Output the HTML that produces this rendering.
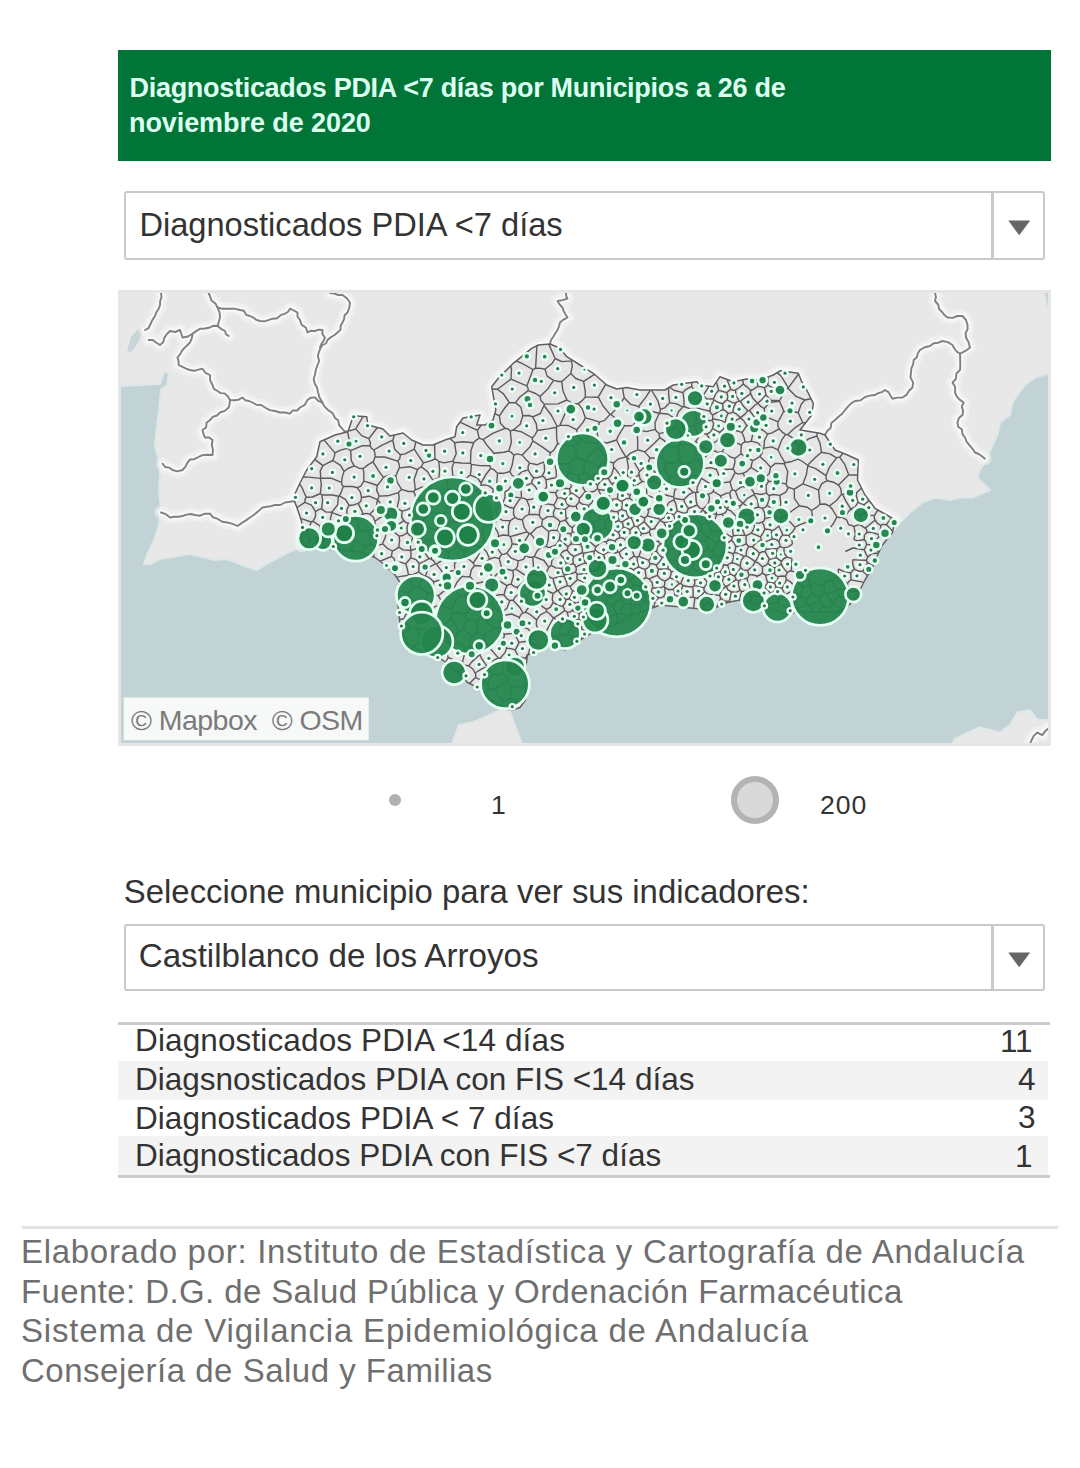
<!DOCTYPE html>
<html lang="es"><head><meta charset="utf-8"><title>Diagnosticados PDIA</title>
<style>
html,body{margin:0;padding:0;background:#fff}
body{width:1080px;height:1468px;position:relative;overflow:hidden;font-family:"Liberation Sans",sans-serif}
.t{position:absolute;white-space:pre;font-family:"Liberation Sans",sans-serif}
.dd{position:absolute;left:124.2px;width:920.4px;box-sizing:border-box;border:2.75px solid #c9c9c9;border-radius:3px;background:#fff}
</style></head><body>
<div style="position:absolute;left:118px;top:50px;width:933px;height:111px;background:#007537"></div>
<div class="t" style="left:129.5px;top:70.64px;font-size:27px;line-height:34px;color:#defff0;font-weight:bold;letter-spacing:-0.29px;">Diagnosticados PDIA &lt;7 días por Municipios a 26 de</div>
<div class="t" style="left:129px;top:106.34px;font-size:27px;line-height:34px;color:#defff0;font-weight:bold;letter-spacing:-0.08px;">noviembre de 2020</div>
<div class="dd" style="top:191px;height:68.7px"></div><div style="position:absolute;left:991px;top:193px;width:2.75px;height:64.7px;background:#c9c9c9"></div><svg style="position:absolute;left:1004px;top:216.15px" width="30" height="24" viewBox="0 0 30 24"><path d="M4.3 4.5 L26.2 4.5 L15.2 19.3 Z" fill="#666"/></svg><div class="t" style="left:139.4px;top:203.70px;font-size:32.62px;line-height:41px;color:#333;font-weight:normal;letter-spacing:0px;">Diagnosticados PDIA &lt;7 días</div>
<svg style="position:absolute;left:118px;top:290px" width="933" height="456" viewBox="118 290 933 456">
<rect x="118" y="290" width="933" height="456" fill="#c1d3d4"/>
<polygon points="118.0,290.0 1043.7,290.0 1047.5,310.0 1051.0,310.0 1051.0,373.0 1047.5,373.7 1035.0,377.5 1025.0,385.0 1017.5,395.0 1012.5,402.5 1010.0,415.0 1000.0,422.5 997.5,435.0 992.5,445.0 987.5,457.5 980.0,470.0 977.5,477.5 985.0,485.0 990.0,490.0 972.5,497.5 960.0,497.5 950.0,500.0 935.0,497.5 922.5,502.5 910.0,512.5 900.0,522.5 892.5,532.5 882.5,545.0 877.0,556.0 872.5,567.5 865.0,580.0 860.0,590.0 855.0,600.0 848.0,606.0 838.0,612.0 820.0,612.0 800.0,612.0 785.0,614.0 765.0,606.0 740.0,600.0 727.5,602.5 710.0,610.0 685.0,607.5 660.0,605.0 647.5,610.0 630.0,616.0 612.0,626.0 595.0,631.0 580.0,640.0 565.0,650.0 550.0,645.0 535.0,652.5 527.5,655.0 525.0,675.0 525.5,700.0 520.0,707.5 512.5,710.0 500.0,706.0 488.0,697.0 477.5,687.5 467.5,682.5 458.0,672.0 442.5,660.0 425.0,652.0 408.0,645.0 400.0,625.0 397.5,600.0 400.0,582.5 395.0,575.0 385.0,565.0 375.0,557.5 360.0,552.0 340.0,550.0 320.0,548.0 302.0,546.0 300.0,547.0 285.0,554.0 270.0,562.0 257.0,570.0 245.0,566.0 227.0,559.0 215.0,560.0 190.0,554.0 160.0,559.0 151.0,564.0 144.0,564.0 147.0,555.0 154.0,540.0 159.0,525.0 161.0,510.0 159.0,492.0 160.0,475.0 159.0,460.0 155.0,447.0 156.0,435.0 159.0,410.0 161.0,390.0 167.0,385.0 169.0,372.0 164.0,372.0 160.0,384.0 121.0,386.0 118.0,386.0" fill="#e8e8e8" stroke="#dfe7e7" stroke-width="2" stroke-linejoin="round"/>
<polygon points="451.0,746.0 459.0,725.0 472.5,722.5 490.0,715.0 500.0,710.0 510.0,712.0 515.0,725.0 522.5,746.0" fill="#e8e8e8" stroke="#dfe7e7" stroke-width="2" stroke-linejoin="round"/>
<polygon points="951.0,746.0 955.0,739.0 965.0,734.0 980.0,727.5 1000.0,732.5 1010.0,725.0 1017.5,712.5 1030.0,710.0 1037.5,720.0 1051.0,720.0 1051.0,746.0" fill="#e8e8e8" stroke="#dfe7e7" stroke-width="2" stroke-linejoin="round"/>
<polygon points="127.0,351.0 131.0,337.0 139.0,328.0 143.0,330.0 138.0,343.0 131.0,352.0" fill="#c7d6d7"/>
<polyline points="161.0,293.0 161.5,297.1 160.2,301.0 160.0,305.0 158.7,308.8 156.4,312.2 155.0,316.0 152.2,320.3 150.0,325.0 148.4,328.4 145.0,330.0" fill="none" stroke="#f4f4f4" stroke-opacity=".55" stroke-width="13" stroke-linejoin="round" stroke-linecap="round"/>
<polyline points="148.7,340.0 152.8,339.9 156.0,342.5 160.0,345.0 163.3,342.1 164.4,337.6 166.9,334.0 170.0,331.0 175.1,332.0 180.0,330.0 181.3,333.7 182.5,337.5 187.9,336.5 192.5,333.7 196.2,331.1 200.0,328.7 205.0,328.5 210.0,327.5 213.5,325.7 217.5,326.0 221.0,328.8 225.0,331.0 226.0,334.2 228.7,336.0" fill="none" stroke="#f4f4f4" stroke-opacity=".55" stroke-width="13" stroke-linejoin="round" stroke-linecap="round"/>
<polyline points="217.5,326.0 218.8,321.8 220.0,317.5 219.5,312.3 217.5,307.5 215.4,303.4 211.4,300.5 210.0,296.0 208.0,292.0" fill="none" stroke="#f4f4f4" stroke-opacity=".55" stroke-width="13" stroke-linejoin="round" stroke-linecap="round"/>
<polyline points="217.5,307.5 221.6,308.7 225.8,308.6 230.0,308.7 235.1,308.8 240.0,310.0 244.1,310.8 246.1,314.9 250.0,316.0 253.4,317.6 256.4,319.9 260.0,321.0 264.4,321.4 268.4,320.1 272.5,318.7 277.1,318.2 280.7,315.1 285.0,313.7 288.1,311.8 290.0,308.7 293.8,310.5 297.5,312.5 297.5,316.7 300.0,320.0 301.5,324.8 306.0,327.7 307.5,332.5 311.0,330.7 315.0,331.0 318.6,329.7 322.5,330.0 322.4,334.2 325.0,337.5 323.5,340.9 321.3,344.0 320.0,347.5" fill="none" stroke="#f4f4f4" stroke-opacity=".55" stroke-width="13" stroke-linejoin="round" stroke-linecap="round"/>
<polyline points="192.5,333.7 191.8,338.3 190.0,342.5 186.2,346.2 182.5,350.0 180.3,353.9 177.5,357.5 178.5,361.2 178.7,365.0 182.4,366.9 186.1,368.6 190.0,370.0 194.3,370.8 198.4,369.7 202.5,368.7 205.4,372.8 210.0,375.0 210.2,380.3 212.5,385.0 213.9,388.9 217.5,391.0 220.6,393.1 224.6,393.4 227.5,396.0 230.0,400.0 234.4,400.2 238.6,399.7 242.5,397.5 245.3,400.3 249.1,401.0 252.5,402.5 256.4,404.8 261.2,405.0 265.0,407.5 269.7,410.1 274.9,411.0 280.0,412.5 285.1,412.5 290.0,413.7 292.6,410.5 297.2,410.5 300.0,407.5 304.8,404.8 307.5,400.0 310.9,397.6 315.0,397.5 318.2,400.8 322.5,402.5" fill="none" stroke="#f4f4f4" stroke-opacity=".55" stroke-width="13" stroke-linejoin="round" stroke-linecap="round"/>
<polyline points="230.0,400.0 229.6,403.8 228.7,407.5 224.9,410.9 220.0,412.5 217.0,415.5 212.8,416.9 210.0,420.0 206.6,422.7 206.1,427.5 202.5,430.0 203.4,433.9 205.0,437.5 209.2,437.5 212.5,440.0 211.8,445.0 213.0,450.0 212.5,455.0 207.3,454.7 202.3,455.2 197.5,457.5 194.2,459.2 190.2,459.5 187.5,462.5 185.5,466.6 182.5,470.0 177.5,471.3 172.5,470.0 169.3,467.6 165.1,467.0 162.5,463.7" fill="none" stroke="#f4f4f4" stroke-opacity=".55" stroke-width="13" stroke-linejoin="round" stroke-linecap="round"/>
<polyline points="161.0,512.5 165.9,514.2 170.0,517.5 174.1,516.7 178.4,516.8 182.5,516.0 186.6,514.6 190.7,514.0 195.0,515.0 200.1,515.7 205.0,513.6 210.0,513.7 213.0,517.3 217.5,518.7 222.1,521.7 227.5,522.5 232.6,523.9 237.5,526.0 241.6,523.1 245.9,520.4 250.0,517.5 254.4,514.5 258.5,511.1 262.5,507.5 266.7,506.8 270.9,506.2 275.0,505.0 280.3,505.0 285.0,502.5 290.0,501.8 295.0,501.0" fill="none" stroke="#f4f4f4" stroke-opacity=".55" stroke-width="13" stroke-linejoin="round" stroke-linecap="round"/>
<polyline points="330.0,293.0 334.2,293.5 338.2,295.0 342.5,295.0 346.8,298.2 350.0,302.5 349.3,307.6 347.5,312.5 344.6,315.2 344.1,319.1 342.5,322.5 340.7,325.8 340.5,329.8 337.5,332.5 334.3,335.2 330.7,337.3 327.5,340.0 326.0,343.5 322.5,345.0 320.3,348.6 318.7,352.5 317.9,356.6 319.2,361.0 317.5,365.0 315.9,369.5 315.1,374.2 313.7,378.7 314.6,383.3 317.0,387.4 318.0,392.0 319.4,397.2 322.0,402.0 324.4,406.4 328.0,410.0 332.6,413.1 335.0,418.0 338.3,420.6 339.0,425.0 341.7,428.0 344.1,431.0 348.0,431.7" fill="none" stroke="#f4f4f4" stroke-opacity=".55" stroke-width="13" stroke-linejoin="round" stroke-linecap="round"/>
<polyline points="550.0,344.0 551.0,340.0 553.3,336.7 555.3,333.3 557.5,330.0 559.0,326.3 560.0,322.5 563.5,319.6 567.5,317.5 565.5,314.3 563.7,311.1 562.5,307.5 559.7,304.5 557.5,301.0 562.6,300.1 567.5,298.7 566.2,296.0 566.0,293.0" fill="none" stroke="#f4f4f4" stroke-opacity=".55" stroke-width="13" stroke-linejoin="round" stroke-linecap="round"/>
<polyline points="825.0,435.0 827.2,431.0 830.7,428.0 831.3,423.0 835.0,420.0 838.5,416.8 842.2,413.8 845.0,410.0 848.0,406.6 851.1,403.4 855.0,401.0 860.3,400.4 864.8,397.2 869.7,395.6 875.0,395.0 878.2,393.2 881.9,392.2 885.0,390.0 888.4,392.1 890.4,395.5 892.5,398.7 897.4,397.6 902.5,397.5 906.5,394.9 909.0,390.7 912.5,387.5 913.1,382.4 910.5,377.6 911.0,372.5 911.4,368.2 913.2,364.3 913.7,360.0 916.8,357.3 917.8,353.3 920.0,350.0 924.7,347.2 930.0,346.0 933.7,343.3 938.4,342.7 942.5,341.0 947.8,342.1 952.5,345.0 954.3,348.5 956.7,351.5 960.0,353.7" fill="none" stroke="#f4f4f4" stroke-opacity=".55" stroke-width="13" stroke-linejoin="round" stroke-linecap="round"/>
<polyline points="935.0,293.0 935.9,297.0 935.0,301.0 938.1,304.5 939.2,309.2 942.5,312.5 944.7,315.3 947.5,317.5 952.6,317.9 957.5,316.0 962.5,316.0 966.0,320.0 967.5,325.0 967.6,329.2 965.6,333.2 966.0,337.5 968.6,342.2 970.0,347.5 966.9,350.0 963.5,351.8 960.0,353.7 960.2,359.1 960.3,364.6 960.0,370.0 956.4,373.5 955.9,378.9 952.5,382.5 955.2,387.1 955.0,392.5 956.9,396.7 959.9,399.9 963.7,402.5 961.8,406.5 963.1,410.9 962.5,415.0 958.9,418.0 957.5,422.5 958.2,426.8 962.0,429.6 962.5,434.1 965.0,437.5 966.7,441.8 969.6,445.3 972.5,448.8 975.0,452.5 978.7,454.0 981.9,456.2 985.0,458.7" fill="none" stroke="#f4f4f4" stroke-opacity=".55" stroke-width="13" stroke-linejoin="round" stroke-linecap="round"/>
<polyline points="1030.0,744.0 1031.8,739.7 1033.9,735.6 1037.5,732.5 1039.9,734.0 1042.5,735.0 1045.3,731.1 1049.0,728.0" fill="none" stroke="#f4f4f4" stroke-opacity=".55" stroke-width="13" stroke-linejoin="round" stroke-linecap="round"/>
<polyline points="302.0,546.0 301.7,530.0 301.7,521.7 296.7,506.7 293.0,498.0 300.0,483.0 306.7,470.0 316.7,456.7 320.0,441.7 335.0,435.0 348.0,431.7" fill="none" stroke="#f4f4f4" stroke-opacity=".55" stroke-width="13" stroke-linejoin="round" stroke-linecap="round"/>
<polyline points="348.0,431.7 353.3,415.8 366.7,416.7 368.0,425.0 383.0,429.0 390.0,436.0 403.0,433.0 411.7,440.0 423.0,445.0 433.0,445.0 445.0,440.0 455.0,436.7 456.7,426.7 463.0,418.0 470.0,416.7 480.0,415.0 476.7,425.0 485.0,425.0 493.0,420.0 495.8,410.0 491.7,386.7 498.3,378.3 513.3,363.3 531.7,348.3 538.3,345.0 550.0,344.0 560.0,348.3 566.7,356.7 580.0,365.0 593.3,373.3 606.7,385.0 616.7,389.0 626.7,387.5 640.0,390.0 665.0,390.0 673.3,385.0 696.7,381.7 700.0,385.0 713.3,386.7 720.0,376.7 733.3,381.7 746.7,379.0 760.0,380.0 773.3,375.0 780.0,370.8 798.3,373.3 801.7,381.7 806.7,390.0 813.3,403.3 811.7,415.0 800.0,430.0 820.0,433.3 825.0,435.0" fill="none" stroke="#f4f4f4" stroke-opacity=".55" stroke-width="13" stroke-linejoin="round" stroke-linecap="round"/>
<polyline points="825.0,435.0 835.0,450.0 847.5,455.0 858.3,460.0 857.5,480.0 865.0,495.0 875.0,508.3 886.7,515.0 895.0,520.0" fill="none" stroke="#f4f4f4" stroke-opacity=".55" stroke-width="13" stroke-linejoin="round" stroke-linecap="round"/>
<polyline points="161.0,293.0 161.5,297.1 160.2,301.0 160.0,305.0 158.7,308.8 156.4,312.2 155.0,316.0 152.2,320.3 150.0,325.0 148.4,328.4 145.0,330.0" fill="none" stroke="#f8f8f8" stroke-opacity=".9" stroke-width="6.5" stroke-linejoin="round" stroke-linecap="round"/>
<polyline points="148.7,340.0 152.8,339.9 156.0,342.5 160.0,345.0 163.3,342.1 164.4,337.6 166.9,334.0 170.0,331.0 175.1,332.0 180.0,330.0 181.3,333.7 182.5,337.5 187.9,336.5 192.5,333.7 196.2,331.1 200.0,328.7 205.0,328.5 210.0,327.5 213.5,325.7 217.5,326.0 221.0,328.8 225.0,331.0 226.0,334.2 228.7,336.0" fill="none" stroke="#f8f8f8" stroke-opacity=".9" stroke-width="6.5" stroke-linejoin="round" stroke-linecap="round"/>
<polyline points="217.5,326.0 218.8,321.8 220.0,317.5 219.5,312.3 217.5,307.5 215.4,303.4 211.4,300.5 210.0,296.0 208.0,292.0" fill="none" stroke="#f8f8f8" stroke-opacity=".9" stroke-width="6.5" stroke-linejoin="round" stroke-linecap="round"/>
<polyline points="217.5,307.5 221.6,308.7 225.8,308.6 230.0,308.7 235.1,308.8 240.0,310.0 244.1,310.8 246.1,314.9 250.0,316.0 253.4,317.6 256.4,319.9 260.0,321.0 264.4,321.4 268.4,320.1 272.5,318.7 277.1,318.2 280.7,315.1 285.0,313.7 288.1,311.8 290.0,308.7 293.8,310.5 297.5,312.5 297.5,316.7 300.0,320.0 301.5,324.8 306.0,327.7 307.5,332.5 311.0,330.7 315.0,331.0 318.6,329.7 322.5,330.0 322.4,334.2 325.0,337.5 323.5,340.9 321.3,344.0 320.0,347.5" fill="none" stroke="#f8f8f8" stroke-opacity=".9" stroke-width="6.5" stroke-linejoin="round" stroke-linecap="round"/>
<polyline points="192.5,333.7 191.8,338.3 190.0,342.5 186.2,346.2 182.5,350.0 180.3,353.9 177.5,357.5 178.5,361.2 178.7,365.0 182.4,366.9 186.1,368.6 190.0,370.0 194.3,370.8 198.4,369.7 202.5,368.7 205.4,372.8 210.0,375.0 210.2,380.3 212.5,385.0 213.9,388.9 217.5,391.0 220.6,393.1 224.6,393.4 227.5,396.0 230.0,400.0 234.4,400.2 238.6,399.7 242.5,397.5 245.3,400.3 249.1,401.0 252.5,402.5 256.4,404.8 261.2,405.0 265.0,407.5 269.7,410.1 274.9,411.0 280.0,412.5 285.1,412.5 290.0,413.7 292.6,410.5 297.2,410.5 300.0,407.5 304.8,404.8 307.5,400.0 310.9,397.6 315.0,397.5 318.2,400.8 322.5,402.5" fill="none" stroke="#f8f8f8" stroke-opacity=".9" stroke-width="6.5" stroke-linejoin="round" stroke-linecap="round"/>
<polyline points="230.0,400.0 229.6,403.8 228.7,407.5 224.9,410.9 220.0,412.5 217.0,415.5 212.8,416.9 210.0,420.0 206.6,422.7 206.1,427.5 202.5,430.0 203.4,433.9 205.0,437.5 209.2,437.5 212.5,440.0 211.8,445.0 213.0,450.0 212.5,455.0 207.3,454.7 202.3,455.2 197.5,457.5 194.2,459.2 190.2,459.5 187.5,462.5 185.5,466.6 182.5,470.0 177.5,471.3 172.5,470.0 169.3,467.6 165.1,467.0 162.5,463.7" fill="none" stroke="#f8f8f8" stroke-opacity=".9" stroke-width="6.5" stroke-linejoin="round" stroke-linecap="round"/>
<polyline points="161.0,512.5 165.9,514.2 170.0,517.5 174.1,516.7 178.4,516.8 182.5,516.0 186.6,514.6 190.7,514.0 195.0,515.0 200.1,515.7 205.0,513.6 210.0,513.7 213.0,517.3 217.5,518.7 222.1,521.7 227.5,522.5 232.6,523.9 237.5,526.0 241.6,523.1 245.9,520.4 250.0,517.5 254.4,514.5 258.5,511.1 262.5,507.5 266.7,506.8 270.9,506.2 275.0,505.0 280.3,505.0 285.0,502.5 290.0,501.8 295.0,501.0" fill="none" stroke="#f8f8f8" stroke-opacity=".9" stroke-width="6.5" stroke-linejoin="round" stroke-linecap="round"/>
<polyline points="330.0,293.0 334.2,293.5 338.2,295.0 342.5,295.0 346.8,298.2 350.0,302.5 349.3,307.6 347.5,312.5 344.6,315.2 344.1,319.1 342.5,322.5 340.7,325.8 340.5,329.8 337.5,332.5 334.3,335.2 330.7,337.3 327.5,340.0 326.0,343.5 322.5,345.0 320.3,348.6 318.7,352.5 317.9,356.6 319.2,361.0 317.5,365.0 315.9,369.5 315.1,374.2 313.7,378.7 314.6,383.3 317.0,387.4 318.0,392.0 319.4,397.2 322.0,402.0 324.4,406.4 328.0,410.0 332.6,413.1 335.0,418.0 338.3,420.6 339.0,425.0 341.7,428.0 344.1,431.0 348.0,431.7" fill="none" stroke="#f8f8f8" stroke-opacity=".9" stroke-width="6.5" stroke-linejoin="round" stroke-linecap="round"/>
<polyline points="550.0,344.0 551.0,340.0 553.3,336.7 555.3,333.3 557.5,330.0 559.0,326.3 560.0,322.5 563.5,319.6 567.5,317.5 565.5,314.3 563.7,311.1 562.5,307.5 559.7,304.5 557.5,301.0 562.6,300.1 567.5,298.7 566.2,296.0 566.0,293.0" fill="none" stroke="#f8f8f8" stroke-opacity=".9" stroke-width="6.5" stroke-linejoin="round" stroke-linecap="round"/>
<polyline points="825.0,435.0 827.2,431.0 830.7,428.0 831.3,423.0 835.0,420.0 838.5,416.8 842.2,413.8 845.0,410.0 848.0,406.6 851.1,403.4 855.0,401.0 860.3,400.4 864.8,397.2 869.7,395.6 875.0,395.0 878.2,393.2 881.9,392.2 885.0,390.0 888.4,392.1 890.4,395.5 892.5,398.7 897.4,397.6 902.5,397.5 906.5,394.9 909.0,390.7 912.5,387.5 913.1,382.4 910.5,377.6 911.0,372.5 911.4,368.2 913.2,364.3 913.7,360.0 916.8,357.3 917.8,353.3 920.0,350.0 924.7,347.2 930.0,346.0 933.7,343.3 938.4,342.7 942.5,341.0 947.8,342.1 952.5,345.0 954.3,348.5 956.7,351.5 960.0,353.7" fill="none" stroke="#f8f8f8" stroke-opacity=".9" stroke-width="6.5" stroke-linejoin="round" stroke-linecap="round"/>
<polyline points="935.0,293.0 935.9,297.0 935.0,301.0 938.1,304.5 939.2,309.2 942.5,312.5 944.7,315.3 947.5,317.5 952.6,317.9 957.5,316.0 962.5,316.0 966.0,320.0 967.5,325.0 967.6,329.2 965.6,333.2 966.0,337.5 968.6,342.2 970.0,347.5 966.9,350.0 963.5,351.8 960.0,353.7 960.2,359.1 960.3,364.6 960.0,370.0 956.4,373.5 955.9,378.9 952.5,382.5 955.2,387.1 955.0,392.5 956.9,396.7 959.9,399.9 963.7,402.5 961.8,406.5 963.1,410.9 962.5,415.0 958.9,418.0 957.5,422.5 958.2,426.8 962.0,429.6 962.5,434.1 965.0,437.5 966.7,441.8 969.6,445.3 972.5,448.8 975.0,452.5 978.7,454.0 981.9,456.2 985.0,458.7" fill="none" stroke="#f8f8f8" stroke-opacity=".9" stroke-width="6.5" stroke-linejoin="round" stroke-linecap="round"/>
<polyline points="1030.0,744.0 1031.8,739.7 1033.9,735.6 1037.5,732.5 1039.9,734.0 1042.5,735.0 1045.3,731.1 1049.0,728.0" fill="none" stroke="#f8f8f8" stroke-opacity=".9" stroke-width="6.5" stroke-linejoin="round" stroke-linecap="round"/>
<polyline points="302.0,546.0 301.7,530.0 301.7,521.7 296.7,506.7 293.0,498.0 300.0,483.0 306.7,470.0 316.7,456.7 320.0,441.7 335.0,435.0 348.0,431.7" fill="none" stroke="#f8f8f8" stroke-opacity=".9" stroke-width="6.5" stroke-linejoin="round" stroke-linecap="round"/>
<polyline points="348.0,431.7 353.3,415.8 366.7,416.7 368.0,425.0 383.0,429.0 390.0,436.0 403.0,433.0 411.7,440.0 423.0,445.0 433.0,445.0 445.0,440.0 455.0,436.7 456.7,426.7 463.0,418.0 470.0,416.7 480.0,415.0 476.7,425.0 485.0,425.0 493.0,420.0 495.8,410.0 491.7,386.7 498.3,378.3 513.3,363.3 531.7,348.3 538.3,345.0 550.0,344.0 560.0,348.3 566.7,356.7 580.0,365.0 593.3,373.3 606.7,385.0 616.7,389.0 626.7,387.5 640.0,390.0 665.0,390.0 673.3,385.0 696.7,381.7 700.0,385.0 713.3,386.7 720.0,376.7 733.3,381.7 746.7,379.0 760.0,380.0 773.3,375.0 780.0,370.8 798.3,373.3 801.7,381.7 806.7,390.0 813.3,403.3 811.7,415.0 800.0,430.0 820.0,433.3 825.0,435.0" fill="none" stroke="#f8f8f8" stroke-opacity=".9" stroke-width="6.5" stroke-linejoin="round" stroke-linecap="round"/>
<polyline points="825.0,435.0 835.0,450.0 847.5,455.0 858.3,460.0 857.5,480.0 865.0,495.0 875.0,508.3 886.7,515.0 895.0,520.0" fill="none" stroke="#f8f8f8" stroke-opacity=".9" stroke-width="6.5" stroke-linejoin="round" stroke-linecap="round"/>
<polygon points="348.0,431.7 353.3,415.8 366.7,416.7 368.0,425.0 383.0,429.0 390.0,436.0 403.0,433.0 411.7,440.0 423.0,445.0 433.0,445.0 445.0,440.0 455.0,436.7 456.7,426.7 463.0,418.0 470.0,416.7 480.0,415.0 476.7,425.0 485.0,425.0 493.0,420.0 495.8,410.0 491.7,386.7 498.3,378.3 513.3,363.3 531.7,348.3 538.3,345.0 550.0,344.0 560.0,348.3 566.7,356.7 580.0,365.0 593.3,373.3 606.7,385.0 616.7,389.0 626.7,387.5 640.0,390.0 665.0,390.0 673.3,385.0 696.7,381.7 700.0,385.0 713.3,386.7 720.0,376.7 733.3,381.7 746.7,379.0 760.0,380.0 773.3,375.0 780.0,370.8 798.3,373.3 801.7,381.7 806.7,390.0 813.3,403.3 811.7,415.0 800.0,430.0 820.0,433.3 825.0,435.0 835.0,450.0 847.5,455.0 858.3,460.0 857.5,480.0 865.0,495.0 875.0,508.3 886.7,515.0 895.0,520.0 892.5,532.5 882.5,545.0 877.0,556.0 872.5,567.5 865.0,580.0 860.0,590.0 855.0,600.0 848.0,606.0 838.0,612.0 820.0,612.0 800.0,612.0 785.0,614.0 765.0,606.0 740.0,600.0 727.5,602.5 710.0,610.0 685.0,607.5 660.0,605.0 647.5,610.0 630.0,616.0 612.0,626.0 595.0,631.0 580.0,640.0 565.0,650.0 550.0,645.0 535.0,652.5 527.5,655.0 525.0,675.0 525.5,700.0 520.0,707.5 512.5,710.0 500.0,706.0 488.0,697.0 477.5,687.5 467.5,682.5 458.0,672.0 442.5,660.0 425.0,652.0 408.0,645.0 400.0,625.0 397.5,600.0 400.0,582.5 395.0,575.0 385.0,565.0 375.0,557.5 360.0,552.0 340.0,550.0 320.0,548.0 302.0,546.0 301.7,530.0 301.7,521.7 296.7,506.7 293.0,498.0 300.0,483.0 306.7,470.0 316.7,456.7 320.0,441.7 335.0,435.0" fill="#e6e5e6"/>
<path d="M548.8 344.1 L555.1 358.5M555.1 358.5 L561.8 361.6 L571.4 360.9M572.1 360.1 L571.4 360.9M891.5 517.9 L886.3 524.6M886.3 524.6 L892.7 531.5M536.9 345.7 L535.6 368.0M555.1 358.5 L552.2 363.3 L545.0 369.3M535.6 368.0 L540.9 368.4 L545.0 369.3M594.5 374.3 L583.6 381.3M571.4 360.9 L572.3 365.6 L570.8 373.6M570.8 373.6 L575.8 378.5 L583.6 381.3M535.6 368.0 L534.1 369.1 L533.0 369.5M516.1 361.0 L520.9 362.8 L533.0 369.5M324.0 439.9 L334.9 452.9M347.4 431.8 L349.5 440.5 L346.9 448.4M346.9 448.4 L340.0 450.4 L334.9 452.9M314.7 459.4 L323.0 465.6M323.0 465.6 L326.6 463.6 L332.9 460.5M334.9 452.9 L334.5 455.6 L332.9 460.5M545.0 369.3 L547.2 376.1 L553.6 380.4M570.8 373.6 L564.5 379.3 L561.8 381.4M553.6 380.4 L558.6 381.5 L561.8 381.4M510.7 365.9 L511.5 369.0 L511.0 379.1M533.0 369.5 L530.6 375.9 L526.9 385.8M526.9 385.8 L520.3 383.2 L511.0 379.1M500.9 706.3 L502.8 701.6M484.2 693.6 L488.7 687.8M488.7 687.8 L490.8 689.3 L494.8 689.5M502.8 701.6 L498.4 695.4 L494.8 689.5M323.0 465.6 L320.3 470.6 L320.7 478.1M302.9 477.3 L305.7 476.9 L320.4 478.4M320.7 478.1 L320.6 478.3 L320.4 478.4M350.7 450.7 L348.4 449.1 L346.9 448.4M350.7 450.7 L351.3 460.7 L354.2 465.9M332.9 460.5 L340.5 465.4 L344.0 471.4M344.0 471.4 L348.0 468.5 L354.2 465.9M320.7 478.1 L331.6 478.3 L341.6 482.4M344.0 471.4 L342.1 477.6 L341.6 482.4M350.7 450.7 L361.9 445.8 L370.0 445.7M375.1 456.8 L374.0 460.1 L373.0 461.9M373.0 461.9 L368.3 464.6 L363.2 468.5M373.9 450.0 L371.4 448.2 L370.0 445.7M373.9 450.0 L374.9 453.3 L375.1 456.8M354.2 465.9 L359.1 468.2 L363.2 468.5M375.1 456.8 L384.5 457.0 L397.7 461.1M373.9 450.0 L381.7 445.4 L392.8 440.2M392.8 440.2 L394.7 449.3 L400.4 454.8M400.4 454.8 L399.7 458.8 L397.7 461.1M373.0 461.9 L379.5 472.2 L383.4 477.4M383.4 477.4 L388.6 475.2 L395.8 476.4M395.8 476.4 L397.5 471.6 L399.5 467.9M397.7 461.1 L399.1 464.0 L399.5 467.9M668.5 387.9 L668.7 394.9 L669.6 402.6M682.8 407.0 L676.8 403.9 L669.6 402.6M669.7 387.2 L673.9 390.2 L682.9 392.6M682.8 407.0 L683.5 406.5 L683.9 406.5M683.9 406.5 L683.9 399.1 L682.9 392.6M683.9 406.5 L689.6 408.7 L693.7 408.8M693.7 408.8 L694.5 408.1 L695.4 407.6M695.4 407.6 L697.7 403.0 L700.7 396.0M682.9 392.6 L685.7 389.6 L691.6 386.3M700.7 396.0 L696.4 393.1 L691.6 386.3M691.6 386.3 L692.0 382.4M583.6 381.3 L585.3 391.7 L585.3 397.0M605.7 384.2 L598.3 397.2M598.3 397.2 L590.6 397.1 L585.3 397.0M821.5 452.3 L814.9 457.9 L807.6 465.2M821.5 452.3 L820.0 443.0 L816.9 436.0M816.9 436.0 L808.5 438.9 L799.1 446.0M799.1 446.0 L797.8 451.4 L798.0 459.2M798.0 459.2 L802.5 461.5 L807.6 465.2M807.8 465.8 L807.6 465.4 L807.6 465.2M826.0 475.7 L815.2 468.4 L807.8 465.8M836.6 457.9 L830.0 453.9 L821.5 452.3M836.6 457.9 L829.3 467.4 L826.0 475.7M843.2 453.3 L839.6 457.2M839.6 457.2 L837.7 457.4 L836.6 457.9M817.2 432.8 L817.1 432.9 L816.9 436.0M805.7 422.7 L802.7 422.5M799.1 446.0 L793.9 438.8 L787.7 434.6M802.7 422.5 L795.6 427.3 L787.7 434.6M850.1 604.2 L846.3 598.6M846.3 598.6 L846.7 595.7 L849.7 590.9M859.1 591.8 L849.7 590.9M798.0 459.2 L790.5 461.8 L785.0 462.8M787.7 434.6 L786.6 434.7 L785.6 434.4M785.6 434.4 L782.0 439.6 L777.9 449.8M785.0 462.8 L781.2 456.3 L777.9 449.8M785.6 434.4 L782.8 432.7 L779.1 428.8M767.6 434.0 L772.0 432.9 L779.1 428.8M767.6 434.0 L764.5 440.2 L763.9 448.1M777.9 449.8 L771.9 446.9 L763.9 448.1M767.6 434.0 L762.8 430.0 L757.0 428.0M751.3 441.2 L752.9 433.4 L757.0 428.0M751.3 441.2 L758.3 443.2 L762.3 449.0M762.3 449.0 L763.4 448.8 L763.9 448.1M802.8 483.9 L813.0 487.6 L818.6 490.1M807.8 465.8 L806.3 475.1 L802.8 483.9M826.0 475.7 L826.1 478.9 L827.3 480.7M818.6 490.1 L821.8 483.6 L827.3 480.7M479.3 438.2 L475.9 440.3 L473.6 442.7M473.6 442.7 L463.0 441.7 L454.6 442.8M477.4 430.4 L478.5 435.4 L479.3 438.2M477.4 430.4 L460.0 422.1M450.0 438.4 L454.6 442.8M452.9 461.1 L456.2 453.7 L454.6 442.8M452.9 461.1 L453.3 461.8 L454.0 462.2M473.6 442.7 L470.9 450.8 L470.5 463.4M454.0 462.2 L461.3 463.0 L470.5 463.4M483.1 439.5 L481.7 439.2 L479.3 438.2M483.1 439.5 L486.9 445.2 L494.1 453.3M489.6 465.8 L490.3 458.0 L494.1 453.3M489.6 465.8 L479.9 465.6 L471.4 464.4M471.4 464.4 L471.0 463.9 L470.5 463.4M502.8 701.6 L507.0 700.0 L509.8 698.1M509.8 698.1 L522.7 703.8M355.7 428.9 L361.7 435.6 L368.8 438.7M355.7 428.9 L363.1 416.5M368.8 438.7 L377.4 427.5M348.5 430.2 L350.7 430.7 L355.7 428.9M370.0 445.7 L370.5 442.8 L368.8 438.7M392.8 440.2 L394.4 435.0M492.1 389.0 L497.4 389.3M511.0 379.1 L504.5 384.0 L497.4 389.3M477.4 430.4 L481.3 425.0M415.8 441.8 L414.2 449.2M400.4 454.8 L405.1 453.9 L414.2 449.2M361.7 552.6 L365.0 546.4M350.5 551.1 L354.0 540.9M365.0 546.4 L357.8 541.8 L354.0 540.9M415.3 489.8 L414.2 479.3 L417.5 469.7M399.5 467.9 L409.9 466.7 L417.5 469.7M415.3 489.8 L414.8 490.2 L413.6 491.4M395.8 476.4 L397.4 482.5 L401.6 489.4M401.6 489.4 L408.3 491.5 L413.6 491.4M730.9 389.4 L728.3 391.2 L726.7 392.7M730.9 389.4 L733.6 390.4 L735.6 389.8M726.7 392.7 L727.9 396.2 L727.1 400.0M735.6 389.8 L735.7 395.0 L739.2 401.1M739.2 401.1 L737.0 401.8 L735.7 402.9M727.1 400.0 L732.4 402.7 L735.7 402.9M714.0 400.0 L710.2 407.3 L710.0 411.3M714.0 400.0 L719.1 402.8 L722.8 403.7M712.6 415.1 L711.1 413.6 L710.0 411.3M712.6 415.1 L719.5 410.8 L723.3 409.5M722.8 403.7 L722.8 407.3 L723.3 409.5M713.5 399.0 L706.8 398.9 L703.1 395.3M713.5 399.0 L715.6 393.9 L718.7 390.3M703.1 395.3 L708.9 386.7 L709.1 386.2M718.7 390.3 L716.8 383.2 L716.3 382.2M710.0 411.3 L704.6 409.9 L695.4 407.6M714.0 400.0 L713.9 399.4 L713.5 399.0M700.7 396.0 L701.7 395.7 L703.1 395.3M727.1 400.0 L725.1 401.2 L722.8 403.7M726.7 392.7 L724.1 391.9 L718.7 390.3M730.9 389.4 L726.9 379.3M651.4 390.0 L658.1 401.2 L660.3 409.4M650.4 390.0 L646.0 396.9 L638.6 406.5M638.6 406.5 L639.4 407.9 L639.5 409.6M639.5 409.6 L648.2 410.5 L659.1 413.3M660.3 409.4 L660.3 410.9 L659.2 413.2M659.2 413.2 L659.1 413.2 L659.1 413.3M669.6 402.6 L664.9 407.8 L660.3 409.4M622.5 388.1 L624.2 397.7M624.2 397.7 L630.8 404.4 L638.6 406.5M675.7 419.2 L678.4 411.8 L682.8 407.0M675.7 419.2 L667.8 414.0 L659.2 413.2M655.3 429.4 L655.0 422.7 L659.1 413.3M655.3 429.4 L646.4 431.6 L637.1 429.5M639.5 409.6 L638.3 416.6 L633.0 425.7M633.0 425.7 L634.6 427.0 L637.1 429.5M610.9 414.5 L610.4 414.4 L610.0 414.4M610.9 414.5 L617.9 420.2 L624.5 425.7M610.0 414.4 L604.6 420.4 L599.4 422.2M599.4 422.2 L596.9 431.0 L598.4 441.4M624.5 425.7 L618.6 435.3 L616.5 440.0M616.5 440.0 L607.2 443.0 L598.4 441.4M624.2 397.7 L619.1 405.6 L610.9 414.5M598.3 397.2 L603.1 406.0 L610.0 414.4M633.0 425.7 L628.3 425.7 L624.5 425.7M585.3 397.0 L582.5 400.4 L578.2 403.6M578.2 403.6 L582.3 408.9 L585.4 417.9M585.4 417.9 L593.0 419.9 L599.4 422.2M585.4 417.9 L583.0 422.4 L576.8 429.8M579.8 438.5 L576.9 433.4 L576.8 429.8M579.8 438.5 L587.1 442.6 L597.5 442.5M597.5 442.5 L598.1 442.0 L598.4 441.4M497.4 389.3 L503.5 393.9 L509.3 402.5M494.8 413.6 L499.4 415.9M509.3 402.5 L505.1 407.5 L499.4 415.9M483.1 439.5 L492.7 433.3 L505.1 428.3M499.4 415.9 L500.4 423.2 L505.1 428.3M494.1 453.3 L503.7 452.3 L508.8 451.0M508.8 451.0 L511.4 442.2 L510.3 430.9M505.1 428.3 L508.1 429.0 L510.3 430.9M561.8 381.4 L562.9 390.8 L567.0 400.0M578.2 403.6 L576.1 403.7 L572.2 403.5M572.2 403.5 L570.4 402.0 L567.0 400.0M576.8 429.8 L568.3 425.5 L560.0 425.1M572.2 403.5 L565.9 411.8 L560.0 425.1M804.8 400.0 L801.3 404.1 L798.2 412.8M804.8 400.0 L796.1 396.4 L788.2 388.4M798.2 412.8 L791.4 411.0 L783.6 411.5M783.6 411.5 L782.6 408.1 L779.5 401.3M788.2 388.4 L786.1 389.2 L785.0 391.1M785.0 391.1 L782.9 394.5 L779.6 400.8M779.5 401.3 L779.6 401.0 L779.6 400.8M811.0 398.7 L804.8 400.0M802.7 422.5 L800.1 417.0 L798.2 412.8M798.6 374.0 L788.3 387.8M788.3 387.8 L788.3 388.0 L788.2 388.4M778.0 421.8 L777.9 425.7 L779.1 428.8M778.0 421.8 L781.1 416.3 L783.6 411.5M768.1 377.0 L767.8 385.1M777.1 372.6 L781.1 376.0 L788.3 387.8M767.8 385.1 L775.0 389.4 L785.0 391.1M730.1 481.8 L731.2 486.4 L732.5 490.1M730.1 481.8 L731.8 478.8 L735.1 472.6M749.5 486.7 L745.9 479.7 L743.1 473.3M749.5 486.7 L741.8 486.6 L735.4 491.0M735.4 491.0 L733.9 490.1 L732.5 490.1M735.1 472.6 L738.4 474.1 L743.1 473.3M779.5 401.3 L769.6 402.3 L764.3 408.5M778.0 421.8 L770.6 418.6 L765.3 416.7M764.3 408.5 L764.6 412.9 L765.3 416.7M779.6 400.8 L771.0 400.2 L765.9 394.9M767.8 385.1 L765.6 387.0 L764.3 387.8M764.3 387.8 L765.2 390.5 L765.9 394.9M764.3 408.5 L761.0 406.7 L757.8 403.3M765.9 394.9 L761.3 400.1 L757.8 403.3M566.2 518.8 L565.8 519.2 L565.4 520.0M565.4 520.0 L562.0 521.1 L559.9 521.6M553.7 516.6 L557.7 519.3 L559.9 521.6M553.7 516.6 L553.4 512.3 L555.3 508.1M566.2 518.8 L565.6 513.8 L565.5 509.1M565.5 509.1 L561.5 509.5 L555.3 508.1M539.3 515.1 L539.6 511.0 L542.1 503.7M542.1 503.7 L548.5 504.1 L553.9 505.0M553.7 516.6 L547.6 516.6 L542.8 519.6M539.3 515.1 L540.4 517.8 L542.8 519.6M555.3 508.1 L554.5 506.2 L553.9 505.0M733.2 469.0 L734.4 471.0 L735.1 472.6M733.2 469.0 L726.4 469.5 L718.7 466.4M718.7 466.4 L717.8 467.4 L716.2 469.4M730.1 481.8 L722.4 482.9 L717.7 480.1M717.7 480.1 L718.5 474.2 L716.2 469.4M565.5 509.1 L567.6 507.5 L568.9 505.5M557.5 497.6 L556.4 500.5 L553.9 505.0M557.5 497.6 L561.1 497.9 L565.1 499.4M568.9 505.5 L566.2 503.5 L565.1 499.4M576.1 505.8 L572.9 506.7 L568.9 505.5M566.2 518.8 L573.6 515.3 L577.9 514.6M576.1 505.8 L577.3 510.4 L578.1 513.8M578.1 513.8 L578.0 514.1 L577.9 514.6M837.3 589.4 L834.0 585.1 L832.6 580.6M832.6 580.6 L834.3 579.1 L837.1 576.1M847.0 586.0 L842.1 589.3 L837.3 589.4M847.0 586.0 L847.6 584.5 L847.5 583.4M847.5 583.4 L841.8 579.6 L837.1 576.1M873.2 565.8 L867.3 562.4M878.5 553.0 L871.6 553.8 L867.8 557.1M867.8 557.1 L867.0 558.5 L866.7 560.2M867.3 562.4 L866.7 561.6 L866.7 560.2M802.8 483.9 L799.9 485.7 L794.3 489.2M794.3 489.2 L794.4 498.3 L799.3 505.7M818.6 490.1 L819.1 495.8 L820.0 504.3M820.0 504.3 L817.3 506.8 L811.5 510.5M811.5 510.5 L807.4 507.3 L799.3 505.7M837.1 576.1 L838.4 573.2 L838.3 568.9M832.6 580.6 L829.4 580.3 L827.3 581.0M741.4 591.5 L741.0 590.7 L740.1 590.4M741.4 591.5 L745.5 591.1 L748.1 591.7M740.1 590.4 L738.3 585.0 L738.8 581.2M750.7 587.3 L747.8 582.8 L747.1 578.3M748.1 591.7 L749.6 589.4 L750.7 587.3M747.1 578.3 L741.6 578.7 L738.8 581.2M750.7 587.3 L753.5 586.8 L757.6 585.4M757.6 585.4 L756.6 580.4 L757.3 576.0M747.1 578.3 L748.2 577.1 L749.0 574.9M757.3 576.0 L752.0 574.8 L749.0 574.9M738.8 581.2 L736.9 580.0 L736.0 579.4M734.7 576.0 L735.5 577.9 L736.0 579.4M740.6 567.2 L738.9 570.8 L734.7 576.0M740.6 567.2 L743.2 569.9 L747.4 570.5M747.4 570.5 L748.3 572.8 L749.0 574.9M839.6 457.2 L844.9 464.7 L848.7 474.7M857.7 475.0 L848.7 474.7M827.3 480.7 L833.5 482.2 L838.5 485.1M848.7 474.7 L841.8 481.7 L838.5 485.1M820.0 504.3 L825.0 504.0 L829.5 506.0M838.5 485.1 L840.7 488.4 L841.6 494.1M829.5 506.0 L836.7 500.2 L841.6 494.1M861.5 488.1 L856.8 492.4M856.8 492.4 L849.0 493.3 L842.6 494.5M842.6 494.5 L842.0 494.4 L841.6 494.1M379.3 496.1 L378.5 497.8 L377.6 499.5M379.3 496.1 L376.7 490.4 L377.2 485.5M377.2 485.5 L371.9 483.5 L363.9 481.1M377.6 499.5 L377.5 499.6 L377.4 499.6M377.4 499.6 L369.1 496.2 L361.5 497.5M361.5 497.5 L360.4 492.1 L357.4 487.8M357.4 487.8 L361.0 485.9 L363.9 481.1M401.6 489.4 L399.3 491.6 L398.5 492.7M398.5 492.7 L387.6 495.8 L379.3 496.1M383.4 477.4 L380.6 481.4 L377.2 485.5M363.2 468.5 L363.8 473.0 L363.9 481.1M341.6 482.4 L341.9 484.6 L343.3 486.3M343.3 486.3 L352.5 486.5 L357.4 487.8M471.4 464.4 L471.0 470.7 L470.2 475.2M489.6 465.8 L490.5 467.1 L490.7 468.3M490.7 468.3 L485.7 474.8 L481.0 483.2M470.2 475.2 L477.6 478.0 L481.0 483.2M502.0 568.9 L500.9 565.0 L499.3 558.6M502.0 568.9 L497.5 573.5 L493.8 577.5M484.6 566.3 L489.2 571.7 L492.3 577.0M489.6 559.0 L486.4 561.6 L484.6 566.3M499.3 558.6 L494.8 557.4 L489.6 559.0M493.8 577.5 L493.1 577.5 L492.3 577.0M494.8 689.5 L501.1 683.9 L507.4 681.4M509.8 698.1 L510.0 694.5 L512.2 687.4M507.4 681.4 L510.0 685.2 L512.2 687.4M512.2 687.4 L525.2 685.8M472.3 635.9 L474.4 633.7 L478.1 633.0M472.3 635.9 L468.1 632.9 L463.3 630.1M478.1 633.0 L476.2 628.5 L477.6 621.2M463.3 630.1 L464.3 623.4 L467.3 620.1M467.3 620.1 L472.8 620.9 L477.6 621.2M454.2 643.4 L451.0 649.3 L447.3 653.0M454.2 643.4 L460.3 643.7 L465.3 647.6M465.3 647.6 L464.6 653.6 L462.6 661.7M462.6 661.7 L453.3 659.7 L448.2 657.5M448.2 657.5 L447.7 655.7 L447.3 653.0M433.8 641.8 L432.8 643.0 L432.8 645.2M433.6 647.3 L432.9 646.2 L432.8 645.2M444.9 635.2 L449.8 636.2 L453.0 638.4M453.0 638.4 L453.9 641.7 L454.2 643.4M433.8 641.8 L440.0 639.3 L444.9 635.2M433.6 647.3 L442.0 651.1 L447.3 653.0M472.3 635.9 L469.9 641.3 L469.6 645.9M453.0 638.4 L456.2 635.1 L458.1 631.2M463.3 630.1 L461.5 630.6 L458.1 631.2M469.6 645.9 L467.6 647.3 L465.3 647.6M448.2 657.5 L445.5 662.3M462.6 661.7 L463.3 663.9 L464.8 665.0M464.8 665.0 L458.9 673.0M430.2 654.4 L433.6 647.3M484.1 635.2 L481.1 634.7 L478.1 633.0M469.6 645.9 L476.6 650.2 L480.2 652.9M484.1 635.2 L484.4 641.3 L488.7 646.9M480.2 652.9 L485.1 648.9 L488.5 647.5M488.7 646.9 L488.6 647.3 L488.5 647.5M484.1 635.2 L490.9 630.0 L493.9 627.7M499.8 628.3 L497.1 628.3 L493.9 627.7M504.4 634.2 L501.2 631.6 L499.8 628.3M504.4 634.2 L504.0 637.5 L502.7 639.4M488.7 646.9 L497.0 641.6 L502.7 639.4M504.4 634.2 L508.8 633.7 L511.8 633.4M511.8 633.4 L516.5 637.3 L518.9 642.4M515.1 650.1 L517.9 645.2 L518.9 642.4M515.1 650.1 L512.2 648.9 L506.5 648.1M502.7 639.4 L505.2 643.2 L506.5 648.1M488.5 647.5 L492.5 651.1 L498.3 657.9M506.5 648.1 L505.1 652.6 L500.1 658.2M500.1 658.2 L499.4 658.2 L498.3 657.9M299.5 484.0 L301.6 486.8 L306.2 497.3M320.4 478.4 L321.3 484.2 L320.4 493.5M320.4 493.5 L312.4 497.0 L306.2 497.3M323.3 548.3 L323.4 540.4M339.5 549.9 L339.5 549.9 L337.7 535.9M337.7 535.9 L332.5 536.1 L323.4 540.4M393.0 525.3 L398.7 524.1 L403.9 520.6M393.0 525.3 L391.7 518.4 L387.8 514.1M403.9 520.6 L401.6 517.0 L402.2 511.1M387.8 514.1 L387.8 512.8 L388.5 511.7M388.5 511.7 L393.9 510.5 L397.0 508.1M397.0 508.1 L398.8 509.5 L402.2 511.1M377.6 499.5 L382.6 506.9 L388.5 511.7M398.5 492.7 L399.2 498.1 L397.0 508.1M402.2 511.1 L407.4 509.6 L412.8 507.0M413.6 491.4 L415.1 494.9 L415.8 498.9M415.8 498.9 L414.7 501.7 L412.8 507.0M429.5 487.1 L431.4 489.6 L436.8 495.7M436.8 495.7 L434.1 501.9 L429.0 505.3M415.3 489.8 L421.9 487.1 L429.5 487.1M415.8 498.9 L424.0 502.1 L429.0 505.3M447.7 507.3 L444.2 502.4 L439.9 495.9M447.7 507.3 L446.1 511.0 L443.1 515.2M436.8 495.7 L438.4 495.9 L439.9 495.9M443.1 515.2 L438.7 512.6 L430.8 511.9M429.0 505.3 L429.7 508.8 L430.8 511.9M403.9 520.6 L405.5 522.3 L408.0 523.1M412.8 507.0 L413.7 512.8 L418.8 519.5M408.0 523.1 L413.4 522.5 L418.8 519.5M430.8 511.9 L427.3 515.5 L422.1 520.8M418.8 519.5 L419.9 520.0 L422.1 520.8M392.4 551.0 L391.7 554.1 L391.5 556.5M392.4 551.0 L387.3 548.3 L382.6 543.8M374.8 545.9 L379.9 544.8 L382.6 543.8M374.8 545.9 L373.8 556.0 L374.1 557.2M391.5 556.5 L380.9 560.8 L380.0 561.2M365.0 546.4 L367.5 545.8 L370.8 544.1M370.8 544.1 L372.6 545.6 L374.8 545.9M637.1 429.5 L637.7 442.1 L637.7 449.9M626.0 456.8 L621.5 450.0 L616.5 440.0M626.0 456.8 L626.2 456.8 L626.5 456.9M637.7 449.9 L630.0 453.4 L626.5 456.9M515.5 402.6 L520.9 407.2 L522.8 415.7M515.5 402.6 L520.1 396.7 L528.2 390.6M528.2 390.6 L535.6 393.5 L540.0 396.4M532.7 416.9 L540.4 413.5 L544.0 405.5M532.7 416.9 L529.0 415.5 L522.8 415.7M540.0 396.4 L540.8 400.2 L544.2 404.1M544.2 404.1 L544.3 404.7 L544.0 405.5M510.3 430.9 L511.3 430.7 L513.3 430.0M513.3 430.0 L520.2 424.3 L522.8 415.7M509.3 402.5 L513.3 402.7 L515.5 402.6M526.9 385.8 L528.1 388.5 L528.2 390.6M553.6 380.4 L547.3 389.6 L540.0 396.4M557.1 426.3 L551.2 415.0 L544.0 405.5M556.5 427.3 L556.9 426.6 L557.1 426.3M537.2 430.5 L548.0 428.9 L556.5 427.3M537.2 430.5 L536.2 423.6 L532.7 416.9M532.4 438.0 L521.6 431.9 L513.3 430.0M537.2 430.5 L535.2 434.6 L532.4 438.0M567.0 400.0 L558.0 403.9 L544.2 404.1M560.0 425.1 L558.9 425.9 L557.1 426.3M644.8 451.9 L646.6 454.1 L650.0 457.8M662.0 456.2 L654.7 458.2 L650.0 457.8M644.8 451.9 L654.1 443.5 L659.8 437.7M662.0 456.2 L662.7 450.7 L667.0 445.5M667.0 445.5 L664.6 440.9 L659.8 437.7M637.7 449.9 L641.3 450.8 L644.8 451.9M655.3 429.4 L656.7 431.5 L659.0 433.6M659.0 433.6 L659.2 435.7 L659.8 437.7M675.7 419.2 L677.5 423.4 L677.5 426.1M659.0 433.6 L668.2 431.6 L677.5 426.1M693.7 408.8 L696.7 417.6 L695.3 423.8M695.3 423.8 L694.6 425.1 L694.5 425.8M694.5 425.8 L687.8 425.6 L680.0 428.0M677.5 426.1 L679.1 427.1 L680.0 428.0M757.0 428.0 L756.3 426.8 L756.1 426.0M765.3 416.7 L761.6 420.4 L757.6 421.8M756.1 426.0 L757.0 424.2 L757.6 421.8M757.6 403.3 L757.7 403.3 L757.8 403.3M757.6 403.3 L754.9 405.3 L749.5 410.5M757.6 421.8 L755.3 418.1 L749.5 410.5M740.3 401.2 L743.6 398.8 L750.7 393.6M740.3 401.2 L743.5 406.3 L747.6 410.6M750.7 393.6 L752.8 398.3 L757.6 403.3M747.6 410.6 L748.4 410.8 L749.5 410.5M757.9 386.4 L753.2 389.4 L750.8 390.5M757.9 386.4 L757.2 379.8M750.8 390.5 L746.6 386.6 L743.2 384.1M743.2 384.1 L742.9 379.8M750.7 393.6 L750.3 392.3 L750.8 390.5M764.3 387.8 L761.6 386.9 L757.9 386.4M735.6 389.8 L739.4 387.5 L743.2 384.1M739.2 401.1 L739.6 401.2 L740.3 401.2M735.7 402.9 L733.3 408.4 L732.9 412.2M723.3 409.5 L726.5 411.7 L728.0 413.2M728.0 413.2 L729.8 413.3 L732.9 412.2M747.6 410.6 L745.3 413.9 L740.5 417.6M732.9 412.2 L736.1 413.8 L740.5 417.6M756.1 426.0 L750.4 425.5 L746.7 425.7M746.7 425.7 L743.7 420.7 L740.5 417.9M740.5 417.6 L740.5 417.8 L740.5 417.9M746.7 425.7 L744.6 428.8 L742.0 432.6M751.3 441.2 L747.4 442.1 L744.9 441.7M744.9 441.7 L744.3 438.2 L742.0 432.6M572.1 527.6 L577.3 523.5 L580.1 521.5M572.1 527.6 L572.3 530.2 L572.1 532.1M572.1 532.1 L575.2 532.0 L579.3 533.9M579.3 533.9 L581.7 531.8 L584.1 529.1M584.1 529.1 L583.5 526.3 L583.1 523.4M583.1 523.4 L581.1 522.4 L580.1 521.5M565.4 520.0 L568.9 525.2 L572.1 527.6M577.9 514.6 L578.8 517.4 L580.1 521.5M508.8 451.0 L511.3 452.4 L513.9 455.1M497.5 473.3 L504.3 473.2 L509.9 471.5M490.7 468.3 L493.8 469.6 L497.5 473.3M513.9 455.1 L512.1 465.3 L509.9 471.5M513.9 455.1 L517.2 453.9 L522.2 455.1M532.4 438.0 L532.2 439.4 L532.9 440.8M532.9 440.8 L529.8 447.1 L522.2 455.1M597.5 446.2 L602.2 452.8 L609.7 461.5M597.5 446.2 L589.3 455.1 L585.9 461.0M585.9 461.0 L594.1 464.0 L598.3 468.0M598.3 468.0 L602.0 462.7 L609.7 461.5M622.2 479.2 L619.8 474.6 L613.8 467.1M622.2 479.2 L617.9 480.6 L612.0 484.1M612.0 484.1 L609.6 481.0 L608.4 478.2M608.4 478.2 L611.7 474.6 L613.8 467.1M597.5 446.2 L597.6 444.0 L597.5 442.5M626.0 456.8 L617.9 459.2 L613.9 462.8M613.9 462.8 L611.2 462.5 L609.7 461.5M717.7 480.1 L715.1 481.7 L714.0 483.5M716.2 469.4 L711.0 467.7 L702.8 468.6M702.8 468.6 L702.4 472.3 L700.2 475.7M700.2 475.7 L700.4 476.7 L701.3 478.2M701.3 478.2 L707.7 482.4 L714.0 483.5M631.8 549.5 L629.6 548.4 L626.8 547.2M631.8 549.5 L636.2 546.5 L639.1 541.6M626.8 547.2 L626.4 544.5 L625.1 539.5M639.1 541.6 L638.8 540.6 L638.4 539.6M638.4 539.6 L635.3 538.9 L630.0 535.9M630.0 535.9 L627.8 536.8 L625.1 539.5M619.6 537.8 L616.6 539.2 L614.9 541.2M617.9 551.9 L615.9 548.0 L614.9 541.2M617.9 551.9 L618.7 552.2 L619.2 552.2M619.2 552.2 L624.2 548.4 L626.8 547.2M619.6 537.8 L622.5 537.9 L625.1 539.5M622.9 489.7 L625.9 492.3 L629.9 495.7M622.9 489.7 L623.3 484.5 L625.9 480.4M634.3 491.2 L631.5 493.3 L629.9 495.7M625.9 480.4 L626.0 480.4 L626.0 480.4M634.3 491.2 L634.8 489.6 L634.6 486.8M634.6 486.8 L631.5 481.9 L626.0 480.4M636.9 504.9 L638.9 504.2 L640.9 503.6M645.4 495.7 L642.4 499.3 L640.9 503.6M629.9 495.7 L629.7 497.1 L629.7 498.2M645.4 495.7 L638.2 491.6 L634.3 491.2M636.9 504.9 L635.2 504.2 L634.1 503.9M634.1 503.9 L632.9 500.7 L629.7 498.2M649.8 466.4 L648.7 461.1 L650.0 457.8M662.0 456.2 L664.5 460.8 L666.4 462.8M654.8 471.7 L659.5 472.3 L664.0 470.0M654.8 471.7 L651.2 467.9 L649.8 466.4M666.4 462.8 L665.3 466.4 L664.0 470.0M669.7 476.8 L677.2 475.1 L682.4 470.7M686.1 475.8 L683.3 472.3 L682.4 470.7M669.7 476.8 L669.2 478.7 L669.1 480.7M684.9 484.2 L685.2 478.9 L686.1 475.8M684.9 484.2 L680.8 487.3 L675.3 489.0M669.1 480.7 L671.1 484.5 L675.3 489.0M646.8 483.6 L649.5 481.9 L653.2 480.9M646.8 483.6 L646.8 489.9 L646.6 495.0M653.2 480.9 L657.5 483.1 L659.5 485.1M659.5 485.1 L659.3 490.1 L659.9 494.6M646.6 495.0 L652.0 497.1 L655.8 498.1M655.8 498.1 L657.9 496.3 L659.9 494.6M642.2 481.4 L639.2 483.5 L634.6 486.8M645.4 495.7 L646.0 495.4 L646.6 495.0M642.2 481.4 L644.5 481.7 L646.8 483.6M654.8 471.7 L653.0 477.4 L653.2 480.9M669.7 476.8 L667.3 473.3 L664.0 470.0M669.1 480.7 L665.9 483.9 L659.5 485.1M673.7 497.1 L674.3 492.3 L675.3 489.0M673.7 497.1 L665.8 495.0 L659.9 494.6M647.1 515.9 L648.6 511.8 L648.1 509.5M647.1 515.9 L653.5 517.6 L658.8 518.8M648.1 509.5 L653.2 507.7 L656.3 505.2M658.8 518.8 L658.5 513.6 L656.9 505.8M656.3 505.2 L656.7 505.6 L656.9 505.8M640.9 503.6 L644.3 505.3 L648.1 509.5M655.8 498.1 L656.9 501.6 L656.3 505.2M634.1 503.9 L631.0 507.9 L626.2 511.1M629.7 498.2 L626.0 498.6 L621.7 501.5M621.7 501.5 L622.5 504.4 L621.5 509.4M626.2 511.1 L624.1 510.3 L621.5 509.4M622.9 489.7 L621.4 490.1 L619.0 491.0M621.7 501.5 L619.1 500.1 L617.3 498.8M617.3 498.8 L618.0 493.8 L619.0 491.0M622.2 479.2 L624.4 479.3 L625.9 480.4M612.0 484.1 L612.1 485.3 L611.9 486.5M619.0 491.0 L615.2 489.7 L611.9 486.5M592.8 501.3 L595.2 501.3 L599.5 503.2M592.8 501.3 L590.4 497.8 L589.8 492.3M589.8 492.3 L594.5 491.3 L597.4 488.8M598.4 489.4 L598.0 489.1 L597.4 488.8M598.4 489.4 L601.0 495.5 L601.9 498.8M599.5 503.2 L600.2 501.2 L601.9 498.8M598.4 489.4 L603.6 490.2 L609.4 489.0M609.4 489.0 L609.1 494.2 L609.7 497.9M601.9 498.8 L605.8 497.7 L609.7 497.9M617.3 498.8 L614.1 498.9 L612.3 500.1M611.9 486.5 L610.3 487.7 L609.4 489.0M609.7 497.9 L611.3 499.0 L612.3 500.1M740.1 590.4 L736.1 592.4 L731.2 591.7M736.0 579.4 L730.6 583.9 L726.3 586.6M726.3 586.6 L728.1 590.1 L731.2 591.7M846.3 598.6 L843.5 597.1 L839.3 597.1M849.7 590.9 L849.0 587.7 L847.0 586.0M837.3 589.4 L837.2 589.9 L836.8 590.6M839.3 597.1 L838.4 593.3 L836.8 590.6M850.8 572.9 L850.9 576.3 L851.0 579.9M850.8 572.9 L851.9 571.3 L854.4 569.1M854.4 569.1 L858.6 571.2 L862.6 571.3M851.0 579.9 L860.5 581.6 L863.8 582.4M867.5 575.9 L867.4 575.5 L862.6 571.3M847.5 583.4 L849.4 581.0 L851.0 579.9M838.3 568.9 L845.4 572.3 L850.8 572.9M852.8 559.6 L859.0 560.1 L866.7 560.2M852.8 559.6 L852.8 564.4 L854.4 569.1M867.3 562.4 L866.4 566.7 L862.6 571.3M867.8 557.1 L866.0 554.0 L864.2 549.7M864.2 549.7 L853.0 548.0 L845.3 551.5M811.5 510.5 L812.2 514.4 L812.1 520.3M829.5 506.0 L832.5 509.5 L836.9 516.9M826.1 533.5 L833.6 523.2 L836.9 516.9M791.3 591.3 L794.3 592.5 L799.7 595.2M792.8 584.3 L792.6 587.5 L791.3 591.3M797.5 583.0 L795.2 583.4 L792.8 584.3M797.5 583.0 L800.8 584.4 L802.9 587.4M802.9 587.4 L802.1 591.1 L799.7 595.2M785.0 462.8 L784.7 463.2 L784.3 463.7M759.8 456.5 L766.0 462.1 L770.6 467.2M759.8 456.5 L762.2 452.8 L762.3 449.0M784.3 463.7 L775.3 463.4 L770.6 467.2M794.3 489.2 L792.3 488.7 L788.6 487.4M788.6 487.4 L786.9 486.3 L786.3 484.1M784.3 463.7 L787.7 471.5 L786.3 484.1M766.5 492.9 L766.0 485.5 L768.8 481.2M766.5 492.9 L761.6 494.5 L754.3 493.4M754.3 493.4 L752.1 490.0 L751.2 487.4M751.2 487.4 L758.4 483.4 L761.2 477.1M768.8 481.2 L767.1 479.2 L765.7 476.9M761.2 477.1 L763.3 476.9 L765.7 476.9M788.6 487.4 L785.8 492.2 L779.9 495.4M779.9 495.4 L773.2 494.5 L769.0 495.5M786.3 484.1 L778.3 482.2 L768.8 481.2M769.0 495.5 L767.2 494.0 L766.5 492.9M751.0 467.5 L757.8 471.6 L761.2 477.1M751.0 467.5 L746.4 471.7 L743.1 473.3M749.5 486.7 L750.6 487.0 L751.2 487.4M770.6 467.2 L769.3 473.5 L765.7 476.9M752.6 460.7 L756.2 458.8 L759.8 456.5M752.6 460.7 L751.7 463.9 L751.0 467.5M842.6 494.5 L845.8 500.9 L850.6 508.8M856.8 492.4 L856.3 495.7 L858.0 502.2M850.6 508.8 L855.3 506.8 L858.0 502.2M869.1 500.4 L864.0 504.7M858.0 502.2 L861.9 504.1 L864.0 504.7M539.3 515.1 L535.7 514.4 L528.9 514.5M538.2 496.9 L531.8 499.2 L526.6 499.8M542.1 503.7 L539.8 500.6 L538.2 496.9M528.9 514.5 L529.8 507.6 L526.6 499.8M498.1 518.0 L502.7 520.4 L510.3 520.7M508.5 535.5 L508.5 525.9 L510.3 520.7M498.1 518.0 L496.0 521.7 L492.9 524.4M508.5 535.5 L502.6 535.0 L498.9 536.3M492.9 524.4 L497.7 532.2 L498.9 536.3M539.5 493.7 L535.1 486.4 L531.7 483.2M531.7 483.2 L527.1 485.1 L523.8 485.1M538.2 496.9 L538.5 495.4 L539.5 493.7M526.6 499.8 L524.5 498.4 L521.5 497.9M523.8 485.1 L521.1 490.9 L521.5 497.9M531.7 483.2 L532.0 480.9 L533.7 477.8M528.2 469.9 L530.8 474.5 L533.7 477.8M528.2 469.9 L521.5 471.9 L516.1 477.5M523.8 485.1 L521.5 480.7 L516.1 477.5M528.2 469.9 L528.1 466.2 L529.6 463.1M509.9 471.5 L511.7 475.0 L515.3 477.4M522.2 455.1 L527.0 460.6 L529.6 463.1M516.1 477.5 L515.7 477.4 L515.3 477.4M512.8 570.7 L513.8 569.9 L515.8 569.1M515.8 569.1 L517.6 566.0 L518.2 560.8M501.8 554.4 L500.1 556.7 L499.3 558.6M501.8 554.4 L504.3 554.2 L506.7 553.1M502.0 568.9 L508.1 569.5 L512.8 570.7M506.7 553.1 L511.3 558.2 L518.2 560.8M385.9 532.4 L385.5 536.5 L382.6 543.8M385.9 532.4 L381.1 527.7 L374.9 525.9M370.8 544.1 L369.7 535.7 L368.6 531.3M374.9 525.9 L372.0 528.2 L368.6 531.3M387.8 514.1 L380.0 517.6 L375.0 521.3M391.6 530.0 L392.5 527.8 L393.0 525.3M385.9 532.4 L388.3 531.4 L391.6 530.0M374.9 525.9 L375.1 524.1 L375.0 521.3M377.4 499.6 L376.1 508.1 L369.6 514.3M375.0 521.3 L373.1 516.8 L369.6 514.3M352.4 536.4 L353.4 538.3 L354.0 540.9M352.4 536.4 L355.0 534.5 L359.7 529.5M368.6 531.3 L363.7 531.0 L359.7 529.5M438.9 477.8 L435.4 478.9 L432.9 480.3M438.9 477.8 L439.6 469.8 L438.8 461.3M432.9 480.3 L427.7 471.8 L421.4 466.9M435.0 459.0 L436.7 459.7 L438.8 461.3M435.0 459.0 L428.9 461.4 L423.4 462.9M423.4 462.9 L421.8 465.6 L421.4 466.9M429.5 487.1 L432.2 484.0 L432.9 480.3M417.5 469.7 L418.9 468.1 L421.4 466.9M452.9 461.1 L444.0 462.9 L438.8 461.3M434.6 444.3 L435.0 459.0M414.2 449.2 L419.3 456.9 L423.4 462.9M448.2 488.3 L447.4 485.3 L446.9 480.7M448.2 488.3 L451.9 490.1 L454.2 491.4M454.2 491.4 L459.6 488.6 L464.1 487.8M452.8 475.4 L458.5 477.9 L464.3 480.8M452.8 475.4 L450.1 477.5 L446.9 480.7M464.3 480.8 L464.1 483.4 L464.1 487.8M439.9 495.9 L445.6 492.5 L448.2 488.3M438.9 477.8 L443.3 479.4 L446.9 480.7M455.8 504.8 L456.9 498.1 L454.2 491.4M447.7 507.3 L453.0 505.3 L455.8 504.8M454.0 462.2 L452.1 467.2 L452.8 475.4M470.2 475.2 L467.8 476.9 L464.3 480.8M410.0 628.1 L405.8 622.5 L404.1 618.7M410.0 628.1 L403.6 633.9M404.1 618.7 L399.5 619.5M309.9 539.1 L317.6 539.0 L321.8 539.0M309.9 539.1 L305.9 546.4M321.8 539.0 L322.9 539.6 L323.4 540.4M301.8 533.5 L306.2 533.8M306.2 533.8 L308.1 535.6 L309.9 539.1M417.8 643.4 L423.6 645.8 L432.8 645.2M417.8 643.4 L413.2 647.1M443.1 515.2 L443.9 517.4 L445.0 521.0M460.8 506.4 L458.9 505.3 L455.8 504.8M463.0 519.2 L457.4 522.3 L448.1 522.8M463.0 519.2 L463.1 512.5 L460.8 506.4M445.0 521.0 L446.9 522.0 L448.1 522.8M395.0 562.7 L393.7 570.2 L392.7 572.7M395.0 562.7 L394.3 558.8 L391.5 556.5M474.9 583.7 L482.8 582.0 L492.3 577.0M474.9 583.7 L472.5 579.4 L470.0 576.5M484.6 566.3 L478.0 565.8 L474.5 565.8M474.5 565.8 L471.2 570.0 L470.0 576.5M493.8 577.5 L493.9 578.0 L494.4 578.8M512.8 570.7 L513.5 575.9 L511.1 584.1M511.1 584.1 L509.3 584.4 L507.0 585.7M507.0 585.7 L499.7 581.2 L494.4 578.8M493.9 627.7 L487.6 623.1 L484.6 615.1M477.6 621.2 L479.5 618.2 L483.3 615.0M484.6 615.1 L483.9 615.0 L483.3 615.0M504.0 594.8 L505.2 590.0 L507.0 585.7M504.0 594.8 L498.3 594.8 L493.0 596.6M494.4 578.8 L492.5 586.3 L491.7 595.4M493.0 596.6 L492.1 596.1 L491.7 595.4M480.2 652.9 L480.2 653.6 L479.9 654.7M464.8 665.0 L467.4 665.7 L468.8 665.8M479.9 654.7 L472.4 661.1 L468.8 665.8M571.5 626.0 L569.5 631.3 L568.0 634.2M571.5 626.0 L575.3 628.4 L579.9 629.8M578.8 635.7 L580.2 632.6 L579.9 629.8M578.8 635.7 L575.9 635.9 L572.1 637.9M572.1 637.9 L570.6 635.3 L568.0 634.2M571.4 645.7 L572.1 637.9M582.1 638.7 L578.8 635.7M300.6 518.3 L311.1 522.0M297.0 507.5 L304.9 502.4M304.9 502.4 L311.5 505.1 L315.5 511.7M315.5 511.7 L315.5 516.7 L312.9 521.4M311.1 522.0 L312.1 521.5 L312.9 521.4M306.2 533.8 L309.5 527.2 L311.1 522.0M306.2 497.3 L305.1 499.1 L304.9 502.4M319.9 525.8 L319.2 531.4 L321.8 539.0M319.9 525.8 L315.5 522.9 L312.9 521.4M321.7 494.7 L322.6 499.8 L321.6 508.8M321.7 494.7 L332.4 495.0 L338.4 496.3M338.4 496.3 L337.7 504.8 L331.8 512.3M321.6 508.8 L325.4 511.9 L331.8 512.3M320.4 493.5 L321.0 494.1 L321.7 494.7M315.5 511.7 L318.5 509.6 L321.6 508.8M343.3 486.3 L341.4 491.8 L339.3 495.8M339.3 495.8 L339.0 496.0 L338.4 496.3M352.4 536.4 L346.7 534.5 L340.6 532.9M337.7 535.9 L338.4 534.6 L339.8 533.1M340.6 532.9 L340.1 533.1 L339.8 533.1M319.9 525.8 L323.4 523.7 L330.0 521.5M339.8 533.1 L335.6 528.4 L330.0 521.5M331.8 512.3 L331.9 512.5 L332.0 512.6M330.0 521.5 L331.1 515.7 L332.0 512.6M466.7 503.1 L468.3 496.4 L468.6 492.2M466.7 503.1 L474.8 507.0 L479.9 508.3M484.7 504.5 L481.8 495.2 L477.3 490.6M484.7 504.5 L482.7 507.3 L479.9 508.3M477.3 490.6 L474.3 490.2 L468.6 492.2M460.8 506.4 L462.9 505.1 L466.7 503.1M464.1 487.8 L467.1 490.2 L468.6 492.2M481.0 483.2 L481.0 483.8 L481.3 484.7M481.3 484.7 L478.8 488.0 L477.3 490.6M391.6 530.0 L394.3 532.2 L399.2 536.1M408.0 523.1 L407.0 527.7 L407.4 532.8M399.2 536.1 L402.8 535.5 L407.4 532.8M392.4 551.0 L395.2 549.6 L398.8 547.2M399.2 536.1 L399.6 540.9 L398.8 547.2M667.0 445.5 L672.1 447.2 L678.2 446.3M680.0 428.0 L680.6 438.8 L680.0 444.8M680.0 444.8 L679.1 445.4 L678.2 446.3M666.4 462.8 L673.2 463.0 L679.9 461.3M678.2 446.3 L679.8 455.9 L679.9 461.3M682.4 470.7 L683.2 466.4 L682.5 464.2M679.9 461.3 L680.9 462.3 L682.5 464.2M752.6 460.7 L745.4 456.6 L741.0 453.8M744.9 441.7 L742.6 443.3 L741.4 445.2M741.0 453.8 L741.0 450.2 L741.4 445.2M733.2 469.0 L735.0 462.0 L734.6 458.3M741.0 453.8 L736.6 457.2 L734.6 458.3M740.5 417.9 L734.2 421.3 L731.7 427.1M742.0 432.6 L738.3 431.2 L732.9 429.8M731.7 427.1 L732.5 428.6 L732.9 429.8M591.9 532.5 L588.2 530.6 L584.1 529.1M591.9 532.5 L589.4 537.2 L588.5 540.2M579.3 533.9 L580.7 538.3 L582.9 541.2M588.5 540.2 L585.0 540.6 L582.9 541.2M570.5 533.7 L572.0 538.4 L570.8 544.0M572.1 532.1 L571.3 533.1 L570.5 533.7M570.8 544.0 L574.5 544.1 L580.6 544.6M582.9 541.2 L581.3 543.1 L580.6 544.6M576.1 505.8 L577.9 503.5 L579.1 501.9M565.1 499.4 L568.9 496.2 L570.6 492.7M579.1 501.9 L579.2 500.3 L579.4 498.3M579.4 498.3 L573.9 494.0 L570.6 492.7M588.5 505.5 L582.7 504.3 L579.1 501.9M589.8 492.3 L587.5 492.5 L585.3 491.5M588.5 505.5 L591.1 503.4 L592.8 501.3M579.4 498.3 L582.3 495.2 L585.3 491.5M556.5 427.3 L556.6 437.5 L557.6 443.7M579.8 438.5 L577.8 443.8 L573.2 446.1M557.6 443.7 L564.2 444.6 L573.2 446.1M532.9 440.8 L542.9 447.4 L550.4 452.9M557.6 443.7 L554.2 449.7 L550.4 452.9M557.5 497.6 L555.9 494.4 L555.9 492.6M539.5 493.7 L541.9 491.5 L544.0 490.6M555.9 492.6 L548.5 492.2 L544.0 490.6M597.5 485.6 L594.5 481.6 L591.6 477.7M597.5 485.6 L599.8 481.9 L604.2 478.4M604.2 478.4 L600.1 476.3 L598.0 472.0M591.6 477.7 L595.9 474.1 L598.0 472.0M597.4 488.8 L597.5 487.5 L597.5 485.6M589.4 477.4 L586.7 482.6 L582.9 486.2M589.4 477.4 L590.8 477.7 L591.6 477.7M582.9 486.2 L583.3 488.3 L585.3 491.5M608.4 478.2 L606.1 478.7 L604.2 478.4M598.3 468.0 L598.7 470.3 L598.0 472.0M613.8 467.1 L613.3 465.4 L613.9 462.8M696.9 492.0 L703.1 493.5 L708.4 494.4M696.9 492.0 L697.2 487.3 L701.3 478.2M714.0 483.5 L713.8 488.4 L713.3 491.3M713.3 491.3 L711.7 492.9 L708.4 494.4M729.7 492.9 L731.2 499.5 L730.9 504.5M729.7 492.9 L726.5 493.1 L720.8 495.9M720.8 495.9 L720.6 499.2 L720.2 501.6M720.2 501.6 L722.4 505.5 L727.1 508.4M730.9 504.5 L729.0 506.8 L727.1 508.4M732.5 490.1 L731.0 490.9 L729.7 492.9M713.3 491.3 L716.8 493.5 L720.8 495.9M656.9 505.8 L661.4 505.7 L666.0 507.4M673.7 497.1 L673.9 497.8 L674.2 498.2M666.0 507.4 L668.9 502.5 L673.8 499.9M674.2 498.2 L674.0 498.7 L673.8 499.9M618.4 532.3 L616.2 531.4 L613.4 529.4M618.4 532.3 L621.9 529.2 L623.4 526.9M613.4 529.4 L614.6 525.1 L614.0 522.7M614.0 522.7 L616.4 521.5 L618.8 520.5M623.4 526.9 L622.8 524.0 L622.2 522.0M618.8 520.5 L620.5 521.7 L622.2 522.0M619.6 537.8 L619.7 535.4 L618.4 532.3M630.1 529.9 L630.0 533.1 L630.0 535.9M630.1 529.9 L626.7 527.6 L623.4 526.9M629.1 517.3 L624.6 520.3 L622.2 522.0M629.1 517.3 L627.1 514.6 L626.2 511.1M617.3 511.6 L619.2 510.6 L621.5 509.4M617.3 511.6 L619.3 515.2 L618.8 520.5M613.4 529.4 L611.1 529.9 L609.3 531.1M614.9 541.2 L611.0 539.8 L607.7 540.6M609.3 531.1 L608.5 536.0 L607.7 540.6M638.7 566.8 L637.2 560.8 L637.2 556.9M638.7 566.8 L641.3 568.1 L645.0 569.3M645.0 569.3 L648.7 567.4 L650.2 563.5M638.8 556.4 L645.6 559.2 L649.0 560.3M637.2 556.9 L637.9 556.6 L638.8 556.4M649.0 560.3 L649.2 562.4 L650.2 563.5M638.8 556.4 L641.0 550.5 L646.2 546.5M649.0 560.3 L651.9 556.5 L652.1 551.9M646.2 546.5 L648.2 549.1 L652.1 551.9M634.3 555.9 L635.3 556.8 L637.2 556.9M634.3 555.9 L633.2 553.0 L631.8 549.5M639.1 541.6 L642.7 542.9 L646.0 545.6M646.2 546.5 L646.0 546.0 L646.0 545.6M639.6 471.5 L634.2 462.2 L626.7 457.3M639.6 471.5 L638.9 472.7 L639.1 474.3M639.1 474.3 L635.1 478.1 L627.6 478.1M626.7 457.3 L628.3 466.6 L627.6 478.1M626.5 456.9 L626.6 457.2 L626.7 457.3M649.8 466.4 L643.3 467.9 L639.6 471.5M642.2 481.4 L640.0 478.7 L639.1 474.3M626.0 480.4 L627.1 479.4 L627.6 478.1M666.0 507.4 L666.7 510.8 L667.2 512.9M677.2 510.8 L675.8 503.6 L673.8 499.9M677.2 510.8 L675.4 512.9 L673.6 514.9M673.6 514.9 L670.9 513.2 L667.2 512.9M658.8 518.8 L659.3 519.4 L660.0 520.1M667.2 512.9 L664.5 517.5 L660.0 520.1M700.4 530.0 L705.2 535.7 L707.8 538.1M700.4 530.0 L697.0 531.2 L693.7 532.5M692.9 535.4 L693.4 534.4 L693.7 532.5M692.9 535.4 L694.8 538.3 L699.0 541.9M699.0 541.9 L703.1 540.7 L705.8 540.6M705.8 540.6 L706.9 539.1 L707.8 538.1M695.1 519.2 L691.8 524.4 L689.7 526.8M689.7 526.8 L691.8 530.2 L693.7 532.5M703.0 524.7 L699.1 521.4 L695.1 519.2M703.0 524.7 L700.7 527.6 L700.4 530.0M707.5 549.1 L707.4 546.1 L705.8 540.6M707.5 549.1 L709.8 550.6 L713.4 551.9M713.4 551.9 L714.3 547.5 L717.5 542.7M717.5 542.7 L712.1 540.1 L708.3 537.9M708.3 537.9 L708.0 537.9 L707.8 538.1M637.2 514.4 L639.9 515.7 L644.6 518.1M637.2 514.4 L633.8 515.5 L631.2 518.0M631.2 518.0 L633.2 522.0 L634.3 526.2M644.6 518.1 L644.6 519.4 L644.3 521.6M644.3 521.6 L641.4 523.8 L637.4 526.6M634.3 526.2 L635.6 526.4 L637.4 526.6M647.1 515.9 L646.2 516.8 L644.6 518.1M636.9 504.9 L637.4 510.8 L637.2 514.4M629.1 517.3 L629.9 517.7 L631.2 518.0M630.1 529.9 L632.5 527.5 L634.3 526.2M638.4 539.6 L640.0 537.3 L641.4 533.8M641.4 533.8 L640.4 531.3 L637.4 526.6M599.5 503.2 L600.3 505.1 L600.9 507.6M612.3 500.1 L610.6 503.5 L610.3 509.4M600.9 507.6 L604.8 507.3 L610.3 509.4M604.6 528.0 L607.0 529.8 L609.3 531.1M614.0 522.7 L611.9 520.7 L607.5 519.5M604.6 528.0 L604.9 523.4 L605.5 520.5M607.5 519.5 L606.2 520.3 L605.5 520.5M617.3 511.6 L613.7 511.5 L610.7 510.0M607.5 519.5 L610.0 516.0 L610.7 510.0M610.7 510.0 L610.4 509.7 L610.3 509.4M812.1 520.3 L801.2 524.2 L794.8 527.1M794.8 528.5 L794.9 528.0 L794.8 527.1M799.3 505.7 L792.1 510.8 L785.3 516.2M794.8 527.1 L789.0 520.7 L785.3 516.2M794.8 528.5 L792.5 531.9 L788.6 535.4M792.4 544.1 L791.8 539.2 L788.6 535.4M722.5 583.0 L718.6 583.8 L715.2 583.1M715.2 583.1 L715.2 586.7 L713.7 593.3M725.8 586.5 L723.7 584.4 L722.5 583.0M725.8 586.5 L721.5 589.9 L719.5 595.6M719.5 595.6 L715.9 594.7 L713.7 593.3M707.5 549.1 L702.8 551.3 L700.7 552.8M699.0 541.9 L698.6 546.4 L696.0 548.9M700.7 552.8 L697.7 550.8 L696.0 548.9M688.2 546.6 L686.7 543.5 L686.9 539.6M692.9 535.4 L689.7 538.2 L686.9 539.6M688.2 546.6 L690.6 548.5 L691.8 549.5M696.0 548.9 L693.5 548.9 L691.8 549.5M708.6 602.9 L710.2 600.1 L710.0 594.7M710.0 594.7 L707.6 593.9 L704.9 591.5M704.5 604.2 L705.9 604.2 L708.6 602.9M704.5 604.2 L701.0 600.7 L696.8 598.1M704.9 591.5 L700.5 596.3 L696.8 598.1M704.5 604.2 L701.7 609.2M693.6 608.4 L694.9 598.0M696.8 598.1 L695.7 597.9 L694.9 598.0M691.8 549.5 L689.0 552.9 L688.7 559.1M679.0 551.0 L682.5 548.7 L688.2 546.6M679.0 551.0 L679.5 553.9 L679.9 558.7M679.9 558.7 L683.0 559.3 L688.7 559.1M720.1 571.9 L722.2 575.4 L723.9 577.2M720.1 571.9 L722.9 567.9 L723.4 564.4M727.5 565.0 L728.8 568.6 L730.3 574.0M727.5 565.0 L725.0 565.2 L723.4 564.4M730.3 574.0 L728.1 575.4 L723.9 577.2M734.7 576.0 L732.8 575.4 L730.3 574.0M731.8 562.8 L735.6 563.6 L740.1 566.1M740.6 567.2 L740.5 566.5 L740.1 566.1M731.8 562.8 L729.9 563.5 L727.5 565.0M726.3 586.6 L726.0 586.5 L725.8 586.5M722.5 583.0 L722.9 579.3 L723.9 577.2M810.4 584.9 L812.5 584.2 L814.6 582.8M810.4 584.9 L809.0 579.2 L805.2 575.9M802.9 587.4 L806.9 586.3 L810.0 585.6M810.0 585.6 L810.2 585.4 L810.4 584.9M800.0 574.8 L799.8 578.5 L797.5 583.0M800.0 574.8 L802.3 574.8 L805.2 575.9M823.7 585.2 L820.0 585.0 L814.6 582.8M827.3 581.0 L825.1 582.3 L823.7 585.2M800.0 574.8 L799.5 573.5 L797.9 571.8M829.6 612.0 L829.5 607.4M843.0 609.0 L833.6 604.4M829.5 607.4 L831.9 605.3 L833.6 604.4M810.0 585.6 L811.0 589.2 L812.2 592.8M812.2 592.8 L816.1 596.1 L820.4 596.7M823.7 585.2 L824.4 590.3 L824.6 593.3M820.4 596.7 L821.9 594.6 L824.6 593.3M839.3 597.1 L835.6 599.6 L833.7 603.3M833.6 604.4 L833.8 603.9 L833.7 603.3M836.8 590.6 L831.5 592.8 L826.6 593.9M833.7 603.3 L829.1 598.7 L826.6 593.9M824.6 593.3 L825.7 593.7 L826.6 593.9M878.8 552.5 L874.6 547.5 L872.6 544.4M864.2 549.7 L865.9 546.3 L866.6 544.1M872.6 544.4 L869.5 544.9 L866.6 544.1M886.8 539.6 L879.1 536.3M872.6 544.4 L876.5 539.7 L879.1 536.3M799.7 595.2 L802.2 597.7 L806.4 599.0M799.7 595.2 L796.6 601.4 L793.9 604.3M797.3 608.6 L801.8 606.8 L807.9 604.2M797.3 608.6 L794.8 607.2 L793.9 604.3M807.9 604.2 L806.3 601.2 L806.4 599.0M812.2 592.8 L810.4 595.6 L806.4 599.0M799.7 595.2 L799.7 595.2 L799.7 595.2M793.4 604.2 L787.6 598.5 L785.5 594.5M793.4 604.2 L793.7 604.3 L793.9 604.3M785.5 594.5 L787.5 593.3 L791.3 591.3M785.8 613.9 L785.8 607.6M797.3 612.4 L797.3 608.6M785.8 607.6 L789.8 606.9 L793.4 604.2M484.7 504.5 L486.1 504.3 L486.9 504.2M481.3 484.7 L488.1 485.4 L493.5 489.4M486.9 504.2 L491.5 496.8 L493.5 489.4M497.5 473.3 L496.8 482.2 L497.6 487.7M493.5 489.4 L495.3 489.2 L497.6 487.7M513.7 508.3 L517.8 501.8 L520.8 498.1M513.7 508.3 L509.2 507.2 L502.4 504.0M520.8 498.1 L513.4 496.6 L507.5 491.0M502.4 504.0 L505.1 496.9 L504.9 491.6M507.5 491.0 L506.3 491.0 L504.9 491.6M522.3 519.7 L518.7 519.3 L515.3 517.6M522.3 519.7 L525.2 516.4 L528.9 514.5M515.3 517.6 L513.5 514.3 L513.7 508.3M521.5 497.9 L521.2 498.1 L520.8 498.1M496.0 508.4 L498.9 506.2 L502.4 504.0M498.1 518.0 L496.6 513.8 L496.0 508.4M510.3 520.7 L512.7 518.9 L515.3 517.6M515.3 477.4 L513.3 483.2 L507.5 491.0M497.6 487.7 L500.5 488.4 L504.9 491.6M486.9 504.2 L490.9 507.4 L496.0 508.4M508.5 535.5 L509.6 536.1 L510.1 536.7M522.3 519.7 L524.0 526.9 L527.0 531.9M510.1 536.7 L516.2 535.0 L527.0 531.9M501.8 554.4 L498.3 549.6 L494.3 542.3M494.3 542.3 L495.8 538.7 L498.9 536.3M506.7 553.1 L511.0 547.4 L512.1 543.7M510.1 536.7 L511.4 539.3 L512.1 543.7M525.9 555.5 L523.3 551.7 L523.0 548.0M525.9 555.5 L529.0 557.3 L532.7 557.1M532.7 557.1 L533.3 556.8 L534.2 556.6M534.2 556.6 L537.6 550.2 L541.9 546.9M523.0 548.0 L524.8 541.1 L529.3 533.6M541.9 546.9 L534.3 538.7 L530.8 533.8M530.8 533.8 L530.2 533.5 L529.3 533.6M518.2 560.8 L523.4 559.3 L525.9 555.5M512.1 543.7 L519.1 544.8 L523.0 548.0M515.8 569.1 L522.6 573.6 L527.5 576.7M531.8 573.5 L529.4 575.7 L527.5 576.7M531.8 573.5 L533.5 566.9 L532.7 557.1M527.0 531.9 L527.7 532.4 L529.3 533.6M542.8 519.6 L541.9 522.3 L542.0 525.9M542.0 525.9 L536.0 528.2 L530.8 533.8M357.0 519.9 L359.1 515.9 L363.2 514.0M357.0 519.9 L353.0 518.6 L347.5 517.5M363.2 514.0 L361.7 510.6 L358.1 503.4M347.5 517.5 L347.3 517.0 L346.8 516.2M346.8 516.2 L347.0 509.2 L349.2 505.3M358.1 503.4 L352.2 505.3 L349.2 505.3M359.7 529.5 L358.4 524.6 L357.0 519.9M369.6 514.3 L366.6 513.4 L363.2 514.0M340.6 532.9 L345.9 526.9 L347.5 517.5M361.5 497.5 L360.9 501.3 L358.1 503.4M332.0 512.6 L341.6 516.2 L346.8 516.2M339.3 495.8 L345.4 499.4 L349.2 505.3M448.3 552.4 L454.2 549.3 L457.7 546.0M448.3 552.4 L441.6 547.6 L438.6 542.6M453.4 535.3 L443.7 539.9 L438.6 542.6M453.4 535.3 L454.9 535.7 L456.7 536.7M456.7 536.7 L456.2 542.6 L457.7 546.0M438.6 542.6 L438.6 542.6 L438.6 542.6M408.4 574.4 L412.4 574.8 L418.9 571.9M408.4 574.4 L407.2 568.4 L405.7 563.8M418.9 571.9 L418.7 568.8 L419.3 563.6M419.3 563.6 L416.2 559.7 L410.8 557.8M410.8 557.8 L409.0 560.0 L405.7 563.8M407.7 575.5 L408.0 574.7 L408.4 574.4M407.7 575.5 L400.8 576.4 L396.6 577.4M395.0 562.7 L400.1 562.2 L405.7 563.8M398.8 547.2 L403.1 549.9 L410.8 550.5M410.8 550.5 L411.0 553.4 L410.8 557.8M443.7 576.5 L448.0 572.0 L455.3 570.1M454.9 563.2 L454.4 566.2 L455.3 570.1M443.7 576.5 L443.5 576.4 L443.2 576.4M448.5 558.3 L452.1 560.3 L454.9 563.2M448.5 558.3 L443.0 559.6 L436.4 564.1M443.2 576.4 L441.9 571.3 L436.4 564.1M438.6 542.6 L433.8 551.6 L431.1 559.1M431.1 559.1 L434.0 561.1 L435.3 563.8M448.3 552.4 L448.5 555.9 L448.5 558.3M436.4 564.1 L435.8 564.1 L435.3 563.8M462.2 576.3 L458.5 573.6 L455.3 570.1M443.7 576.5 L445.9 582.6 L449.3 587.9M462.2 576.3 L456.9 582.3 L454.0 588.8M454.0 588.8 L452.3 588.9 L449.3 587.9M443.2 576.4 L439.8 580.3 L433.5 581.8M435.3 563.8 L428.7 567.5 L425.4 576.0M433.5 581.8 L429.6 577.8 L425.4 576.0M429.0 558.6 L430.0 558.8 L431.1 559.1M429.0 558.6 L423.1 562.0 L419.3 563.6M418.9 571.9 L421.4 574.2 L424.6 576.1M424.6 576.1 L425.0 576.0 L425.4 576.0M479.9 508.3 L479.6 511.6 L478.6 515.4M463.0 519.2 L464.1 520.4 L466.8 522.2M466.8 522.2 L470.9 519.6 L478.6 515.4M492.9 524.4 L490.1 524.7 L486.2 524.8M478.6 515.4 L483.5 518.3 L486.2 524.8M474.5 565.8 L473.7 564.0 L473.2 563.0M470.0 576.5 L466.2 576.9 L462.2 576.3M454.9 563.2 L459.0 558.9 L464.5 557.9M473.2 563.0 L469.7 559.9 L464.5 557.9M457.7 546.0 L460.5 549.0 L464.2 550.4M464.5 557.9 L464.0 553.6 L464.2 550.4M474.9 583.7 L474.7 585.0 L474.9 586.4M491.7 595.4 L488.8 596.2 L483.9 595.4M474.9 586.4 L480.0 592.0 L483.9 595.4M484.6 615.1 L488.8 611.9 L494.9 608.7M483.3 615.0 L479.1 611.4 L477.3 606.7M494.9 608.7 L492.8 603.7 L493.0 596.6M483.9 595.4 L482.2 601.8 L477.3 606.7M548.8 567.4 L544.0 560.5 L534.2 556.6M531.8 573.5 L537.0 574.6 L545.6 575.2M548.8 567.4 L546.9 570.9 L547.1 574.3M545.6 575.2 L546.3 574.9 L547.1 574.3M475.4 677.6 L475.9 675.5 L475.1 673.0M475.4 677.6 L483.1 680.8 L487.7 684.8M475.1 673.0 L482.1 668.7 L487.2 666.6M487.7 684.8 L489.3 679.7 L492.5 673.9M492.5 673.9 L489.4 670.2 L488.4 666.9M488.4 666.9 L488.0 666.7 L487.2 666.6M469.5 683.5 L475.4 677.6M468.8 665.8 L473.0 669.2 L475.1 673.0M488.7 687.8 L488.1 685.9 L487.7 684.8M479.9 654.7 L481.7 658.7 L487.2 666.6M507.4 681.4 L507.7 680.0 L507.4 677.8M507.4 677.8 L505.2 675.3 L502.8 673.5M502.8 673.5 L497.5 675.0 L492.5 673.9M503.2 661.2 L504.3 667.2 L502.8 673.5M500.1 658.2 L501.9 660.1 L503.2 661.2M498.3 657.9 L493.3 660.6 L488.4 666.9M518.7 657.8 L517.7 660.3 L515.1 661.3M518.7 657.8 L521.1 657.3 L525.3 658.3M515.1 661.3 L514.0 666.6 L515.2 672.8M525.3 658.3 L526.9 659.5M515.2 672.8 L525.0 675.9M515.1 650.1 L517.7 655.2 L518.7 657.8M503.2 661.2 L510.2 659.9 L515.1 661.3M507.4 677.8 L511.9 674.6 L515.2 672.8M564.1 649.7 L557.7 636.4M568.0 634.2 L564.5 635.0 L559.2 635.3M557.7 636.4 L558.3 636.1 L559.2 635.3M541.5 649.2 L537.2 646.4 L530.7 643.1M547.2 646.4 L548.6 643.0 L549.9 636.1M549.9 636.1 L548.3 633.5 L546.1 631.9M546.1 631.9 L542.4 631.3 L538.1 630.1M538.1 630.1 L535.3 632.0 L532.1 633.8M532.1 633.8 L531.6 637.1 L530.0 641.4M530.0 641.4 L530.4 642.1 L530.7 643.1M525.3 658.3 L528.9 652.7 L530.7 643.1M557.7 636.4 L553.8 635.7 L549.9 636.1M553.4 618.0 L548.4 627.4 L546.1 631.9M561.1 624.6 L557.8 620.4 L553.4 618.0M559.2 635.3 L560.0 628.4 L561.1 624.6M519.7 625.8 L527.8 628.8 L532.1 633.8M519.7 625.8 L516.0 629.4 L511.8 633.4M518.9 642.4 L525.4 641.5 L530.0 641.4M546.4 609.4 L546.5 610.3 L546.7 611.5M546.4 609.4 L550.3 607.3 L553.2 602.3M546.7 611.5 L549.8 614.0 L553.4 618.0M553.4 618.0 L559.2 614.6 L564.4 610.7M553.2 602.3 L558.6 605.8 L562.8 606.1M564.4 610.7 L564.3 609.1 L562.8 606.1M536.7 619.9 L536.2 624.1 L538.1 630.1M553.4 618.0 L553.4 618.0 L553.4 618.0M536.7 619.9 L540.2 614.9 L546.7 611.5M557.8 590.6 L561.0 594.3 L566.1 599.8M566.1 599.8 L565.0 603.3 L562.8 606.1M553.1 593.5 L554.5 592.7 L556.9 590.6M556.9 590.6 L557.5 590.5 L557.8 590.6M553.1 593.5 L552.2 599.1 L553.2 602.3M549.7 547.4 L547.5 547.3 L546.4 546.1M549.7 547.4 L555.9 545.0 L559.3 539.5M546.4 546.1 L548.2 540.0 L548.7 531.7M548.7 531.7 L551.8 530.2 L557.6 530.5M559.3 539.5 L559.8 537.5 L560.1 533.6M557.6 530.5 L559.2 531.9 L560.1 533.6M548.8 567.4 L549.8 566.4 L551.3 565.4M555.5 554.5 L551.8 560.8 L551.3 565.4M541.9 546.9 L543.7 547.1 L546.4 546.1M555.5 554.5 L553.4 549.5 L549.7 547.4M542.0 525.9 L546.4 529.8 L548.7 531.7M559.9 521.6 L558.9 525.7 L557.6 530.5M568.0 546.8 L569.8 545.0 L570.8 544.0M570.5 533.7 L564.3 532.6 L560.1 533.6M568.0 546.8 L564.6 543.9 L559.3 539.5M634.3 555.9 L632.4 557.2 L629.5 559.4M619.2 552.2 L620.6 556.4 L623.1 558.8M629.5 559.4 L625.3 560.1 L623.1 558.8M614.2 553.5 L613.8 558.1 L612.4 560.7M614.2 553.5 L616.6 552.5 L617.9 551.9M623.1 558.8 L622.2 563.5 L618.5 566.5M612.4 560.7 L614.4 564.4 L618.5 566.5M695.6 441.6 L693.0 443.4 L691.5 444.8M695.6 441.6 L703.8 447.6 L711.1 451.3M691.5 444.8 L695.9 450.9 L696.1 459.6M711.1 451.3 L706.0 456.3 L700.3 461.2M700.3 461.2 L698.0 459.9 L696.1 459.6M698.3 433.8 L696.1 429.9 L694.5 425.8M698.3 433.8 L698.1 438.1 L695.6 441.6M680.0 444.8 L685.6 444.2 L691.5 444.8M682.5 464.2 L690.7 462.4 L696.1 459.6M686.1 475.8 L694.6 475.7 L700.2 475.7M702.8 468.6 L700.5 465.4 L700.3 461.2M725.3 422.5 L726.1 423.6 L726.5 424.7M725.3 422.5 L720.6 420.1 L712.7 419.0M726.5 424.7 L722.7 429.8 L719.7 432.3M719.7 432.3 L717.3 431.1 L712.5 428.5M712.5 428.5 L713.6 423.8 L712.0 420.2M712.7 419.0 L712.4 419.6 L712.0 420.2M728.0 413.2 L725.8 418.4 L725.3 422.5M731.7 427.1 L728.2 425.4 L726.5 424.7M712.6 415.1 L712.7 417.2 L712.7 419.0M698.3 433.8 L701.9 433.0 L706.6 434.2M706.6 434.2 L710.6 432.1 L712.5 428.5M695.3 423.8 L704.7 420.8 L712.0 420.2M729.8 441.3 L724.5 448.1 L722.0 451.8M729.8 441.3 L729.6 440.5 L729.4 440.0M729.4 440.0 L724.6 438.5 L720.3 435.2M720.3 435.2 L717.3 440.5 L713.4 443.1M713.4 443.1 L714.4 446.4 L713.5 450.7M722.0 451.8 L720.0 452.0 L717.6 452.7M713.5 450.7 L716.0 451.2 L717.6 452.7M741.4 445.2 L737.1 443.1 L729.8 441.3M734.6 458.3 L730.4 456.8 L722.0 451.8M732.9 429.8 L731.8 434.0 L729.4 440.0M719.7 432.3 L720.4 433.8 L720.3 435.2M706.6 434.2 L710.2 439.9 L713.4 443.1M711.1 451.3 L712.2 451.3 L713.5 450.7M718.7 466.4 L718.8 458.0 L717.6 452.7M568.0 546.8 L567.8 548.0 L567.1 550.0M555.5 554.5 L557.9 554.7 L560.0 554.3M560.0 554.3 L563.6 551.0 L567.1 550.0M582.5 552.5 L582.2 547.8 L580.6 544.6M582.5 552.5 L577.9 554.7 L574.1 556.3M567.1 550.0 L570.1 554.1 L574.1 556.3M553.2 578.6 L553.8 582.6 L556.9 590.6M553.2 578.6 L559.0 576.4 L563.8 576.1M557.8 590.6 L561.2 588.2 L567.0 585.9M563.8 576.1 L566.8 582.4 L567.0 585.9M585.9 461.0 L585.6 461.2 L585.4 461.2M573.2 446.1 L576.3 454.3 L576.2 458.4M576.2 458.4 L580.4 458.5 L585.4 461.2M589.4 477.4 L587.0 473.9 L584.4 471.3M585.4 461.2 L584.0 467.1 L584.4 471.3M582.9 486.2 L580.4 484.0 L578.0 483.6M578.0 483.6 L579.4 480.2 L578.6 475.1M584.4 471.3 L582.1 474.1 L578.6 475.1M533.7 477.8 L538.3 477.5 L542.2 476.1M544.0 490.6 L546.7 486.5 L545.9 479.9M542.2 476.1 L544.8 477.7 L545.9 479.9M529.6 463.1 L537.3 464.7 L544.1 461.8M542.2 476.1 L544.6 471.2 L544.1 461.8M550.4 452.9 L549.8 455.1 L550.5 457.2M544.1 461.8 L546.4 460.2 L550.5 457.2M697.1 505.0 L693.3 506.6 L688.3 508.5M697.1 505.0 L696.1 500.1 L695.6 492.7M688.3 508.5 L684.7 502.8 L683.9 499.6M683.9 499.6 L689.7 494.1 L693.5 492.4M693.5 492.4 L694.9 492.3 L695.6 492.7M677.2 510.8 L681.7 512.7 L686.0 512.9M674.2 498.2 L679.5 499.2 L683.9 499.6M686.0 512.9 L686.3 512.8 L686.7 512.5M686.7 512.5 L687.6 510.4 L688.3 508.5M684.9 484.2 L688.3 487.7 L693.5 492.4M696.9 492.0 L696.5 492.3 L695.6 492.7M676.0 548.0 L675.6 542.3 L677.9 538.3M669.3 548.7 L673.2 549.0 L676.0 548.0M665.2 544.0 L667.1 540.1 L670.9 535.2M669.3 548.7 L668.0 545.4 L665.2 544.0M670.9 535.2 L674.5 537.2 L677.9 538.3M686.9 539.6 L684.3 538.8 L680.4 537.5M676.0 548.0 L678.1 549.3 L679.0 551.0M677.9 538.3 L679.2 538.2 L680.4 537.5M689.7 526.8 L686.2 525.2 L682.7 525.2M680.4 537.5 L681.1 531.6 L682.7 525.2M695.1 519.2 L695.1 518.4 L694.9 518.0M694.9 518.0 L691.3 516.0 L686.7 512.5M686.0 512.9 L683.7 518.7 L681.9 524.2M681.9 524.2 L682.2 524.5 L682.7 525.2M714.8 520.2 L711.2 522.2 L707.7 523.4M714.8 520.2 L719.3 525.3 L721.4 528.2M707.7 523.4 L709.0 527.8 L712.2 531.9M712.2 531.9 L716.9 530.9 L720.8 530.5M720.8 530.5 L721.4 529.6 L721.4 528.2M727.8 523.1 L724.0 526.9 L721.4 528.2M721.9 514.1 L725.5 518.9 L727.8 523.1M716.9 514.4 L715.6 517.2 L714.8 520.2M721.9 514.1 L719.0 514.6 L716.9 514.4M703.0 524.7 L704.4 524.4 L706.5 523.2M706.5 523.2 L707.2 523.2 L707.7 523.4M708.3 537.9 L710.3 534.5 L712.2 531.9M719.3 542.1 L718.4 542.6 L717.5 542.7M719.3 542.1 L719.7 537.3 L720.9 530.8M720.9 530.8 L720.8 530.6 L720.8 530.5M715.6 505.4 L712.9 504.8 L708.5 502.8M715.6 505.4 L716.0 510.8 L716.4 513.8M716.4 513.8 L709.5 514.4 L704.3 511.2M708.5 502.8 L706.7 505.6 L702.8 509.1M704.3 511.2 L703.4 510.5 L702.9 509.7M702.9 509.7 L702.8 509.5 L702.8 509.1M720.2 501.6 L717.8 503.2 L715.6 505.4M708.4 494.4 L709.5 497.9 L708.5 502.8M727.0 509.2 L727.0 508.9 L727.1 508.4M727.0 509.2 L725.6 512.6 L721.9 514.1M716.9 514.4 L716.6 514.1 L716.4 513.8M706.5 523.2 L707.0 516.3 L704.3 511.2M697.1 505.0 L699.7 507.8 L702.8 509.1M694.9 518.0 L698.1 515.3 L702.9 509.7M597.6 511.9 L598.1 514.2 L599.9 518.6M597.6 511.9 L594.7 512.5 L590.1 512.0M590.1 512.0 L589.9 512.2 L589.6 512.5M589.6 512.5 L589.9 516.4 L589.5 520.8M599.9 518.6 L596.1 520.9 L594.3 523.6M589.5 520.8 L592.0 521.5 L594.3 523.6M600.9 507.6 L598.9 509.1 L597.6 511.9M605.5 520.5 L602.6 519.6 L599.9 518.6M588.5 505.5 L589.5 509.0 L590.1 512.0M578.1 513.8 L585.1 513.7 L589.6 512.5M583.1 523.4 L587.1 523.2 L589.5 520.8M595.3 530.8 L596.0 531.1 L597.2 531.5M595.3 530.8 L593.9 527.1 L594.3 523.6M604.6 528.0 L600.2 530.0 L597.2 531.5M595.3 530.8 L593.1 532.1 L591.9 532.5M731.8 562.8 L733.7 557.6 L732.9 553.7M719.7 560.5 L720.9 562.6 L723.4 564.4M718.9 557.1 L718.9 559.3 L719.7 560.5M718.9 557.1 L723.3 554.0 L725.2 552.0M732.9 553.7 L728.0 552.0 L725.2 552.0M714.4 554.2 L716.1 555.3 L718.9 557.1M719.3 542.1 L721.4 543.0 L724.3 544.1M713.4 551.9 L714.1 553.3 L714.4 554.2M725.2 552.0 L725.8 547.1 L724.3 544.1M720.9 530.8 L726.5 534.0 L731.9 537.2M731.9 537.2 L732.0 538.7 L731.3 540.4M724.3 544.1 L728.5 542.3 L731.3 540.4M744.8 535.1 L737.5 535.4 L733.4 535.7M744.8 535.1 L742.0 528.0 L741.1 524.4M733.4 535.7 L732.6 530.2 L733.4 523.0M741.1 524.4 L738.0 522.4 L735.7 521.4M733.4 523.0 L734.4 522.4 L735.7 521.4M727.8 523.1 L731.2 522.5 L733.4 523.0M731.9 537.2 L732.6 536.4 L733.4 535.7M727.0 509.2 L731.2 511.2 L736.6 516.8M736.6 516.8 L735.8 519.4 L735.7 521.4M736.6 516.8 L738.6 514.9 L739.4 513.8M730.9 504.5 L734.2 505.4 L740.6 505.6M739.4 513.8 L739.2 509.4 L740.6 505.6M735.4 491.0 L738.4 499.0 L742.8 503.2M740.6 505.6 L741.4 504.7 L742.8 503.2M769.0 495.5 L769.4 499.0 L767.1 505.3M779.9 495.4 L780.7 503.0 L779.9 510.6M767.1 505.3 L771.6 509.1 L779.9 510.6M785.3 516.2 L784.1 516.5 L783.3 516.3M779.9 510.6 L781.3 513.9 L783.3 516.3M788.6 535.4 L786.3 535.3 L782.8 534.9M782.8 534.9 L781.6 531.7 L778.8 526.3M778.8 526.3 L780.1 523.2 L781.4 518.1M783.3 516.3 L782.7 517.1 L781.4 518.1M739.4 513.8 L744.0 513.1 L750.7 515.9M741.1 524.4 L746.5 523.0 L752.4 521.2M752.4 521.2 L750.9 518.8 L750.7 515.9M767.1 505.3 L765.2 507.4 L762.4 508.2M781.4 518.1 L772.4 516.4 L764.7 518.8M764.7 518.8 L764.7 513.1 L762.4 508.2M729.3 601.5 L724.1 601.0 L720.5 597.9M729.3 601.5 L730.0 602.0M720.5 597.9 L719.2 603.5 L714.9 607.0M714.9 607.0 L715.2 607.8M731.2 591.7 L730.8 595.4 L729.3 601.5M719.5 595.6 L720.3 596.9 L720.5 597.9M741.4 591.5 L739.4 600.1M708.6 602.9 L712.4 606.0 L714.9 607.0M713.7 593.3 L711.7 594.5 L710.0 594.7M748.1 591.7 L748.8 593.7 L751.3 596.7M751.3 596.7 L750.5 602.5M719.7 560.5 L714.9 564.9 L709.3 568.6M720.1 571.9 L717.8 571.8 L714.5 573.1M709.3 568.6 L712.4 571.1 L714.5 573.1M693.7 585.6 L697.8 586.0 L704.0 587.9M704.0 587.9 L706.6 584.1 L707.2 582.1M694.6 580.5 L694.9 583.7 L693.7 585.6M694.6 580.5 L697.3 578.9 L702.9 576.1M702.9 576.1 L704.4 578.5 L707.2 582.1M715.2 583.1 L714.7 582.8 L713.7 582.0M714.5 573.1 L714.1 577.3 L713.7 582.0M704.0 587.9 L703.9 590.1 L704.9 591.5M707.2 582.1 L710.4 582.7 L713.7 582.0M703.2 573.5 L704.9 570.5 L707.9 568.5M703.2 573.5 L697.6 571.6 L692.5 567.4M707.9 568.5 L706.4 566.1 L704.5 561.4M692.5 567.4 L692.8 565.8 L692.9 563.4M692.9 563.4 L695.8 561.3 L701.1 559.6M704.5 561.4 L703.1 560.3 L701.1 559.6M709.3 568.6 L708.7 568.3 L707.9 568.5M702.9 576.1 L702.6 575.2 L703.2 573.5M694.6 580.5 L692.8 575.8 L688.3 572.6M688.3 572.6 L689.5 570.9 L692.5 567.4M714.4 554.2 L707.6 559.2 L704.5 561.4M688.3 572.6 L685.5 573.3 L684.0 573.6M684.0 573.6 L680.2 572.1 L678.4 569.4M678.4 569.4 L677.4 564.8 L678.9 559.7M678.9 559.7 L679.5 559.2 L679.9 558.7M688.7 559.1 L691.7 560.7 L692.9 563.4M700.7 552.8 L700.2 557.1 L701.1 559.6M671.3 571.9 L670.6 575.8 L669.6 577.9M678.4 569.4 L674.1 570.8 L671.3 571.9M680.8 583.5 L680.0 583.6 L679.3 583.7M680.8 583.5 L683.4 577.1 L684.0 573.6M679.3 583.7 L676.2 580.0 L669.6 577.9M652.7 587.8 L652.3 582.7 L649.2 579.1M652.7 587.8 L659.6 588.1 L664.1 586.4M649.2 579.1 L651.9 577.5 L657.4 575.3M657.4 575.3 L660.1 578.8 L664.9 581.2M664.9 581.2 L664.7 583.8 L664.1 586.4M682.9 585.5 L681.0 590.7 L682.2 596.5M682.9 585.5 L688.3 586.7 L692.7 586.6M692.7 586.6 L693.1 590.7 L693.1 596.7M693.1 596.7 L687.4 598.1 L683.8 598.6M683.8 598.6 L683.2 597.4 L682.2 596.5M680.8 583.5 L682.2 584.6 L682.9 585.5M693.7 585.6 L693.2 586.2 L692.7 586.6M694.9 598.0 L693.8 597.5 L693.1 596.7M682.7 607.3 L683.8 598.6M822.6 605.9 L821.8 603.8 L819.8 600.1M822.6 605.9 L818.3 612.0M819.8 600.1 L814.1 603.9 L809.3 605.2M813.1 612.0 L813.0 610.9 L809.3 605.2M829.5 607.4 L825.2 607.3 L822.6 605.9M820.4 596.7 L820.2 598.1 L819.8 600.1M807.9 604.2 L808.4 605.0 L809.3 605.2M886.3 524.6 L882.7 524.4 L880.8 525.5M879.1 536.3 L878.7 535.5 L878.3 534.5M880.8 525.5 L880.2 531.5 L878.3 534.5M866.6 544.1 L865.7 541.4 L864.2 539.5M853.8 539.6 L858.0 540.9 L864.2 539.5M878.3 534.5 L871.4 532.2 L866.8 532.5M864.2 539.5 L864.4 535.1 L866.8 532.5M778.9 603.5 L778.8 603.0 L778.6 602.7M778.9 603.5 L776.8 610.7M778.6 602.7 L774.5 602.7 L769.2 604.4M769.2 604.4 L768.4 607.4M785.8 607.6 L783.4 606.5 L778.9 603.5M784.9 594.5 L782.5 597.5 L779.1 599.4M784.9 594.5 L785.2 594.4 L785.5 594.5M779.1 599.4 L778.6 600.8 L778.6 602.7M751.3 596.7 L755.5 595.5 L759.1 596.2M757.6 585.4 L759.2 587.0 L761.0 587.4M761.0 587.4 L760.7 592.1 L759.1 596.2M759.7 604.7 L762.8 599.5M759.1 596.2 L760.9 598.1 L762.8 599.5M769.2 604.4 L766.3 600.9 L764.8 599.4M762.8 599.5 L763.7 599.7 L764.8 599.4M784.9 594.5 L783.4 591.2 L781.9 588.2M792.8 584.3 L790.3 581.7 L786.3 579.4M781.9 588.2 L785.5 582.3 L786.3 579.4M797.9 571.8 L794.0 571.8 L791.5 570.8M791.5 570.8 L791.3 565.0 L792.0 558.4M453.4 535.3 L449.3 530.7 L448.1 522.8M445.0 521.0 L440.7 523.8 L436.8 529.2M438.6 542.6 L438.3 542.0 L437.6 541.6M436.8 529.2 L439.1 536.1 L437.6 541.6M422.1 520.8 L423.0 522.2 L423.6 524.9M436.8 529.2 L432.4 528.9 L423.6 524.9M458.1 631.2 L455.3 623.5 L451.0 619.1M444.9 635.2 L444.9 628.9 L441.6 624.6M451.0 619.1 L446.3 623.1 L441.6 624.6M482.0 530.8 L475.3 531.2 L467.7 530.6M482.0 530.8 L484.0 538.0 L484.9 543.9M473.0 544.4 L477.3 546.0 L481.5 546.9M473.0 544.4 L470.8 538.7 L467.0 532.0M467.0 532.0 L467.4 531.5 L467.7 530.6M484.9 543.9 L482.9 545.7 L482.0 546.7M482.0 546.7 L481.7 546.9 L481.5 546.9M486.2 524.8 L483.0 528.3 L482.0 530.8M466.8 522.2 L466.7 525.4 L467.7 530.6M494.3 542.3 L488.1 543.1 L484.9 543.9M473.2 563.0 L478.3 555.6 L481.5 546.9M464.2 550.4 L469.8 546.7 L473.0 544.4M456.7 536.7 L460.6 535.6 L467.0 532.0M489.6 559.0 L486.7 552.1 L482.0 546.7M471.8 605.8 L468.0 601.2 L465.1 596.1M471.8 605.8 L467.3 612.0 L463.7 614.5M463.7 614.5 L457.3 612.5 L453.4 612.7M459.5 596.0 L455.6 601.0 L451.7 609.0M459.5 596.0 L463.1 595.5 L465.1 596.1M453.4 612.7 L451.9 610.4 L451.7 609.0M474.9 586.4 L468.4 592.9 L465.1 596.1M477.3 606.7 L475.0 606.0 L471.8 605.8M467.3 620.1 L465.1 617.4 L463.7 614.5M451.0 619.1 L451.2 615.2 L453.4 612.7M454.0 588.8 L456.3 591.8 L459.5 596.0M519.3 617.3 L521.2 614.3 L523.0 613.0M519.3 617.3 L511.7 614.0 L504.6 615.3M523.0 613.0 L519.6 607.2 L513.2 600.4M502.5 611.8 L503.3 613.1 L504.6 615.3M502.5 611.8 L507.0 608.3 L509.8 600.6M509.8 600.6 L511.7 600.2 L513.2 600.4M536.7 619.9 L529.7 614.2 L525.2 612.2M525.2 612.2 L523.7 612.8 L523.0 613.0M519.7 625.8 L520.2 622.5 L519.3 617.3M499.8 628.3 L501.4 620.5 L504.6 615.3M494.9 608.7 L498.4 610.5 L502.5 611.8M504.0 594.8 L506.7 598.6 L509.8 600.6M511.1 584.1 L514.7 586.8 L517.3 587.3M527.5 576.7 L527.3 577.8 L527.3 579.6M527.3 579.6 L523.8 581.7 L517.3 587.3M513.2 600.4 L515.1 597.0 L519.0 593.6M517.3 587.3 L519.0 590.3 L519.0 593.6M538.5 603.4 L533.8 603.3 L530.3 604.8M538.5 603.4 L540.7 597.6 L542.2 591.2M530.3 604.8 L527.1 600.9 L526.8 596.0M526.8 596.0 L529.8 591.6 L533.2 588.0M533.2 588.0 L537.4 587.9 L540.8 589.2M540.8 589.2 L541.7 590.3 L542.2 591.2M525.2 612.2 L528.3 608.0 L530.3 604.8M546.4 609.4 L543.5 607.4 L538.5 603.4M553.1 593.5 L547.4 590.8 L542.2 591.2M519.0 593.6 L524.0 596.1 L526.8 596.0M527.3 579.6 L530.0 583.3 L533.2 588.0M545.6 575.2 L545.4 581.9 L540.8 589.2M553.2 578.6 L549.3 577.0 L547.1 574.3M561.1 624.6 L564.3 623.7 L569.5 622.2M564.4 610.7 L566.1 611.3 L567.2 612.2M567.2 612.2 L568.7 618.7 L569.5 622.2M571.5 626.0 L570.5 624.3 L570.2 622.8M569.5 622.2 L569.7 622.3 L570.2 622.8M590.7 621.1 L589.3 627.3 L590.6 630.5M590.7 621.1 L593.6 620.1 L596.6 619.4M596.6 619.4 L597.7 621.1 L599.4 621.7M599.4 621.7 L598.9 629.9M592.2 632.7 L590.6 630.5M608.8 626.9 L606.9 620.4M606.9 620.4 L602.8 621.2 L599.4 621.7M579.9 629.8 L580.5 629.6 L581.2 629.0M581.2 629.0 L585.7 630.8 L590.6 630.5M618.5 566.5 L618.4 567.6 L618.8 568.8M618.8 568.8 L620.4 569.8 L623.4 570.5M629.5 559.4 L629.0 564.2 L629.6 568.0M623.4 570.5 L626.9 569.0 L629.6 568.0M646.0 577.8 L645.6 572.9 L645.0 569.3M646.0 577.8 L644.7 578.1 L643.9 578.9M638.7 566.8 L635.2 568.7 L633.5 569.8M643.9 578.9 L638.2 578.6 L634.4 576.5M634.4 576.5 L633.1 574.2 L633.5 569.8M633.5 569.8 L631.3 568.6 L629.6 568.0M566.3 563.6 L570.0 564.6 L573.3 563.7M566.3 563.6 L564.4 566.5 L562.0 568.5M562.0 568.5 L562.5 572.5 L564.4 574.8M564.4 574.8 L570.4 574.1 L575.7 572.0M573.3 563.7 L574.9 564.9 L575.9 567.1M575.9 567.1 L576.3 569.5 L575.7 572.0M560.0 554.3 L564.0 558.6 L566.3 563.6M574.1 556.3 L572.8 559.0 L573.3 563.7M551.3 565.4 L555.5 567.9 L562.0 568.5M563.8 576.1 L563.9 575.7 L564.4 574.8M570.2 586.6 L568.1 585.7 L567.0 585.9M577.3 574.4 L576.8 577.3 L577.4 579.7M577.3 574.4 L576.6 573.3 L575.7 572.0M577.4 579.7 L572.8 584.1 L570.2 586.6M582.5 552.5 L583.0 553.0 L583.6 553.2M575.9 567.1 L581.9 563.9 L585.8 563.1M585.8 563.1 L583.1 559.0 L583.6 553.2M595.8 546.9 L595.1 548.6 L595.2 550.0M595.8 546.9 L598.8 543.9 L602.8 541.5M595.2 550.0 L599.3 553.2 L603.8 555.2M605.7 541.7 L604.6 541.6 L602.8 541.5M605.7 541.7 L608.8 546.3 L608.8 551.8M608.8 551.8 L605.7 553.3 L603.8 555.2M588.5 540.2 L591.0 542.8 L595.8 546.9M583.6 553.2 L590.3 551.9 L594.3 551.0M594.3 551.0 L594.8 550.4 L595.2 550.0M597.2 531.5 L598.4 536.2 L602.8 541.5M607.7 540.6 L606.7 541.4 L605.7 541.7M614.2 553.5 L610.9 552.5 L608.8 551.8M555.9 492.6 L557.0 490.9 L557.6 489.9M570.6 492.7 L569.8 490.2 L569.6 488.9M557.6 489.9 L564.8 488.2 L569.6 488.9M578.0 483.6 L574.7 484.0 L571.3 484.9M569.6 488.9 L571.0 487.3 L571.3 484.9M569.1 463.5 L569.9 466.2 L569.7 471.3M569.1 463.5 L559.7 464.0 L553.8 460.1M553.8 460.1 L556.2 470.5 L556.3 477.7M569.7 471.3 L568.2 474.0 L566.0 477.7M566.0 477.7 L562.3 478.2 L557.6 478.7M556.3 477.7 L556.8 478.3 L557.6 478.7M576.2 458.4 L572.4 459.7 L569.1 463.5M578.6 475.1 L572.7 474.4 L569.7 471.3M550.5 457.2 L551.9 458.0 L553.8 460.1M545.9 479.9 L552.5 478.2 L556.3 477.7M571.3 484.9 L569.9 482.2 L566.0 477.7M557.6 489.9 L558.3 482.6 L557.6 478.7M656.4 565.1 L659.2 562.3 L662.4 557.3M656.4 565.1 L657.3 567.6 L658.7 569.3M658.7 569.3 L662.5 569.0 L667.8 568.6M667.8 568.6 L668.5 562.6 L668.2 559.2M662.4 557.3 L664.6 557.0 L665.9 557.2M668.2 559.2 L667.4 558.0 L665.9 557.2M652.1 551.9 L654.2 551.4 L656.6 551.4M656.6 551.4 L659.4 555.3 L662.4 557.3M650.2 563.5 L654.2 564.1 L656.4 565.1M646.0 577.8 L647.3 578.2 L649.2 579.1M657.4 575.3 L657.7 572.0 L658.7 569.3M671.3 571.9 L670.0 569.9 L667.8 568.6M669.6 577.9 L668.0 579.2 L664.9 581.2M678.9 559.7 L675.2 560.7 L668.2 559.2M665.2 544.0 L663.0 543.8 L660.6 543.8M656.6 551.4 L657.4 546.9 L660.6 543.8M669.3 548.7 L668.5 552.7 L665.9 557.2M650.9 540.2 L654.8 541.7 L658.4 541.1M650.9 540.2 L651.1 537.0 L649.3 531.9M658.4 541.1 L659.5 537.1 L659.9 534.0M659.9 534.0 L657.6 530.2 L654.3 528.5M649.3 531.9 L649.7 530.6 L651.0 529.3M654.3 528.5 L652.6 529.3 L651.0 529.3M646.0 545.6 L647.4 542.2 L650.9 540.2M660.6 543.8 L659.4 542.8 L658.4 541.1M641.4 533.8 L646.6 533.2 L649.3 531.9M644.3 521.6 L646.6 524.3 L651.0 529.3M660.0 520.1 L660.0 520.2 L660.0 520.3M660.0 520.3 L657.3 524.1 L654.3 528.5M663.8 522.6 L670.7 521.5 L674.3 521.4M663.8 522.6 L665.7 526.1 L667.4 532.3M667.4 532.3 L668.7 533.0 L670.1 533.7M670.1 533.7 L672.4 528.0 L676.3 523.4M674.3 521.4 L675.6 522.1 L676.3 523.4M673.6 514.9 L675.0 518.7 L674.3 521.4M660.0 520.3 L661.8 521.3 L663.8 522.6M659.9 534.0 L663.6 531.9 L667.4 532.3M670.9 535.2 L670.4 534.2 L670.1 533.7M681.9 524.2 L679.9 523.0 L676.3 523.4M732.9 553.7 L734.0 552.9 L734.5 552.6M731.3 540.4 L733.6 542.2 L735.8 546.3M734.5 552.6 L735.2 549.3 L735.8 546.3M740.1 566.1 L741.0 560.5 L744.1 556.6M734.5 552.6 L738.8 553.2 L744.1 556.6M744.8 535.1 L745.7 535.4 L746.1 535.9M746.1 535.9 L746.0 540.0 L746.3 543.7M735.8 546.3 L740.9 546.5 L746.3 543.7M778.7 541.9 L780.6 537.3 L782.8 534.9M778.7 541.9 L776.5 539.5 L772.4 538.8M778.8 526.3 L774.8 529.3 L771.8 530.9M772.4 538.8 L770.9 534.5 L771.8 530.9M754.0 494.6 L757.4 499.7 L758.5 507.0M754.0 494.6 L747.3 498.4 L743.0 503.2M743.0 503.2 L749.3 508.0 L752.7 510.4M758.5 507.0 L755.1 508.0 L752.7 510.4M754.3 493.4 L754.2 494.1 L754.0 494.6M762.4 508.2 L759.8 507.6 L758.5 507.0M742.8 503.2 L742.9 503.2 L743.0 503.2M750.7 515.9 L752.0 512.9 L752.7 510.4M753.9 522.4 L758.4 523.4 L761.9 522.2M753.9 522.4 L754.3 527.9 L751.3 533.1M761.9 522.2 L763.8 524.9 L764.8 529.3M764.8 529.3 L763.4 532.6 L760.4 536.8M751.3 533.1 L754.5 534.3 L760.4 536.8M752.4 521.2 L753.0 521.8 L753.9 522.4M764.7 518.8 L764.0 521.1 L761.9 522.2M746.1 535.9 L748.7 534.3 L751.3 533.1M771.8 530.9 L769.4 529.1 L764.8 529.3M674.7 594.8 L674.5 591.6 L673.3 589.3M674.7 594.8 L671.0 596.7 L668.7 600.4M673.3 589.3 L668.4 589.7 L664.7 587.4M664.7 587.4 L665.2 593.3 L663.8 596.4M663.8 596.4 L665.6 598.6 L668.7 600.4M682.2 596.5 L677.8 596.3 L674.7 594.8M679.3 583.7 L676.2 586.1 L673.3 589.3M669.0 605.9 L668.7 600.4M664.1 586.4 L664.4 587.0 L664.7 587.4M658.8 597.9 L654.6 594.5 L651.2 591.4M658.8 597.9 L660.9 597.8 L663.8 596.4M651.2 591.4 L651.9 589.0 L652.7 587.8M653.8 607.2 L653.9 607.4M653.8 607.2 L655.2 601.1 L658.8 597.9M877.9 510.0 L874.6 515.1M864.0 504.7 L864.2 509.8 L863.9 513.1M874.6 515.1 L868.2 515.7 L863.9 513.1M880.8 525.5 L877.2 523.1 L875.1 520.0M874.6 515.1 L874.1 517.5 L875.1 520.0M866.8 532.5 L866.6 529.6 L865.0 528.1M875.1 520.0 L869.5 524.7 L865.0 528.1M771.3 593.3 L770.9 593.4 L770.6 593.4M771.3 593.3 L774.7 590.9 L775.7 586.6M770.6 593.4 L767.7 589.8 L764.2 586.8M775.7 586.6 L775.5 585.4 L774.2 583.0M774.2 583.0 L771.6 583.0 L767.5 581.9M767.5 581.9 L766.7 584.4 L764.2 586.8M779.1 599.4 L774.5 595.2 L771.3 593.3M764.8 599.4 L766.5 597.4 L770.6 593.4M781.9 588.2 L778.4 587.8 L775.7 586.6M761.0 587.4 L762.6 587.5 L764.2 586.8M757.3 576.0 L760.0 575.0 L762.3 572.9M747.4 570.5 L752.7 566.4 L755.0 561.7M755.0 561.7 L758.2 563.0 L762.4 566.8M762.4 566.8 L762.5 569.9 L762.3 572.9M767.5 581.9 L766.3 578.5 L765.7 575.4M762.3 572.9 L763.3 573.6 L765.7 575.4M792.4 544.1 L787.8 547.1 L784.0 547.6M792.0 558.4 L788.8 557.6 L787.1 557.2M787.1 557.2 L784.1 553.3 L784.0 547.6M778.7 541.9 L779.6 543.5 L780.0 546.2M780.0 546.2 L782.0 547.4 L784.0 547.6M426.5 541.3 L423.6 538.1 L420.9 534.0M426.5 541.3 L424.8 545.7 L421.3 549.3M410.9 550.5 L410.3 544.6 L412.9 536.5M410.9 550.5 L415.4 548.9 L421.3 549.3M412.9 536.5 L416.8 536.5 L420.9 534.0M437.6 541.6 L430.5 539.8 L426.5 541.3M423.6 524.9 L421.8 530.0 L420.9 534.0M429.0 558.6 L424.6 552.5 L421.3 549.3M407.4 532.8 L409.5 535.4 L412.9 536.5M410.8 550.5 L410.9 550.5 L410.9 550.5M441.6 624.6 L439.7 623.1 L435.8 623.0M433.8 641.8 L430.3 637.7 L429.3 630.2M435.8 623.0 L433.9 626.1 L429.3 630.2M417.8 643.4 L419.4 636.3 L418.4 629.1M429.3 630.2 L424.4 629.1 L418.4 629.1M410.0 628.1 L414.7 627.9 L417.6 628.3M418.4 629.1 L418.2 628.8 L417.6 628.3M566.1 599.8 L567.4 599.2 L569.0 598.8M570.2 586.6 L570.7 588.1 L572.5 590.7M572.5 590.7 L571.4 594.6 L569.0 598.8M567.2 612.2 L570.4 611.9 L572.0 610.4M569.0 598.8 L572.8 602.1 L575.4 603.0M572.0 610.4 L575.0 607.7 L575.4 603.0M580.3 593.7 L581.0 598.2 L580.4 601.3M580.3 593.7 L576.9 591.0 L572.5 590.7M575.4 603.0 L577.9 602.7 L580.4 601.3M606.9 620.4 L607.4 618.3 L608.0 616.6M596.6 619.4 L597.8 615.5 L597.7 613.0M608.0 616.6 L604.7 614.4 L603.2 609.8M597.7 613.0 L601.3 610.8 L603.2 609.8M617.1 623.1 L617.4 614.0M608.0 616.6 L612.7 615.4 L617.2 613.9M617.4 614.0 L617.3 614.0 L617.2 613.9M612.4 560.7 L608.9 562.4 L604.8 563.2M603.8 555.2 L604.6 558.0 L604.0 562.8M604.8 563.2 L604.3 563.0 L604.0 562.8M746.3 543.7 L747.3 545.0 L748.7 546.8M744.1 556.6 L744.9 556.2 L746.0 555.7M748.7 546.8 L746.7 550.2 L746.0 555.7M755.0 561.7 L755.0 561.7 L755.0 561.6M755.0 561.6 L750.9 558.5 L746.0 555.7M860.3 515.3 L860.3 519.7 L858.6 524.7M860.3 515.3 L856.9 513.5 L850.6 509.0M841.8 517.2 L846.6 519.8 L848.8 525.1M841.8 517.2 L846.7 514.2 L850.6 509.0M848.8 525.1 L851.4 525.3 L854.0 526.5M854.0 526.5 L856.8 525.3 L858.6 524.7M863.9 513.1 L862.5 514.9 L860.3 515.3M865.0 528.1 L861.0 525.4 L858.6 524.7M850.6 508.8 L850.6 508.9 L850.6 509.0M836.9 516.9 L840.1 517.7 L841.8 517.2M853.8 539.6 L855.4 534.3 L854.0 526.5M787.1 557.2 L784.0 558.5 L781.4 561.3M780.0 546.2 L779.2 547.3 L777.5 548.4M777.5 548.4 L776.3 552.0 L776.2 557.6M781.4 561.3 L777.8 558.9 L776.2 557.6M435.8 623.0 L433.8 619.3 L431.4 612.7M451.7 609.0 L445.3 607.2 L440.3 604.6M431.4 612.7 L434.3 606.9 L440.3 604.6M449.3 587.9 L442.6 592.1 L438.3 595.8M440.3 604.6 L440.5 599.4 L438.3 595.8M433.5 581.8 L433.6 587.4 L433.3 592.6M438.3 595.8 L436.4 595.1 L433.3 592.6M570.2 622.8 L573.1 620.6 L578.7 618.8M572.0 610.4 L576.1 612.4 L579.1 613.5M579.1 613.5 L579.3 616.8 L578.7 618.8M581.2 629.0 L582.3 625.8 L582.4 621.8M590.7 621.1 L589.6 620.8 L588.6 619.8M588.6 619.8 L584.6 620.5 L582.4 621.8M582.4 621.8 L580.5 620.2 L578.7 618.8M581.6 602.3 L581.8 608.0 L582.7 611.3M581.6 602.3 L588.1 600.8 L591.6 601.9M591.6 601.9 L592.1 606.6 L591.4 609.8M591.4 609.8 L589.8 611.3 L587.2 612.7M587.2 612.7 L584.5 612.4 L582.7 611.3M580.4 601.3 L581.0 601.7 L581.6 602.3M579.1 613.5 L581.4 611.7 L582.7 611.3M597.7 613.0 L594.1 611.5 L591.4 609.8M588.6 619.8 L588.8 615.6 L587.2 612.7M617.4 614.0 L618.7 613.7 L620.1 613.4M617.2 613.9 L614.5 610.3 L612.9 605.8M612.9 605.8 L616.5 601.3 L620.6 599.3M620.6 599.3 L621.8 602.1 L624.8 603.4M624.8 603.4 L622.1 607.6 L620.1 613.4M628.5 616.8 L625.0 615.0 L620.1 613.4M643.9 578.9 L642.7 583.4 L639.9 586.5M639.9 586.5 L635.2 585.3 L632.5 586.1M634.4 576.5 L633.3 577.7 L630.7 579.7M632.5 586.1 L632.0 583.0 L630.7 579.7M623.4 570.5 L625.4 575.9 L626.3 578.8M626.3 578.8 L629.1 579.7 L630.7 579.7M633.3 595.7 L637.8 596.3 L643.0 594.9M633.3 595.7 L632.9 598.9 L630.3 604.1M631.4 605.3 L631.1 604.4 L630.3 604.1M631.4 605.3 L634.6 604.4 L639.9 605.6M639.9 605.6 L642.2 603.3 L644.9 600.7M644.9 600.7 L644.9 598.3 L644.3 595.8M644.3 595.8 L643.7 595.2 L643.0 594.9M639.9 586.5 L642.3 591.5 L643.0 594.9M629.1 590.9 L631.1 588.8 L632.5 586.1M629.1 590.9 L631.9 593.0 L633.3 595.7M624.8 603.4 L627.5 604.0 L630.3 604.1M631.7 615.4 L632.4 613.4 L631.4 605.3M640.2 612.5 L639.9 605.6M653.8 607.2 L648.6 604.1 L644.9 600.7M651.2 591.4 L647.1 592.3 L644.3 595.8M618.8 568.8 L616.9 572.4 L613.2 573.7M604.8 563.2 L608.7 570.3 L610.6 573.9M613.2 573.7 L612.1 574.0 L610.6 573.9M585.8 563.1 L586.4 563.7 L587.6 564.0M594.3 551.0 L593.7 555.1 L594.4 560.4M594.4 560.4 L590.5 561.7 L587.6 564.0M604.0 562.8 L602.6 563.1 L600.5 564.0M594.4 560.4 L597.3 561.5 L600.5 564.0M603.2 609.8 L604.4 608.2 L604.3 605.2M591.6 601.9 L592.2 601.1 L593.7 599.8M593.7 599.8 L598.5 600.8 L604.3 605.2M612.9 605.8 L609.9 604.5 L606.1 604.1M606.1 604.1 L605.0 604.9 L604.3 605.2M752.2 546.9 L756.9 550.4 L759.4 553.3M752.2 546.9 L756.3 542.5 L761.4 539.9M764.7 542.3 L762.4 541.6 L761.4 539.9M764.7 542.3 L765.6 547.0 L766.2 549.5M759.4 553.3 L762.2 551.7 L765.2 551.6M766.2 549.5 L765.6 550.5 L765.2 551.6M748.7 546.8 L750.2 546.5 L752.2 546.9M755.0 561.6 L758.1 557.3 L759.4 553.3M760.4 536.8 L760.9 538.4 L761.4 539.9M772.4 538.8 L768.2 540.7 L764.7 542.3M777.5 548.4 L771.5 548.6 L766.2 549.5M767.7 563.4 L768.3 561.6 L769.2 559.2M769.2 559.2 L767.8 556.7 L765.2 551.6M762.4 566.8 L766.0 565.1 L767.7 563.4M776.2 557.6 L772.7 558.9 L769.2 559.2M781.2 563.9 L777.3 566.7 L774.5 568.0M781.2 563.9 L783.0 567.4 L787.3 572.6M778.4 576.6 L781.8 576.0 L785.2 576.3M778.4 576.6 L775.7 575.7 L774.6 573.2M774.6 573.2 L774.9 571.2 L774.5 568.0M785.2 576.3 L786.5 574.3 L787.3 572.6M781.4 561.3 L781.1 562.3 L781.2 563.9M767.7 563.4 L772.3 566.9 L774.5 568.0M791.5 570.8 L789.7 571.0 L787.3 572.6M774.2 583.0 L777.3 580.1 L778.4 576.6M786.3 579.4 L786.0 577.5 L785.2 576.3M765.7 575.4 L770.3 573.9 L774.6 573.2M417.6 628.3 L418.7 620.6 L419.9 616.4M431.4 612.7 L428.9 612.8 L426.6 612.0M419.9 616.4 L423.6 615.0 L426.6 612.0M404.1 618.7 L405.4 615.3 L408.5 611.2M419.9 616.4 L414.7 614.0 L408.5 611.2M398.0 605.5 L407.7 607.8M408.5 611.2 L408.5 609.5 L407.7 607.8M620.0 596.1 L621.7 594.2 L624.7 591.1M620.0 596.1 L617.5 594.2 L613.8 593.3M624.7 591.1 L624.4 585.8 L621.2 582.8M613.8 593.3 L613.9 591.3 L612.3 588.0M612.3 588.0 L616.0 584.7 L618.6 582.3M621.2 582.8 L619.8 582.2 L618.6 582.3M620.6 599.3 L620.6 597.8 L620.0 596.1M629.1 590.9 L627.1 590.8 L624.7 591.1M607.4 597.7 L606.8 601.9 L606.1 604.1M607.4 597.7 L611.6 596.6 L613.8 593.3M626.3 578.8 L623.5 580.2 L621.2 582.8M607.6 576.3 L609.4 575.5 L610.6 573.9M607.6 576.3 L609.0 581.6 L608.1 585.8M608.1 585.8 L610.8 586.4 L612.3 588.0M613.2 573.7 L617.4 577.3 L618.6 582.3M607.6 576.3 L605.4 577.1 L602.1 576.2M600.5 564.0 L598.8 567.2 L598.0 569.5M602.1 576.2 L599.9 573.3 L598.0 569.5M587.6 564.0 L587.8 567.7 L590.4 571.2M598.0 569.5 L593.7 571.0 L590.4 571.2M577.3 574.4 L582.7 573.8 L589.5 573.4M589.5 573.4 L590.2 572.2 L590.4 571.2M593.8 598.4 L597.2 594.3 L600.2 590.4M593.8 598.4 L588.4 594.1 L585.5 589.7M600.3 589.3 L600.3 589.7 L600.2 590.4M600.3 589.3 L597.9 586.0 L594.9 582.7M586.5 586.0 L588.4 583.4 L592.3 582.2M586.5 586.0 L585.8 587.8 L585.5 589.7M592.3 582.2 L593.6 582.1 L594.9 582.7M593.7 599.8 L593.8 599.3 L593.8 598.4M607.4 597.7 L604.0 595.1 L600.2 590.4M580.3 593.7 L582.6 590.8 L585.5 589.7M608.1 585.8 L603.4 586.3 L600.3 589.3M602.1 576.2 L597.2 580.5 L594.9 582.7M589.5 573.4 L591.4 576.7 L592.3 582.2M577.4 579.7 L582.7 581.7 L586.5 586.0M411.5 600.1 L417.0 600.3 L421.5 602.0M411.5 600.1 L409.4 597.6 L408.9 592.6M411.9 588.1 L415.4 586.8 L419.1 586.6M411.9 588.1 L410.0 590.7 L408.9 592.6M419.1 586.6 L422.4 589.4 L428.0 593.4M428.0 593.4 L426.1 598.2 L421.5 602.0M426.6 612.0 L422.7 606.6 L421.5 602.0M407.7 607.8 L408.4 605.0 L411.5 600.1M398.8 591.1 L408.9 592.6M424.6 576.1 L420.2 582.6 L419.1 586.6M407.7 575.5 L411.7 583.9 L411.9 588.1M433.3 592.6 L431.1 593.0 L428.0 593.4" fill="none" stroke="#5a5a5a" stroke-width="1.4" stroke-linejoin="round"/>
<polyline points="161.0,293.0 161.5,297.1 160.2,301.0 160.0,305.0 158.7,308.8 156.4,312.2 155.0,316.0 152.2,320.3 150.0,325.0 148.4,328.4 145.0,330.0" fill="none" stroke="#808080" stroke-width="1.9" stroke-linejoin="round" stroke-linecap="round"/>
<polyline points="148.7,340.0 152.8,339.9 156.0,342.5 160.0,345.0 163.3,342.1 164.4,337.6 166.9,334.0 170.0,331.0 175.1,332.0 180.0,330.0 181.3,333.7 182.5,337.5 187.9,336.5 192.5,333.7 196.2,331.1 200.0,328.7 205.0,328.5 210.0,327.5 213.5,325.7 217.5,326.0 221.0,328.8 225.0,331.0 226.0,334.2 228.7,336.0" fill="none" stroke="#808080" stroke-width="1.9" stroke-linejoin="round" stroke-linecap="round"/>
<polyline points="217.5,326.0 218.8,321.8 220.0,317.5 219.5,312.3 217.5,307.5 215.4,303.4 211.4,300.5 210.0,296.0 208.0,292.0" fill="none" stroke="#808080" stroke-width="1.9" stroke-linejoin="round" stroke-linecap="round"/>
<polyline points="217.5,307.5 221.6,308.7 225.8,308.6 230.0,308.7 235.1,308.8 240.0,310.0 244.1,310.8 246.1,314.9 250.0,316.0 253.4,317.6 256.4,319.9 260.0,321.0 264.4,321.4 268.4,320.1 272.5,318.7 277.1,318.2 280.7,315.1 285.0,313.7 288.1,311.8 290.0,308.7 293.8,310.5 297.5,312.5 297.5,316.7 300.0,320.0 301.5,324.8 306.0,327.7 307.5,332.5 311.0,330.7 315.0,331.0 318.6,329.7 322.5,330.0 322.4,334.2 325.0,337.5 323.5,340.9 321.3,344.0 320.0,347.5" fill="none" stroke="#808080" stroke-width="1.9" stroke-linejoin="round" stroke-linecap="round"/>
<polyline points="192.5,333.7 191.8,338.3 190.0,342.5 186.2,346.2 182.5,350.0 180.3,353.9 177.5,357.5 178.5,361.2 178.7,365.0 182.4,366.9 186.1,368.6 190.0,370.0 194.3,370.8 198.4,369.7 202.5,368.7 205.4,372.8 210.0,375.0 210.2,380.3 212.5,385.0 213.9,388.9 217.5,391.0 220.6,393.1 224.6,393.4 227.5,396.0 230.0,400.0 234.4,400.2 238.6,399.7 242.5,397.5 245.3,400.3 249.1,401.0 252.5,402.5 256.4,404.8 261.2,405.0 265.0,407.5 269.7,410.1 274.9,411.0 280.0,412.5 285.1,412.5 290.0,413.7 292.6,410.5 297.2,410.5 300.0,407.5 304.8,404.8 307.5,400.0 310.9,397.6 315.0,397.5 318.2,400.8 322.5,402.5" fill="none" stroke="#808080" stroke-width="1.9" stroke-linejoin="round" stroke-linecap="round"/>
<polyline points="230.0,400.0 229.6,403.8 228.7,407.5 224.9,410.9 220.0,412.5 217.0,415.5 212.8,416.9 210.0,420.0 206.6,422.7 206.1,427.5 202.5,430.0 203.4,433.9 205.0,437.5 209.2,437.5 212.5,440.0 211.8,445.0 213.0,450.0 212.5,455.0 207.3,454.7 202.3,455.2 197.5,457.5 194.2,459.2 190.2,459.5 187.5,462.5 185.5,466.6 182.5,470.0 177.5,471.3 172.5,470.0 169.3,467.6 165.1,467.0 162.5,463.7" fill="none" stroke="#808080" stroke-width="1.9" stroke-linejoin="round" stroke-linecap="round"/>
<polyline points="161.0,512.5 165.9,514.2 170.0,517.5 174.1,516.7 178.4,516.8 182.5,516.0 186.6,514.6 190.7,514.0 195.0,515.0 200.1,515.7 205.0,513.6 210.0,513.7 213.0,517.3 217.5,518.7 222.1,521.7 227.5,522.5 232.6,523.9 237.5,526.0 241.6,523.1 245.9,520.4 250.0,517.5 254.4,514.5 258.5,511.1 262.5,507.5 266.7,506.8 270.9,506.2 275.0,505.0 280.3,505.0 285.0,502.5 290.0,501.8 295.0,501.0" fill="none" stroke="#808080" stroke-width="1.9" stroke-linejoin="round" stroke-linecap="round"/>
<polyline points="330.0,293.0 334.2,293.5 338.2,295.0 342.5,295.0 346.8,298.2 350.0,302.5 349.3,307.6 347.5,312.5 344.6,315.2 344.1,319.1 342.5,322.5 340.7,325.8 340.5,329.8 337.5,332.5 334.3,335.2 330.7,337.3 327.5,340.0 326.0,343.5 322.5,345.0 320.3,348.6 318.7,352.5 317.9,356.6 319.2,361.0 317.5,365.0 315.9,369.5 315.1,374.2 313.7,378.7 314.6,383.3 317.0,387.4 318.0,392.0 319.4,397.2 322.0,402.0 324.4,406.4 328.0,410.0 332.6,413.1 335.0,418.0 338.3,420.6 339.0,425.0 341.7,428.0 344.1,431.0 348.0,431.7" fill="none" stroke="#808080" stroke-width="1.9" stroke-linejoin="round" stroke-linecap="round"/>
<polyline points="550.0,344.0 551.0,340.0 553.3,336.7 555.3,333.3 557.5,330.0 559.0,326.3 560.0,322.5 563.5,319.6 567.5,317.5 565.5,314.3 563.7,311.1 562.5,307.5 559.7,304.5 557.5,301.0 562.6,300.1 567.5,298.7 566.2,296.0 566.0,293.0" fill="none" stroke="#808080" stroke-width="1.9" stroke-linejoin="round" stroke-linecap="round"/>
<polyline points="825.0,435.0 827.2,431.0 830.7,428.0 831.3,423.0 835.0,420.0 838.5,416.8 842.2,413.8 845.0,410.0 848.0,406.6 851.1,403.4 855.0,401.0 860.3,400.4 864.8,397.2 869.7,395.6 875.0,395.0 878.2,393.2 881.9,392.2 885.0,390.0 888.4,392.1 890.4,395.5 892.5,398.7 897.4,397.6 902.5,397.5 906.5,394.9 909.0,390.7 912.5,387.5 913.1,382.4 910.5,377.6 911.0,372.5 911.4,368.2 913.2,364.3 913.7,360.0 916.8,357.3 917.8,353.3 920.0,350.0 924.7,347.2 930.0,346.0 933.7,343.3 938.4,342.7 942.5,341.0 947.8,342.1 952.5,345.0 954.3,348.5 956.7,351.5 960.0,353.7" fill="none" stroke="#808080" stroke-width="1.9" stroke-linejoin="round" stroke-linecap="round"/>
<polyline points="935.0,293.0 935.9,297.0 935.0,301.0 938.1,304.5 939.2,309.2 942.5,312.5 944.7,315.3 947.5,317.5 952.6,317.9 957.5,316.0 962.5,316.0 966.0,320.0 967.5,325.0 967.6,329.2 965.6,333.2 966.0,337.5 968.6,342.2 970.0,347.5 966.9,350.0 963.5,351.8 960.0,353.7 960.2,359.1 960.3,364.6 960.0,370.0 956.4,373.5 955.9,378.9 952.5,382.5 955.2,387.1 955.0,392.5 956.9,396.7 959.9,399.9 963.7,402.5 961.8,406.5 963.1,410.9 962.5,415.0 958.9,418.0 957.5,422.5 958.2,426.8 962.0,429.6 962.5,434.1 965.0,437.5 966.7,441.8 969.6,445.3 972.5,448.8 975.0,452.5 978.7,454.0 981.9,456.2 985.0,458.7" fill="none" stroke="#808080" stroke-width="1.9" stroke-linejoin="round" stroke-linecap="round"/>
<polyline points="1030.0,744.0 1031.8,739.7 1033.9,735.6 1037.5,732.5 1039.9,734.0 1042.5,735.0 1045.3,731.1 1049.0,728.0" fill="none" stroke="#808080" stroke-width="1.9" stroke-linejoin="round" stroke-linecap="round"/>
<polygon points="348.0,431.7 353.3,415.8 366.7,416.7 368.0,425.0 383.0,429.0 390.0,436.0 403.0,433.0 411.7,440.0 423.0,445.0 433.0,445.0 445.0,440.0 455.0,436.7 456.7,426.7 463.0,418.0 470.0,416.7 480.0,415.0 476.7,425.0 485.0,425.0 493.0,420.0 495.8,410.0 491.7,386.7 498.3,378.3 513.3,363.3 531.7,348.3 538.3,345.0 550.0,344.0 560.0,348.3 566.7,356.7 580.0,365.0 593.3,373.3 606.7,385.0 616.7,389.0 626.7,387.5 640.0,390.0 665.0,390.0 673.3,385.0 696.7,381.7 700.0,385.0 713.3,386.7 720.0,376.7 733.3,381.7 746.7,379.0 760.0,380.0 773.3,375.0 780.0,370.8 798.3,373.3 801.7,381.7 806.7,390.0 813.3,403.3 811.7,415.0 800.0,430.0 820.0,433.3 825.0,435.0 835.0,450.0 847.5,455.0 858.3,460.0 857.5,480.0 865.0,495.0 875.0,508.3 886.7,515.0 895.0,520.0 892.5,532.5 882.5,545.0 877.0,556.0 872.5,567.5 865.0,580.0 860.0,590.0 855.0,600.0 848.0,606.0 838.0,612.0 820.0,612.0 800.0,612.0 785.0,614.0 765.0,606.0 740.0,600.0 727.5,602.5 710.0,610.0 685.0,607.5 660.0,605.0 647.5,610.0 630.0,616.0 612.0,626.0 595.0,631.0 580.0,640.0 565.0,650.0 550.0,645.0 535.0,652.5 527.5,655.0 525.0,675.0 525.5,700.0 520.0,707.5 512.5,710.0 500.0,706.0 488.0,697.0 477.5,687.5 467.5,682.5 458.0,672.0 442.5,660.0 425.0,652.0 408.0,645.0 400.0,625.0 397.5,600.0 400.0,582.5 395.0,575.0 385.0,565.0 375.0,557.5 360.0,552.0 340.0,550.0 320.0,548.0 302.0,546.0 301.7,530.0 301.7,521.7 296.7,506.7 293.0,498.0 300.0,483.0 306.7,470.0 316.7,456.7 320.0,441.7 335.0,435.0" fill="none" stroke="#606060" stroke-width="1.5" stroke-linejoin="round"/>
<circle cx="452.5" cy="519.0" r="42.1" fill="#24864d" fill-opacity=".94" stroke="#e6fff4" stroke-width="2.7"/>
<circle cx="491.7" cy="585.0" r="7.9" fill="#1f8248" fill-opacity=".94" stroke="#e6fff4" stroke-width="2.7"/>
<circle cx="470.0" cy="620.0" r="34.4" fill="#24864d" fill-opacity=".94" stroke="#e6fff4" stroke-width="2.7"/>
<circle cx="616.7" cy="602.5" r="34.4" fill="#24864d" fill-opacity=".94" stroke="#e6fff4" stroke-width="2.7"/>
<circle cx="695.0" cy="545.8" r="32.1" fill="#24864d" fill-opacity=".94" stroke="#e6fff4" stroke-width="2.7"/>
<circle cx="323.0" cy="541.0" r="9.4" fill="#1f8248" fill-opacity=".94" stroke="#e6fff4" stroke-width="2.7"/>
<circle cx="436.7" cy="641.7" r="16.2" fill="#24864d" fill-opacity=".94" stroke="#e6fff4" stroke-width="2.7"/>
<circle cx="515.0" cy="666.7" r="10.4" fill="#1f8248" fill-opacity=".94" stroke="#e6fff4" stroke-width="2.7"/>
<circle cx="532.5" cy="593.3" r="13.7" fill="#24864d" fill-opacity=".94" stroke="#e6fff4" stroke-width="2.7"/>
<circle cx="596.7" cy="524.2" r="17.1" fill="#24864d" fill-opacity=".94" stroke="#e6fff4" stroke-width="2.7"/>
<circle cx="757.5" cy="585.0" r="6.2" fill="#1f8248" fill-opacity=".94" stroke="#e6fff4" stroke-width="2.7"/>
<circle cx="820.0" cy="596.7" r="28.7" fill="#24864d" fill-opacity=".94" stroke="#e6fff4" stroke-width="2.7"/>
<circle cx="582.5" cy="459.2" r="26.2" fill="#24864d" fill-opacity=".94" stroke="#e6fff4" stroke-width="2.7"/>
<circle cx="505.0" cy="684.2" r="24.4" fill="#24864d" fill-opacity=".94" stroke="#e6fff4" stroke-width="2.7"/>
<circle cx="680.0" cy="463.3" r="24.4" fill="#24864d" fill-opacity=".94" stroke="#e6fff4" stroke-width="2.7"/>
<circle cx="355.8" cy="538.3" r="22.9" fill="#24864d" fill-opacity=".94" stroke="#e6fff4" stroke-width="2.7"/>
<circle cx="415.8" cy="595.0" r="19.4" fill="#24864d" fill-opacity=".94" stroke="#e6fff4" stroke-width="2.7"/>
<circle cx="421.7" cy="613.3" r="12.1" fill="#1f8248" fill-opacity=".94" stroke="#e6fff4" stroke-width="2.7"/>
<circle cx="421.7" cy="633.3" r="21.2" fill="#24864d" fill-opacity=".94" stroke="#e6fff4" stroke-width="2.7"/>
<circle cx="565.0" cy="633.3" r="15.4" fill="#24864d" fill-opacity=".94" stroke="#e6fff4" stroke-width="2.7"/>
<circle cx="777.5" cy="607.5" r="14.6" fill="#24864d" fill-opacity=".94" stroke="#e6fff4" stroke-width="2.7"/>
<circle cx="488.5" cy="508.0" r="14.4" fill="#24864d" fill-opacity=".94" stroke="#e6fff4" stroke-width="2.7"/>
<circle cx="693.3" cy="423.3" r="13.7" fill="#24864d" fill-opacity=".94" stroke="#e6fff4" stroke-width="2.7"/>
<circle cx="595.0" cy="620.0" r="12.9" fill="#24864d" fill-opacity=".94" stroke="#e6fff4" stroke-width="2.7"/>
<circle cx="454.2" cy="672.5" r="12.1" fill="#1f8248" fill-opacity=".94" stroke="#e6fff4" stroke-width="2.7"/>
<circle cx="753.3" cy="600.8" r="11.7" fill="#1f8248" fill-opacity=".94" stroke="#e6fff4" stroke-width="2.7"/>
<circle cx="309.2" cy="538.3" r="11.4" fill="#1f8248" fill-opacity=".94" stroke="#e6fff4" stroke-width="2.7"/>
<circle cx="538.3" cy="640.0" r="11.2" fill="#1f8248" fill-opacity=".94" stroke="#e6fff4" stroke-width="2.7"/>
<circle cx="536.7" cy="579.0" r="11.2" fill="#1f8248" fill-opacity=".94" stroke="#e6fff4" stroke-width="2.7"/>
<circle cx="675.8" cy="429.2" r="11.2" fill="#1f8248" fill-opacity=".94" stroke="#e6fff4" stroke-width="2.7"/>
<circle cx="468.0" cy="535.0" r="10.4" fill="#1f8248" fill-opacity=".94" stroke="#e6fff4" stroke-width="2.7"/>
<circle cx="597.5" cy="568.3" r="10.1" fill="#1f8248" fill-opacity=".94" stroke="#e6fff4" stroke-width="2.7"/>
<circle cx="798.3" cy="447.5" r="9.6" fill="#1f8248" fill-opacity=".94" stroke="#e6fff4" stroke-width="2.7"/>
<circle cx="746.7" cy="516.7" r="9.6" fill="#1f8248" fill-opacity=".94" stroke="#e6fff4" stroke-width="2.7"/>
<circle cx="691.7" cy="550.0" r="9.6" fill="#1f8248" fill-opacity=".94" stroke="#e6fff4" stroke-width="2.7"/>
<circle cx="344.2" cy="533.3" r="9.4" fill="#1f8248" fill-opacity=".94" stroke="#e6fff4" stroke-width="2.7"/>
<circle cx="461.7" cy="511.7" r="9.4" fill="#1f8248" fill-opacity=".94" stroke="#e6fff4" stroke-width="2.7"/>
<circle cx="445.0" cy="537.5" r="9.4" fill="#1f8248" fill-opacity=".94" stroke="#e6fff4" stroke-width="2.7"/>
<circle cx="477.5" cy="600.0" r="9.4" fill="#1f8248" fill-opacity=".94" stroke="#e6fff4" stroke-width="2.7"/>
<circle cx="644.2" cy="416.7" r="8.7" fill="#1f8248" fill-opacity=".94" stroke="#e6fff4" stroke-width="2.7"/>
<circle cx="727.5" cy="440.0" r="8.7" fill="#1f8248" fill-opacity=".94" stroke="#e6fff4" stroke-width="2.7"/>
<circle cx="780.8" cy="515.8" r="8.7" fill="#1f8248" fill-opacity=".94" stroke="#e6fff4" stroke-width="2.7"/>
<circle cx="602.5" cy="505.0" r="8.7" fill="#1f8248" fill-opacity=".94" stroke="#e6fff4" stroke-width="2.7"/>
<circle cx="596.7" cy="610.8" r="8.7" fill="#1f8248" fill-opacity=".94" stroke="#e6fff4" stroke-width="2.7"/>
<circle cx="706.7" cy="604.2" r="8.7" fill="#1f8248" fill-opacity=".94" stroke="#e6fff4" stroke-width="2.7"/>
<circle cx="695.0" cy="398.3" r="8.4" fill="#1f8248" fill-opacity=".94" stroke="#e6fff4" stroke-width="2.7"/>
<circle cx="654.2" cy="482.5" r="8.4" fill="#1f8248" fill-opacity=".94" stroke="#e6fff4" stroke-width="2.7"/>
<circle cx="860.8" cy="515.0" r="8.4" fill="#1f8248" fill-opacity=".94" stroke="#e6fff4" stroke-width="2.7"/>
<circle cx="328.3" cy="529.0" r="7.9" fill="#1f8248" fill-opacity=".94" stroke="#e6fff4" stroke-width="2.7"/>
<circle cx="390.8" cy="514.0" r="7.9" fill="#1f8248" fill-opacity=".94" stroke="#e6fff4" stroke-width="2.7"/>
<circle cx="417.5" cy="529.0" r="7.9" fill="#1f8248" fill-opacity=".94" stroke="#e6fff4" stroke-width="2.7"/>
<circle cx="623.3" cy="485.0" r="7.9" fill="#1f8248" fill-opacity=".94" stroke="#e6fff4" stroke-width="2.7"/>
<circle cx="603.3" cy="503.3" r="7.9" fill="#1f8248" fill-opacity=".94" stroke="#e6fff4" stroke-width="2.7"/>
<circle cx="705.8" cy="446.7" r="7.9" fill="#1f8248" fill-opacity=".94" stroke="#e6fff4" stroke-width="2.7"/>
<circle cx="681.7" cy="541.7" r="7.9" fill="#1f8248" fill-opacity=".94" stroke="#e6fff4" stroke-width="2.7"/>
<circle cx="583.3" cy="529.2" r="7.9" fill="#1f8248" fill-opacity=".94" stroke="#e6fff4" stroke-width="2.7"/>
<circle cx="641.7" cy="501.7" r="7.9" fill="#1f8248" fill-opacity=".94" stroke="#e6fff4" stroke-width="2.7"/>
<circle cx="648.0" cy="545.0" r="7.9" fill="#1f8248" fill-opacity=".94" stroke="#e6fff4" stroke-width="2.7"/>
<circle cx="634.2" cy="542.5" r="7.9" fill="#1f8248" fill-opacity=".94" stroke="#e6fff4" stroke-width="2.7"/>
<circle cx="853.3" cy="594.2" r="7.9" fill="#1f8248" fill-opacity=".94" stroke="#e6fff4" stroke-width="2.7"/>
<circle cx="720.8" cy="460.8" r="7.4" fill="#1f8248" fill-opacity=".94" stroke="#e6fff4" stroke-width="2.7"/>
<circle cx="622.5" cy="485.8" r="7.4" fill="#1f8248" fill-opacity=".94" stroke="#e6fff4" stroke-width="2.7"/>
<circle cx="452.5" cy="498.3" r="7.1" fill="#1f8248" fill-opacity=".94" stroke="#e6fff4" stroke-width="2.7"/>
<circle cx="541.7" cy="496.7" r="7.1" fill="#1f8248" fill-opacity=".94" stroke="#e6fff4" stroke-width="2.7"/>
<circle cx="659.2" cy="509.2" r="7.1" fill="#1f8248" fill-opacity=".94" stroke="#e6fff4" stroke-width="2.7"/>
<circle cx="689.2" cy="530.8" r="7.1" fill="#1f8248" fill-opacity=".94" stroke="#e6fff4" stroke-width="2.7"/>
<circle cx="635.0" cy="509.2" r="7.1" fill="#1f8248" fill-opacity=".94" stroke="#e6fff4" stroke-width="2.7"/>
<circle cx="715.0" cy="585.8" r="7.1" fill="#1f8248" fill-opacity=".94" stroke="#e6fff4" stroke-width="2.7"/>
<circle cx="433.3" cy="497.5" r="6.7" fill="#1f8248" fill-opacity=".94" stroke="#e6fff4" stroke-width="2.7"/>
<circle cx="518.3" cy="483.3" r="6.7" fill="#1f8248" fill-opacity=".94" stroke="#e6fff4" stroke-width="2.7"/>
<circle cx="728.3" cy="522.5" r="6.7" fill="#1f8248" fill-opacity=".94" stroke="#e6fff4" stroke-width="2.7"/>
<circle cx="391.3" cy="525.8" r="6.2" fill="#1f8248" fill-opacity=".94" stroke="#e6fff4" stroke-width="2.7"/>
<circle cx="423.3" cy="509.0" r="6.2" fill="#1f8248" fill-opacity=".94" stroke="#e6fff4" stroke-width="2.7"/>
<circle cx="465.8" cy="489.0" r="6.2" fill="#1f8248" fill-opacity=".94" stroke="#e6fff4" stroke-width="2.7"/>
<circle cx="446.7" cy="578.3" r="6.2" fill="#1f8248" fill-opacity=".94" stroke="#e6fff4" stroke-width="2.7"/>
<circle cx="524.2" cy="548.3" r="6.2" fill="#1f8248" fill-opacity=".94" stroke="#e6fff4" stroke-width="2.7"/>
<circle cx="639.0" cy="416.7" r="6.2" fill="#1f8248" fill-opacity=".94" stroke="#e6fff4" stroke-width="2.7"/>
<circle cx="750.0" cy="481.7" r="6.2" fill="#1f8248" fill-opacity=".94" stroke="#e6fff4" stroke-width="2.7"/>
<circle cx="643.3" cy="501.7" r="6.2" fill="#1f8248" fill-opacity=".94" stroke="#e6fff4" stroke-width="2.7"/>
<circle cx="575.8" cy="516.7" r="6.2" fill="#1f8248" fill-opacity=".94" stroke="#e6fff4" stroke-width="2.7"/>
<circle cx="661.7" cy="533.3" r="6.2" fill="#1f8248" fill-opacity=".94" stroke="#e6fff4" stroke-width="2.7"/>
<circle cx="581.7" cy="590.0" r="6.2" fill="#1f8248" fill-opacity=".94" stroke="#e6fff4" stroke-width="2.7"/>
<circle cx="683.3" cy="601.7" r="6.2" fill="#1f8248" fill-opacity=".94" stroke="#e6fff4" stroke-width="2.7"/>
<circle cx="610.0" cy="586.7" r="6.2" fill="#1f8248" fill-opacity=".94" stroke="#e6fff4" stroke-width="2.7"/>
<circle cx="543.3" cy="496.7" r="6.2" fill="#1f8248" fill-opacity=".94" stroke="#e6fff4" stroke-width="2.7"/>
<circle cx="488.3" cy="567.5" r="5.7" fill="#1f8248" fill-opacity=".94" stroke="#e6fff4" stroke-width="2.7"/>
<circle cx="570.8" cy="409.2" r="5.7" fill="#1f8248" fill-opacity=".94" stroke="#e6fff4" stroke-width="2.7"/>
<circle cx="780.0" cy="390.0" r="5.7" fill="#1f8248" fill-opacity=".94" stroke="#e6fff4" stroke-width="2.7"/>
<circle cx="716.7" cy="482.5" r="5.7" fill="#1f8248" fill-opacity=".94" stroke="#e6fff4" stroke-width="2.7"/>
<circle cx="380.8" cy="510.0" r="5.4" fill="#1f8248" fill-opacity=".94" stroke="#e6fff4" stroke-width="2.7"/>
<circle cx="440.8" cy="520.8" r="5.4" fill="#1f8248" fill-opacity=".94" stroke="#e6fff4" stroke-width="2.7"/>
<circle cx="446.7" cy="577.5" r="5.4" fill="#1f8248" fill-opacity=".94" stroke="#e6fff4" stroke-width="2.7"/>
<circle cx="470.0" cy="585.8" r="5.4" fill="#1f8248" fill-opacity=".94" stroke="#e6fff4" stroke-width="2.7"/>
<circle cx="495.0" cy="543.3" r="5.4" fill="#1f8248" fill-opacity=".94" stroke="#e6fff4" stroke-width="2.7"/>
<circle cx="540.0" cy="541.7" r="5.4" fill="#1f8248" fill-opacity=".94" stroke="#e6fff4" stroke-width="2.7"/>
<circle cx="560.0" cy="483.3" r="5.4" fill="#1f8248" fill-opacity=".94" stroke="#e6fff4" stroke-width="2.7"/>
<circle cx="730.8" cy="426.7" r="5.4" fill="#1f8248" fill-opacity=".94" stroke="#e6fff4" stroke-width="2.7"/>
<circle cx="760.8" cy="478.3" r="5.4" fill="#1f8248" fill-opacity=".94" stroke="#e6fff4" stroke-width="2.7"/>
<circle cx="754.2" cy="428.3" r="5.4" fill="#1f8248" fill-opacity=".94" stroke="#e6fff4" stroke-width="2.7"/>
<circle cx="684.2" cy="471.7" r="5.4" fill="#1f8248" fill-opacity=".94" stroke="#e6fff4" stroke-width="2.7"/>
<circle cx="685.0" cy="560.0" r="5.4" fill="#1f8248" fill-opacity=".94" stroke="#e6fff4" stroke-width="2.7"/>
<circle cx="705.8" cy="564.2" r="5.4" fill="#1f8248" fill-opacity=".94" stroke="#e6fff4" stroke-width="2.7"/>
<circle cx="612.5" cy="560.0" r="5.4" fill="#1f8248" fill-opacity=".94" stroke="#e6fff4" stroke-width="2.7"/>
<circle cx="716.7" cy="483.3" r="5.4" fill="#1f8248" fill-opacity=".94" stroke="#e6fff4" stroke-width="2.7"/>
<circle cx="800.0" cy="575.0" r="5.4" fill="#1f8248" fill-opacity=".94" stroke="#e6fff4" stroke-width="2.7"/>
<circle cx="435.0" cy="550.8" r="5.1" fill="#1f8248" fill-opacity=".94" stroke="#e6fff4" stroke-width="2.7"/>
<circle cx="405.0" cy="602.5" r="5.1" fill="#1f8248" fill-opacity=".94" stroke="#e6fff4" stroke-width="2.7"/>
<circle cx="395.8" cy="567.5" r="5.1" fill="#1f8248" fill-opacity=".94" stroke="#e6fff4" stroke-width="2.7"/>
<circle cx="447.5" cy="585.8" r="5.1" fill="#1f8248" fill-opacity=".94" stroke="#e6fff4" stroke-width="2.7"/>
<circle cx="479.2" cy="645.8" r="5.1" fill="#1f8248" fill-opacity=".94" stroke="#e6fff4" stroke-width="2.7"/>
<circle cx="507.5" cy="625.0" r="5.1" fill="#1f8248" fill-opacity=".94" stroke="#e6fff4" stroke-width="2.7"/>
<circle cx="617.5" cy="423.3" r="5.1" fill="#1f8248" fill-opacity=".94" stroke="#e6fff4" stroke-width="2.7"/>
<circle cx="638.3" cy="491.7" r="5.1" fill="#1f8248" fill-opacity=".94" stroke="#e6fff4" stroke-width="2.7"/>
<circle cx="885.0" cy="533.3" r="5.1" fill="#1f8248" fill-opacity=".94" stroke="#e6fff4" stroke-width="2.7"/>
<circle cx="390.5" cy="480.5" r="4.6" fill="#1f8248" fill-opacity=".94" stroke="#e6fff4" stroke-width="2.7"/>
<circle cx="616.7" cy="404.2" r="4.6" fill="#1f8248" fill-opacity=".94" stroke="#e6fff4" stroke-width="2.7"/>
<circle cx="636.7" cy="430.0" r="4.6" fill="#1f8248" fill-opacity=".94" stroke="#e6fff4" stroke-width="2.7"/>
<circle cx="490.0" cy="459.0" r="4.6" fill="#1f8248" fill-opacity=".94" stroke="#e6fff4" stroke-width="2.7"/>
<circle cx="550.0" cy="461.7" r="4.6" fill="#1f8248" fill-opacity=".94" stroke="#e6fff4" stroke-width="2.7"/>
<circle cx="499.5" cy="488.3" r="4.6" fill="#1f8248" fill-opacity=".94" stroke="#e6fff4" stroke-width="2.7"/>
<circle cx="636.7" cy="491.7" r="4.6" fill="#1f8248" fill-opacity=".94" stroke="#e6fff4" stroke-width="2.7"/>
<circle cx="740.0" cy="524.0" r="4.6" fill="#1f8248" fill-opacity=".94" stroke="#e6fff4" stroke-width="2.7"/>
<circle cx="660.0" cy="498.3" r="4.6" fill="#1f8248" fill-opacity=".94" stroke="#e6fff4" stroke-width="2.7"/>
<circle cx="756.7" cy="422.5" r="4.6" fill="#1f8248" fill-opacity=".94" stroke="#e6fff4" stroke-width="2.7"/>
<circle cx="763.3" cy="417.5" r="4.6" fill="#1f8248" fill-opacity=".94" stroke="#e6fff4" stroke-width="2.7"/>
<circle cx="597.5" cy="538.3" r="4.6" fill="#1f8248" fill-opacity=".94" stroke="#e6fff4" stroke-width="2.7"/>
<circle cx="659.2" cy="498.3" r="4.6" fill="#1f8248" fill-opacity=".94" stroke="#e6fff4" stroke-width="2.7"/>
<circle cx="585.0" cy="602.5" r="4.6" fill="#1f8248" fill-opacity=".94" stroke="#e6fff4" stroke-width="2.7"/>
<circle cx="670.0" cy="599.2" r="4.6" fill="#1f8248" fill-opacity=".94" stroke="#e6fff4" stroke-width="2.7"/>
<circle cx="597.5" cy="590.0" r="4.6" fill="#1f8248" fill-opacity=".94" stroke="#e6fff4" stroke-width="2.7"/>
<circle cx="620.8" cy="580.0" r="4.6" fill="#1f8248" fill-opacity=".94" stroke="#e6fff4" stroke-width="2.7"/>
<circle cx="850.0" cy="492.5" r="4.6" fill="#1f8248" fill-opacity=".94" stroke="#e6fff4" stroke-width="2.7"/>
<circle cx="876.3" cy="545.0" r="4.6" fill="#1f8248" fill-opacity=".94" stroke="#e6fff4" stroke-width="2.7"/>
<circle cx="711.4" cy="508.4" r="4.6" fill="#1f8248" fill-opacity=".94" stroke="#e6fff4" stroke-width="2.7"/>
<circle cx="762.6" cy="380.2" r="4.5" fill="#1f8248" fill-opacity=".94" stroke="#e6fff4" stroke-width="2.7"/>
<circle cx="625.4" cy="564.2" r="4.5" fill="#1f8248" fill-opacity=".94" stroke="#e6fff4" stroke-width="2.7"/>
<circle cx="612.1" cy="547.2" r="4.5" fill="#1f8248" fill-opacity=".94" stroke="#e6fff4" stroke-width="2.7"/>
<circle cx="554.9" cy="645.7" r="4.5" fill="#1f8248" fill-opacity=".94" stroke="#e6fff4" stroke-width="2.7"/>
<circle cx="604.3" cy="472.3" r="4.4" fill="#1f8248" fill-opacity=".94" stroke="#e6fff4" stroke-width="2.7"/>
<circle cx="385.0" cy="529.0" r="4.4" fill="#1f8248" fill-opacity=".94" stroke="#e6fff4" stroke-width="2.7"/>
<circle cx="486.7" cy="613.3" r="4.4" fill="#1f8248" fill-opacity=".94" stroke="#e6fff4" stroke-width="2.7"/>
<circle cx="549.0" cy="555.0" r="4.4" fill="#1f8248" fill-opacity=".94" stroke="#e6fff4" stroke-width="2.7"/>
<circle cx="555.0" cy="551.7" r="4.4" fill="#1f8248" fill-opacity=".94" stroke="#e6fff4" stroke-width="2.7"/>
<circle cx="421.7" cy="549.0" r="4.4" fill="#1f8248" fill-opacity=".94" stroke="#e6fff4" stroke-width="2.7"/>
<circle cx="576.0" cy="538.9" r="4.1" fill="#1f8248" fill-opacity=".94" stroke="#e6fff4" stroke-width="2.3"/>
<circle cx="345.8" cy="519.0" r="4.1" fill="#1f8248" fill-opacity=".94" stroke="#e6fff4" stroke-width="2.3"/>
<circle cx="395.0" cy="568.3" r="4.1" fill="#1f8248" fill-opacity=".94" stroke="#e6fff4" stroke-width="2.3"/>
<circle cx="421.7" cy="549.0" r="4.1" fill="#1f8248" fill-opacity=".94" stroke="#e6fff4" stroke-width="2.3"/>
<circle cx="502.5" cy="571.7" r="4.1" fill="#1f8248" fill-opacity=".94" stroke="#e6fff4" stroke-width="2.3"/>
<circle cx="471.7" cy="654.2" r="4.1" fill="#1f8248" fill-opacity=".94" stroke="#e6fff4" stroke-width="2.3"/>
<circle cx="516.7" cy="631.7" r="4.1" fill="#1f8248" fill-opacity=".94" stroke="#e6fff4" stroke-width="2.3"/>
<circle cx="522.5" cy="623.3" r="4.1" fill="#1f8248" fill-opacity=".94" stroke="#e6fff4" stroke-width="2.3"/>
<circle cx="537.5" cy="595.8" r="4.1" fill="#1f8248" fill-opacity=".94" stroke="#e6fff4" stroke-width="2.3"/>
<circle cx="435.0" cy="550.8" r="4.1" fill="#1f8248" fill-opacity=".94" stroke="#e6fff4" stroke-width="2.3"/>
<circle cx="527.5" cy="399.0" r="4.1" fill="#1f8248" fill-opacity=".94" stroke="#e6fff4" stroke-width="2.3"/>
<circle cx="610.0" cy="490.0" r="4.1" fill="#1f8248" fill-opacity=".94" stroke="#e6fff4" stroke-width="2.3"/>
<circle cx="588.3" cy="496.7" r="4.1" fill="#1f8248" fill-opacity=".94" stroke="#e6fff4" stroke-width="2.3"/>
<circle cx="776.7" cy="481.7" r="4.1" fill="#1f8248" fill-opacity=".94" stroke="#e6fff4" stroke-width="2.3"/>
<circle cx="649.2" cy="467.5" r="4.1" fill="#1f8248" fill-opacity=".94" stroke="#e6fff4" stroke-width="2.3"/>
<circle cx="685.0" cy="520.0" r="4.1" fill="#1f8248" fill-opacity=".94" stroke="#e6fff4" stroke-width="2.3"/>
<circle cx="585.0" cy="539.2" r="4.1" fill="#1f8248" fill-opacity=".94" stroke="#e6fff4" stroke-width="2.3"/>
<circle cx="627.5" cy="593.3" r="4.1" fill="#1f8248" fill-opacity=".94" stroke="#e6fff4" stroke-width="2.3"/>
<circle cx="636.7" cy="595.8" r="4.1" fill="#1f8248" fill-opacity=".94" stroke="#e6fff4" stroke-width="2.3"/>
<circle cx="563.3" cy="529.2" r="4.1" fill="#1f8248" fill-opacity=".94" stroke="#e6fff4" stroke-width="2.3"/>
<circle cx="733.3" cy="504.2" r="4.1" fill="#1f8248" fill-opacity=".94" stroke="#e6fff4" stroke-width="2.3"/>
<circle cx="491.5" cy="425.6" r="4.1" fill="#1f8248" fill-opacity=".94" stroke="#e6fff4" stroke-width="2.3"/>
<circle cx="742.2" cy="463.6" r="4.0" fill="#1f8248" fill-opacity=".94" stroke="#e6fff4" stroke-width="2.3"/>
<circle cx="425.1" cy="567.1" r="3.8" fill="#1f8248" fill-opacity=".94" stroke="#e6fff4" stroke-width="2.3"/>
<circle cx="577.9" cy="608.1" r="3.8" fill="#1f8248" fill-opacity=".94" stroke="#e6fff4" stroke-width="2.3"/>
<circle cx="567.7" cy="569.0" r="3.8" fill="#1f8248" fill-opacity=".94" stroke="#e6fff4" stroke-width="2.3"/>
<circle cx="775.9" cy="475.7" r="3.8" fill="#1f8248" fill-opacity=".94" stroke="#e6fff4" stroke-width="2.3"/>
<circle cx="589.7" cy="557.5" r="3.7" fill="#1f8248" fill-opacity=".94" stroke="#e6fff4" stroke-width="2.3"/>
<circle cx="349.0" cy="444.0" r="3.7" fill="#1f8248" fill-opacity=".94" stroke="#e6fff4" stroke-width="2.3"/>
<circle cx="458.3" cy="572.5" r="3.7" fill="#1f8248" fill-opacity=".94" stroke="#e6fff4" stroke-width="2.3"/>
<circle cx="503.3" cy="643.3" r="3.7" fill="#1f8248" fill-opacity=".94" stroke="#e6fff4" stroke-width="2.3"/>
<circle cx="595.0" cy="428.3" r="3.7" fill="#1f8248" fill-opacity=".94" stroke="#e6fff4" stroke-width="2.3"/>
<circle cx="510.8" cy="495.0" r="3.7" fill="#1f8248" fill-opacity=".94" stroke="#e6fff4" stroke-width="2.3"/>
<circle cx="702.5" cy="495.8" r="3.7" fill="#1f8248" fill-opacity=".94" stroke="#e6fff4" stroke-width="2.3"/>
<circle cx="717.5" cy="501.7" r="3.7" fill="#1f8248" fill-opacity=".94" stroke="#e6fff4" stroke-width="2.3"/>
<circle cx="733.3" cy="503.3" r="3.7" fill="#1f8248" fill-opacity=".94" stroke="#e6fff4" stroke-width="2.3"/>
<circle cx="790.0" cy="410.8" r="3.7" fill="#1f8248" fill-opacity=".94" stroke="#e6fff4" stroke-width="2.3"/>
<circle cx="810.8" cy="520.8" r="3.7" fill="#1f8248" fill-opacity=".94" stroke="#e6fff4" stroke-width="2.3"/>
<circle cx="842.5" cy="512.5" r="3.7" fill="#1f8248" fill-opacity=".94" stroke="#e6fff4" stroke-width="2.3"/>
<circle cx="894.2" cy="522.5" r="3.7" fill="#1f8248" fill-opacity=".94" stroke="#e6fff4" stroke-width="2.3"/>
<circle cx="868.8" cy="569.2" r="3.7" fill="#1f8248" fill-opacity=".94" stroke="#e6fff4" stroke-width="2.3"/>
<circle cx="827.5" cy="530.8" r="3.7" fill="#1f8248" fill-opacity=".94" stroke="#e6fff4" stroke-width="2.3"/>
<circle cx="738.8" cy="540.6" r="3.6" fill="#1f8248" fill-opacity=".94" stroke="#e6fff4" stroke-width="2.3"/>
<circle cx="769.6" cy="512.3" r="3.5" fill="#1f8248" fill-opacity=".94" stroke="#e6fff4" stroke-width="2.3"/>
<circle cx="752.1" cy="381.1" r="3.5" fill="#1f8248" fill-opacity=".94" stroke="#e6fff4" stroke-width="2.3"/>
<circle cx="874.8" cy="560.5" r="3.4" fill="#1f8248" fill-opacity=".94" stroke="#e6fff4" stroke-width="2.3"/>
<circle cx="429.0" cy="455.5" r="3.4" fill="#1f8248" fill-opacity=".94" stroke="#e6fff4" stroke-width="2.3"/>
<circle cx="588.0" cy="407.5" r="3.4" fill="#1f8248" fill-opacity=".94" stroke="#e6fff4" stroke-width="2.3"/>
<circle cx="535.0" cy="380.0" r="3.4" fill="#1f8248" fill-opacity=".94" stroke="#e6fff4" stroke-width="2.3"/>
<circle cx="530.0" cy="405.0" r="3.4" fill="#1f8248" fill-opacity=".94" stroke="#e6fff4" stroke-width="2.3"/>
<circle cx="634.0" cy="458.3" r="3.4" fill="#1f8248" fill-opacity=".94" stroke="#e6fff4" stroke-width="2.3"/>
<circle cx="624.0" cy="442.5" r="3.4" fill="#1f8248" fill-opacity=".94" stroke="#e6fff4" stroke-width="2.3"/>
<circle cx="758.3" cy="450.0" r="3.4" fill="#1f8248" fill-opacity=".94" stroke="#e6fff4" stroke-width="2.3"/>
<circle cx="550.0" cy="525.0" r="3.4" fill="#1f8248" fill-opacity=".94" stroke="#e6fff4" stroke-width="2.3"/>
<circle cx="762.5" cy="545.0" r="3.4" fill="#1f8248" fill-opacity=".94" stroke="#e6fff4" stroke-width="2.3"/>
<circle cx="741.4" cy="574.8" r="3.4" fill="#1f8248" fill-opacity=".94" stroke="#e6fff4" stroke-width="2.3"/>
<circle cx="773.8" cy="502.1" r="3.3" fill="#1f8248" fill-opacity=".94" stroke="#e6fff4" stroke-width="2.3"/>
<circle cx="762.1" cy="499.9" r="3.3" fill="#1f8248" fill-opacity=".94" stroke="#e6fff4" stroke-width="2.3"/>
<circle cx="526.8" cy="356.4" r="3.3" fill="#1f8248" fill-opacity=".94" stroke="#e6fff4" stroke-width="2.3"/>
<circle cx="655.3" cy="557.9" r="3.3" fill="#1f8248" fill-opacity=".94" stroke="#e6fff4" stroke-width="2.3"/>
<circle cx="587.5" cy="546.8" r="3.2" fill="#1f8248" fill-opacity=".94" stroke="#e6fff4" stroke-width="2.3"/>
<circle cx="651.9" cy="570.9" r="3.2" fill="#1f8248" fill-opacity=".94" stroke="#e6fff4" stroke-width="2.3"/>
<circle cx="716.9" cy="407.4" r="3.2" fill="#1f8248" fill-opacity=".94" stroke="#e6fff4" stroke-width="2.3"/>
<circle cx="373.1" cy="476.0" r="3.1" fill="#1f8248" fill-opacity=".94" stroke="#e6fff4" stroke-width="2.3"/>
<circle cx="837.5" cy="473.0" r="3.1" fill="#1f8248" fill-opacity=".94" stroke="#e6fff4" stroke-width="2.3"/>
<circle cx="556.2" cy="609.2" r="3.1" fill="#1f8248" fill-opacity=".94" stroke="#e6fff4" stroke-width="2.3"/>
<circle cx="883.4" cy="518.0" r="3.1" fill="#1f8248" fill-opacity=".94" stroke="#e6fff4" stroke-width="2.3"/>
<circle cx="850.6" cy="486.0" r="3.0" fill="#1f8248" fill-opacity=".94" stroke="#e6fff4" stroke-width="2.3"/>
<circle cx="818.5" cy="547.2" r="3.0" fill="#1f8248" fill-opacity=".94" stroke="#e6fff4" stroke-width="2.3"/>
<circle cx="770.0" cy="570.1" r="3.0" fill="#1f8248" fill-opacity=".94" stroke="#e6fff4" stroke-width="2.3"/>
<circle cx="847.7" cy="566.8" r="3.0" fill="#1f8248" fill-opacity=".94" stroke="#e6fff4" stroke-width="2.3"/>
<circle cx="587.7" cy="430.1" r="3.0" fill="#1f8248" fill-opacity=".94" stroke="#e6fff4" stroke-width="2.3"/>
<circle cx="544.7" cy="356.7" r="3.0" fill="#1f8248" fill-opacity=".94" stroke="#e6fff4" stroke-width="2.3"/>
<circle cx="710.1" cy="475.3" r="2.9" fill="#1f8248" fill-opacity=".94" stroke="#e6fff4" stroke-width="2.3"/>
<circle cx="658.4" cy="592.0" r="2.9" fill="#1f8248" fill-opacity=".94" stroke="#e6fff4" stroke-width="2.3"/>
<circle cx="590.4" cy="484.0" r="2.9" fill="#1f8248" fill-opacity=".94" stroke="#e6fff4" stroke-width="2.3"/>
<circle cx="407.5" cy="542.5" r="2.9" fill="#1f8248" fill-opacity=".94" stroke="#e6fff4" stroke-width="2.3"/>
<circle cx="377.5" cy="530.0" r="2.9" fill="#1f8248" fill-opacity=".94" stroke="#e6fff4" stroke-width="2.3"/>
<circle cx="747.5" cy="455.8" r="2.9" fill="#1f8248" fill-opacity=".94" stroke="#e6fff4" stroke-width="2.3"/>
<circle cx="610.2" cy="431.3" r="2.9" fill="#1f8248" fill-opacity=".94" stroke="#e6fff4" stroke-width="2.3"/>
<circle cx="656.6" cy="449.7" r="2.9" fill="#1f8248" fill-opacity=".94" stroke="#e6fff4" stroke-width="2.3"/>
<circle cx="795.9" cy="564.3" r="2.9" fill="#1f8248" fill-opacity=".94" stroke="#e6fff4" stroke-width="2.3"/>
<circle cx="790.6" cy="551.3" r="2.8" fill="#1f8248" fill-opacity=".94" stroke="#e6fff4" stroke-width="2.3"/>
<circle cx="489.7" cy="481.2" r="2.8" fill="#1f8248" fill-opacity=".94" stroke="#e6fff4" stroke-width="2.3"/>
<circle cx="560.5" cy="349.5" r="2.8" fill="#1f8248" fill-opacity=".94" stroke="#e6fff4" stroke-width="2.3"/>
<circle cx="502.8" cy="463.6" r="2.8" fill="#1f8248" fill-opacity=".94" stroke="#e6fff4" stroke-width="2.3"/>
<circle cx="617.9" cy="526.5" r="2.7" fill="#1f8248" fill-opacity=".94" stroke="#e6fff4" stroke-width="2.3"/>
<circle cx="798.9" cy="519.5" r="2.7" fill="#1f8248" fill-opacity=".94" stroke="#e6fff4" stroke-width="2.3"/>
<circle cx="401.3" cy="528.0" r="2.7" fill="#1f8248" fill-opacity=".94" stroke="#e6fff4" stroke-width="2.3"/>
<circle cx="829.6" cy="493.2" r="2.7" fill="#1f8248" fill-opacity=".94" stroke="#e6fff4" stroke-width="2.3"/>
<circle cx="613.7" cy="517.3" r="2.7" fill="#1f8248" fill-opacity=".94" stroke="#e6fff4" stroke-width="2.3"/>
<circle cx="787.8" cy="448.2" r="2.7" fill="#1f8248" fill-opacity=".94" stroke="#e6fff4" stroke-width="2.3"/>
<circle cx="356.1" cy="441.2" r="2.6" fill="#1f8248" fill-opacity=".94" stroke="#e6fff4" stroke-width="2.3"/>
<circle cx="718.6" cy="426.0" r="2.6" fill="#1f8248" fill-opacity=".94" stroke="#e6fff4" stroke-width="2.3"/>
<circle cx="721.4" cy="416.0" r="2.6" fill="#1f8248" fill-opacity=".94" stroke="#e6fff4" stroke-width="2.3"/>
<circle cx="512.0" cy="416.2" r="2.6" fill="#1f8248" fill-opacity=".94" stroke="#e6fff4" stroke-width="2.3"/>
<circle cx="386.5" cy="565.5" r="2.6" fill="#1f8248" fill-opacity=".94" stroke="#e6fff4" stroke-width="2.3"/>
<circle cx="509.1" cy="654.9" r="2.6" fill="#1f8248" fill-opacity=".94" stroke="#e6fff4" stroke-width="2.3"/>
<circle cx="503.9" cy="544.8" r="2.6" fill="#1f8248" fill-opacity=".94" stroke="#e6fff4" stroke-width="2.3"/>
<circle cx="771.2" cy="457.3" r="2.5" fill="#1f8248" fill-opacity=".94" stroke="#e6fff4" stroke-width="2.3"/>
<circle cx="772.0" cy="578.1" r="2.5" fill="#1f8248" fill-opacity=".94" stroke="#e6fff4" stroke-width="2.3"/>
<circle cx="519.7" cy="442.4" r="2.5" fill="#1f8248" fill-opacity=".94" stroke="#e6fff4" stroke-width="2.3"/>
<circle cx="739.6" cy="426.4" r="2.5" fill="#1f8248" fill-opacity=".94" stroke="#e6fff4" stroke-width="2.3"/>
<circle cx="786.8" cy="530.2" r="2.5" fill="#1f8248" fill-opacity=".94" stroke="#e6fff4" stroke-width="2.3"/>
<circle cx="767.6" cy="535.5" r="2.5" fill="#1f8248" fill-opacity=".94" stroke="#e6fff4" stroke-width="2.3"/>
<circle cx="729.6" cy="547.7" r="2.4" fill="#1f8248" fill-opacity=".94" stroke="#e6fff4" stroke-width="2.3"/>
<circle cx="687.9" cy="435.5" r="2.4" fill="#1f8248" fill-opacity=".94" stroke="#e6fff4" stroke-width="2.3"/>
<circle cx="538.3" cy="567.6" r="2.4" fill="#1f8248" fill-opacity=".94" stroke="#e6fff4" stroke-width="2.3"/>
<circle cx="737.3" cy="559.1" r="2.4" fill="#1f8248" fill-opacity=".94" stroke="#e6fff4" stroke-width="2.3"/>
<circle cx="744.3" cy="495.1" r="2.4" fill="#1f8248" fill-opacity=".94" stroke="#e6fff4" stroke-width="2.3"/>
<circle cx="511.9" cy="608.5" r="2.4" fill="#1f8248" fill-opacity=".94" stroke="#e6fff4" stroke-width="2.3"/>
<circle cx="671.6" cy="410.5" r="2.3" fill="#1f8248" fill-opacity=".94" stroke="#e6fff4" stroke-width="2.3"/>
<circle cx="516.2" cy="528.6" r="2.3" fill="#1f8248" fill-opacity=".94" stroke="#e6fff4" stroke-width="2.3"/>
<circle cx="671.9" cy="584.5" r="2.3" fill="#1f8248" fill-opacity=".94" stroke="#e6fff4" stroke-width="2.3"/>
<circle cx="627.3" cy="410.5" r="2.2" fill="#1f8248" fill-opacity=".94" stroke="#e6fff4" stroke-width="2.3"/>
<circle cx="584.4" cy="369.8" r="2.2" fill="#1f8248" fill-opacity=".94" stroke="#e6fff4" stroke-width="2.3"/>
<circle cx="780.8" cy="554.6" r="2.2" fill="#1f8248" fill-opacity=".94" stroke="#e6fff4" stroke-width="2.3"/>
<circle cx="615.6" cy="477.8" r="3.8" fill="#f0fff8"/><circle cx="615.6" cy="477.8" r="1.6" fill="#2a7a4c"/>
<circle cx="315.6" cy="502.7" r="3.8" fill="#f0fff8"/><circle cx="315.6" cy="502.7" r="1.6" fill="#2a7a4c"/>
<circle cx="367.5" cy="425.7" r="3.8" fill="#f0fff8"/><circle cx="367.5" cy="425.7" r="1.6" fill="#2a7a4c"/>
<circle cx="809.8" cy="450.0" r="3.8" fill="#f0fff8"/><circle cx="809.8" cy="450.0" r="1.6" fill="#2a7a4c"/>
<circle cx="401.8" cy="556.9" r="3.8" fill="#f0fff8"/><circle cx="401.8" cy="556.9" r="1.6" fill="#2a7a4c"/>
<circle cx="482.1" cy="558.3" r="3.8" fill="#f0fff8"/><circle cx="482.1" cy="558.3" r="1.6" fill="#2a7a4c"/>
<circle cx="544.7" cy="621.1" r="3.8" fill="#f0fff8"/><circle cx="544.7" cy="621.1" r="1.6" fill="#2a7a4c"/>
<circle cx="753.3" cy="553.7" r="3.8" fill="#f0fff8"/><circle cx="753.3" cy="553.7" r="1.6" fill="#2a7a4c"/>
<circle cx="306.6" cy="513.0" r="3.8" fill="#f0fff8"/><circle cx="306.6" cy="513.0" r="1.6" fill="#2a7a4c"/>
<circle cx="341.5" cy="508.4" r="3.8" fill="#f0fff8"/><circle cx="341.5" cy="508.4" r="1.6" fill="#2a7a4c"/>
<circle cx="647.7" cy="440.2" r="3.8" fill="#f0fff8"/><circle cx="647.7" cy="440.2" r="1.6" fill="#2a7a4c"/>
<circle cx="295.5" cy="497.3" r="3.8" fill="#f0fff8"/><circle cx="295.5" cy="497.3" r="1.6" fill="#2a7a4c"/>
<circle cx="515.3" cy="551.3" r="3.8" fill="#f0fff8"/><circle cx="515.3" cy="551.3" r="1.6" fill="#2a7a4c"/>
<circle cx="529.2" cy="490.0" r="3.8" fill="#f0fff8"/><circle cx="529.2" cy="490.0" r="1.6" fill="#2a7a4c"/>
<circle cx="354.1" cy="477.1" r="3.8" fill="#f0fff8"/><circle cx="354.1" cy="477.1" r="1.6" fill="#2a7a4c"/>
<circle cx="662.7" cy="398.4" r="3.8" fill="#f0fff8"/><circle cx="662.7" cy="398.4" r="1.6" fill="#2a7a4c"/>
<circle cx="444.9" cy="471.1" r="3.8" fill="#f0fff8"/><circle cx="444.9" cy="471.1" r="1.6" fill="#2a7a4c"/>
<circle cx="512.2" cy="389.0" r="3.8" fill="#f0fff8"/><circle cx="512.2" cy="389.0" r="1.6" fill="#2a7a4c"/>
<circle cx="499.3" cy="440.9" r="3.8" fill="#f0fff8"/><circle cx="499.3" cy="440.9" r="1.6" fill="#2a7a4c"/>
<circle cx="792.0" cy="403.1" r="3.8" fill="#f0fff8"/><circle cx="792.0" cy="403.1" r="1.6" fill="#2a7a4c"/>
<circle cx="611.0" cy="397.7" r="3.8" fill="#f0fff8"/><circle cx="611.0" cy="397.7" r="1.6" fill="#2a7a4c"/>
<circle cx="868.8" cy="507.7" r="3.8" fill="#f0fff8"/><circle cx="868.8" cy="507.7" r="1.6" fill="#2a7a4c"/>
<circle cx="729.3" cy="406.2" r="3.8" fill="#f0fff8"/><circle cx="729.3" cy="406.2" r="1.6" fill="#2a7a4c"/>
<circle cx="790.3" cy="421.2" r="3.8" fill="#f0fff8"/><circle cx="790.3" cy="421.2" r="1.6" fill="#2a7a4c"/>
<circle cx="444.6" cy="451.2" r="3.8" fill="#f0fff8"/><circle cx="444.6" cy="451.2" r="1.6" fill="#2a7a4c"/>
<circle cx="506.0" cy="511.7" r="3.8" fill="#f0fff8"/><circle cx="506.0" cy="511.7" r="1.6" fill="#2a7a4c"/>
<circle cx="558.0" cy="411.0" r="3.8" fill="#f0fff8"/><circle cx="558.0" cy="411.0" r="1.6" fill="#2a7a4c"/>
<circle cx="757.9" cy="529.8" r="3.8" fill="#f0fff8"/><circle cx="757.9" cy="529.8" r="1.6" fill="#2a7a4c"/>
<circle cx="842.3" cy="506.2" r="3.8" fill="#f0fff8"/><circle cx="842.3" cy="506.2" r="1.6" fill="#2a7a4c"/>
<circle cx="565.3" cy="539.2" r="3.8" fill="#f0fff8"/><circle cx="565.3" cy="539.2" r="1.6" fill="#2a7a4c"/>
<circle cx="366.2" cy="505.8" r="3.8" fill="#f0fff8"/><circle cx="366.2" cy="505.8" r="1.6" fill="#2a7a4c"/>
<circle cx="532.8" cy="522.3" r="3.8" fill="#f0fff8"/><circle cx="532.8" cy="522.3" r="1.6" fill="#2a7a4c"/>
<circle cx="390.2" cy="501.9" r="3.8" fill="#f0fff8"/><circle cx="390.2" cy="501.9" r="1.6" fill="#2a7a4c"/>
<circle cx="410.8" cy="460.6" r="3.8" fill="#f0fff8"/><circle cx="410.8" cy="460.6" r="1.6" fill="#2a7a4c"/>
<circle cx="626.5" cy="505.2" r="3.8" fill="#f0fff8"/><circle cx="626.5" cy="505.2" r="1.6" fill="#2a7a4c"/>
<circle cx="480.8" cy="455.6" r="3.8" fill="#f0fff8"/><circle cx="480.8" cy="455.6" r="1.6" fill="#2a7a4c"/>
<circle cx="750.2" cy="450.1" r="3.8" fill="#f0fff8"/><circle cx="750.2" cy="450.1" r="1.6" fill="#2a7a4c"/>
<circle cx="594.1" cy="409.1" r="3.8" fill="#f0fff8"/><circle cx="594.1" cy="409.1" r="1.6" fill="#2a7a4c"/>
<circle cx="786.0" cy="502.2" r="3.8" fill="#f0fff8"/><circle cx="786.0" cy="502.2" r="1.6" fill="#2a7a4c"/>
<circle cx="499.3" cy="648.6" r="3.8" fill="#f0fff8"/><circle cx="499.3" cy="648.6" r="1.6" fill="#2a7a4c"/>
<circle cx="718.4" cy="576.8" r="3.8" fill="#f0fff8"/><circle cx="718.4" cy="576.8" r="1.6" fill="#2a7a4c"/>
<circle cx="536.6" cy="471.2" r="3.8" fill="#f0fff8"/><circle cx="536.6" cy="471.2" r="1.6" fill="#2a7a4c"/>
<circle cx="462.7" cy="432.6" r="3.8" fill="#f0fff8"/><circle cx="462.7" cy="432.6" r="1.6" fill="#2a7a4c"/>
<circle cx="479.3" cy="474.5" r="3.8" fill="#f0fff8"/><circle cx="479.3" cy="474.5" r="1.6" fill="#2a7a4c"/>
<circle cx="744.8" cy="584.7" r="3.8" fill="#f0fff8"/><circle cx="744.8" cy="584.7" r="1.6" fill="#2a7a4c"/>
<circle cx="728.9" cy="579.4" r="3.8" fill="#f0fff8"/><circle cx="728.9" cy="579.4" r="1.6" fill="#2a7a4c"/>
<circle cx="376.9" cy="535.7" r="3.8" fill="#f0fff8"/><circle cx="376.9" cy="535.7" r="1.6" fill="#2a7a4c"/>
<circle cx="337.8" cy="441.2" r="3.8" fill="#f0fff8"/><circle cx="337.8" cy="441.2" r="1.6" fill="#2a7a4c"/>
<circle cx="732.1" cy="419.1" r="3.8" fill="#f0fff8"/><circle cx="732.1" cy="419.1" r="1.6" fill="#2a7a4c"/>
<circle cx="754.7" cy="569.8" r="3.8" fill="#f0fff8"/><circle cx="754.7" cy="569.8" r="1.6" fill="#2a7a4c"/>
<circle cx="381.7" cy="436.9" r="3.8" fill="#f0fff8"/><circle cx="381.7" cy="436.9" r="1.6" fill="#2a7a4c"/>
<circle cx="573.7" cy="387.4" r="3.8" fill="#f0fff8"/><circle cx="573.7" cy="387.4" r="1.6" fill="#2a7a4c"/>
<circle cx="419.8" cy="556.8" r="3.8" fill="#f0fff8"/><circle cx="419.8" cy="556.8" r="1.6" fill="#2a7a4c"/>
<circle cx="510.1" cy="500.7" r="3.8" fill="#f0fff8"/><circle cx="510.1" cy="500.7" r="1.6" fill="#2a7a4c"/>
<circle cx="859.3" cy="545.0" r="3.8" fill="#f0fff8"/><circle cx="859.3" cy="545.0" r="1.6" fill="#2a7a4c"/>
<circle cx="519.9" cy="467.8" r="3.8" fill="#f0fff8"/><circle cx="519.9" cy="467.8" r="1.6" fill="#2a7a4c"/>
<circle cx="533.7" cy="507.2" r="3.8" fill="#f0fff8"/><circle cx="533.7" cy="507.2" r="1.6" fill="#2a7a4c"/>
<circle cx="526.6" cy="425.8" r="3.8" fill="#f0fff8"/><circle cx="526.6" cy="425.8" r="1.6" fill="#2a7a4c"/>
<circle cx="825.0" cy="518.0" r="3.8" fill="#f0fff8"/><circle cx="825.0" cy="518.0" r="1.6" fill="#2a7a4c"/>
<circle cx="545.8" cy="438.2" r="3.8" fill="#f0fff8"/><circle cx="545.8" cy="438.2" r="1.6" fill="#2a7a4c"/>
<circle cx="496.5" cy="497.9" r="3.8" fill="#f0fff8"/><circle cx="496.5" cy="497.9" r="1.6" fill="#2a7a4c"/>
<circle cx="703.9" cy="416.5" r="3.8" fill="#f0fff8"/><circle cx="703.9" cy="416.5" r="1.6" fill="#2a7a4c"/>
<circle cx="329.2" cy="488.0" r="3.8" fill="#f0fff8"/><circle cx="329.2" cy="488.0" r="1.6" fill="#2a7a4c"/>
<circle cx="853.8" cy="464.5" r="3.8" fill="#f0fff8"/><circle cx="853.8" cy="464.5" r="1.6" fill="#2a7a4c"/>
<circle cx="693.0" cy="482.6" r="3.8" fill="#f0fff8"/><circle cx="693.0" cy="482.6" r="1.6" fill="#2a7a4c"/>
<circle cx="461.4" cy="472.6" r="3.8" fill="#f0fff8"/><circle cx="461.4" cy="472.6" r="1.6" fill="#2a7a4c"/>
<circle cx="322.7" cy="517.3" r="3.8" fill="#f0fff8"/><circle cx="322.7" cy="517.3" r="1.6" fill="#2a7a4c"/>
<circle cx="409.2" cy="477.3" r="3.8" fill="#f0fff8"/><circle cx="409.2" cy="477.3" r="1.6" fill="#2a7a4c"/>
<circle cx="844.7" cy="576.0" r="3.8" fill="#f0fff8"/><circle cx="844.7" cy="576.0" r="1.6" fill="#2a7a4c"/>
<circle cx="720.3" cy="507.6" r="3.8" fill="#f0fff8"/><circle cx="720.3" cy="507.6" r="1.6" fill="#2a7a4c"/>
<circle cx="634.3" cy="480.5" r="3.8" fill="#f0fff8"/><circle cx="634.3" cy="480.5" r="1.6" fill="#2a7a4c"/>
<circle cx="641.1" cy="463.4" r="3.8" fill="#f0fff8"/><circle cx="641.1" cy="463.4" r="1.6" fill="#2a7a4c"/>
<circle cx="779.7" cy="583.1" r="3.8" fill="#f0fff8"/><circle cx="779.7" cy="583.1" r="1.6" fill="#2a7a4c"/>
<circle cx="424.0" cy="478.9" r="3.8" fill="#f0fff8"/><circle cx="424.0" cy="478.9" r="1.6" fill="#2a7a4c"/>
<circle cx="771.8" cy="544.6" r="3.8" fill="#f0fff8"/><circle cx="771.8" cy="544.6" r="1.6" fill="#2a7a4c"/>
<circle cx="766.1" cy="425.3" r="3.8" fill="#f0fff8"/><circle cx="766.1" cy="425.3" r="1.6" fill="#2a7a4c"/>
<circle cx="604.8" cy="484.4" r="3.8" fill="#f0fff8"/><circle cx="604.8" cy="484.4" r="1.6" fill="#2a7a4c"/>
<circle cx="549.3" cy="585.1" r="3.8" fill="#f0fff8"/><circle cx="549.3" cy="585.1" r="1.6" fill="#2a7a4c"/>
<circle cx="562.0" cy="504.4" r="3.8" fill="#f0fff8"/><circle cx="562.0" cy="504.4" r="1.6" fill="#2a7a4c"/>
<circle cx="332.4" cy="472.4" r="3.8" fill="#f0fff8"/><circle cx="332.4" cy="472.4" r="1.6" fill="#2a7a4c"/>
<circle cx="748.2" cy="402.1" r="3.8" fill="#f0fff8"/><circle cx="748.2" cy="402.1" r="1.6" fill="#2a7a4c"/>
<circle cx="773.2" cy="440.9" r="3.8" fill="#f0fff8"/><circle cx="773.2" cy="440.9" r="1.6" fill="#2a7a4c"/>
<circle cx="645.7" cy="586.9" r="3.8" fill="#f0fff8"/><circle cx="645.7" cy="586.9" r="1.6" fill="#2a7a4c"/>
<circle cx="668.6" cy="517.8" r="3.8" fill="#f0fff8"/><circle cx="668.6" cy="517.8" r="1.6" fill="#2a7a4c"/>
<circle cx="631.5" cy="472.2" r="3.8" fill="#f0fff8"/><circle cx="631.5" cy="472.2" r="1.6" fill="#2a7a4c"/>
<circle cx="681.7" cy="506.4" r="3.8" fill="#f0fff8"/><circle cx="681.7" cy="506.4" r="1.6" fill="#2a7a4c"/>
<circle cx="413.1" cy="566.6" r="3.8" fill="#f0fff8"/><circle cx="413.1" cy="566.6" r="1.6" fill="#2a7a4c"/>
<circle cx="764.4" cy="605.8" r="3.8" fill="#f0fff8"/><circle cx="764.4" cy="605.8" r="1.6" fill="#2a7a4c"/>
<circle cx="822.9" cy="464.3" r="3.8" fill="#f0fff8"/><circle cx="822.9" cy="464.3" r="1.6" fill="#2a7a4c"/>
<circle cx="710.0" cy="576.0" r="3.8" fill="#f0fff8"/><circle cx="710.0" cy="576.0" r="1.6" fill="#2a7a4c"/>
<circle cx="511.8" cy="643.2" r="3.8" fill="#f0fff8"/><circle cx="511.8" cy="643.2" r="1.6" fill="#2a7a4c"/>
<circle cx="748.9" cy="419.0" r="3.8" fill="#f0fff8"/><circle cx="748.9" cy="419.0" r="1.6" fill="#2a7a4c"/>
<circle cx="873.3" cy="528.4" r="3.8" fill="#f0fff8"/><circle cx="873.3" cy="528.4" r="1.6" fill="#2a7a4c"/>
<circle cx="805.5" cy="570.3" r="3.8" fill="#f0fff8"/><circle cx="805.5" cy="570.3" r="1.6" fill="#2a7a4c"/>
<circle cx="501.8" cy="601.9" r="3.8" fill="#f0fff8"/><circle cx="501.8" cy="601.9" r="1.6" fill="#2a7a4c"/>
<circle cx="481.4" cy="573.9" r="3.8" fill="#f0fff8"/><circle cx="481.4" cy="573.9" r="1.6" fill="#2a7a4c"/>
<circle cx="351.9" cy="497.6" r="3.8" fill="#f0fff8"/><circle cx="351.9" cy="497.6" r="1.6" fill="#2a7a4c"/>
<circle cx="548.0" cy="510.6" r="3.8" fill="#f0fff8"/><circle cx="548.0" cy="510.6" r="1.6" fill="#2a7a4c"/>
<circle cx="761.5" cy="486.3" r="3.8" fill="#f0fff8"/><circle cx="761.5" cy="486.3" r="1.6" fill="#2a7a4c"/>
<circle cx="859.2" cy="534.0" r="3.8" fill="#f0fff8"/><circle cx="859.2" cy="534.0" r="1.6" fill="#2a7a4c"/>
<circle cx="529.3" cy="623.1" r="3.8" fill="#f0fff8"/><circle cx="529.3" cy="623.1" r="1.6" fill="#2a7a4c"/>
<circle cx="546.2" cy="599.6" r="3.8" fill="#f0fff8"/><circle cx="546.2" cy="599.6" r="1.6" fill="#2a7a4c"/>
<circle cx="575.4" cy="549.7" r="3.8" fill="#f0fff8"/><circle cx="575.4" cy="549.7" r="1.6" fill="#2a7a4c"/>
<circle cx="505.6" cy="577.8" r="3.8" fill="#f0fff8"/><circle cx="505.6" cy="577.8" r="1.6" fill="#2a7a4c"/>
<circle cx="794.9" cy="473.8" r="3.8" fill="#f0fff8"/><circle cx="794.9" cy="473.8" r="1.6" fill="#2a7a4c"/>
<circle cx="676.5" cy="576.8" r="3.8" fill="#f0fff8"/><circle cx="676.5" cy="576.8" r="1.6" fill="#2a7a4c"/>
<circle cx="322.9" cy="453.9" r="3.8" fill="#f0fff8"/><circle cx="322.9" cy="453.9" r="1.6" fill="#2a7a4c"/>
<circle cx="664.3" cy="573.4" r="3.8" fill="#f0fff8"/><circle cx="664.3" cy="573.4" r="1.6" fill="#2a7a4c"/>
<circle cx="694.5" cy="511.6" r="3.8" fill="#f0fff8"/><circle cx="694.5" cy="511.6" r="1.6" fill="#2a7a4c"/>
<circle cx="541.3" cy="381.3" r="3.8" fill="#f0fff8"/><circle cx="541.3" cy="381.3" r="1.6" fill="#2a7a4c"/>
<circle cx="785.0" cy="373.2" r="3.8" fill="#f0fff8"/><circle cx="785.0" cy="373.2" r="1.6" fill="#2a7a4c"/>
<circle cx="501.8" cy="375.1" r="3.8" fill="#f0fff8"/><circle cx="501.8" cy="375.1" r="1.6" fill="#2a7a4c"/>
<circle cx="573.1" cy="419.6" r="3.8" fill="#f0fff8"/><circle cx="573.1" cy="419.6" r="1.6" fill="#2a7a4c"/>
<circle cx="579.9" cy="559.7" r="3.8" fill="#f0fff8"/><circle cx="579.9" cy="559.7" r="1.6" fill="#2a7a4c"/>
<circle cx="767.0" cy="401.2" r="3.8" fill="#f0fff8"/><circle cx="767.0" cy="401.2" r="1.6" fill="#2a7a4c"/>
<circle cx="484.5" cy="674.6" r="3.8" fill="#f0fff8"/><circle cx="484.5" cy="674.6" r="1.6" fill="#2a7a4c"/>
<circle cx="512.3" cy="706.7" r="3.8" fill="#f0fff8"/><circle cx="512.3" cy="706.7" r="1.6" fill="#2a7a4c"/>
<circle cx="794.0" cy="536.7" r="3.8" fill="#f0fff8"/><circle cx="794.0" cy="536.7" r="1.6" fill="#2a7a4c"/>
<circle cx="404.9" cy="503.3" r="3.8" fill="#f0fff8"/><circle cx="404.9" cy="503.3" r="1.6" fill="#2a7a4c"/>
<circle cx="636.9" cy="394.5" r="3.8" fill="#f0fff8"/><circle cx="636.9" cy="394.5" r="1.6" fill="#2a7a4c"/>
<circle cx="401.4" cy="626.0" r="3.8" fill="#f0fff8"/><circle cx="401.4" cy="626.0" r="1.6" fill="#2a7a4c"/>
<circle cx="661.7" cy="603.0" r="3.8" fill="#f0fff8"/><circle cx="661.7" cy="603.0" r="1.6" fill="#2a7a4c"/>
<circle cx="381.6" cy="553.7" r="3.8" fill="#f0fff8"/><circle cx="381.6" cy="553.7" r="1.6" fill="#2a7a4c"/>
<circle cx="760.7" cy="467.9" r="3.8" fill="#f0fff8"/><circle cx="760.7" cy="467.9" r="1.6" fill="#2a7a4c"/>
<circle cx="857.0" cy="575.8" r="3.8" fill="#f0fff8"/><circle cx="857.0" cy="575.8" r="1.6" fill="#2a7a4c"/>
<circle cx="628.1" cy="523.9" r="3.8" fill="#f0fff8"/><circle cx="628.1" cy="523.9" r="1.6" fill="#2a7a4c"/>
<circle cx="386.0" cy="467.3" r="3.8" fill="#f0fff8"/><circle cx="386.0" cy="467.3" r="1.6" fill="#2a7a4c"/>
<circle cx="705.5" cy="486.6" r="3.8" fill="#f0fff8"/><circle cx="705.5" cy="486.6" r="1.6" fill="#2a7a4c"/>
<circle cx="508.3" cy="561.7" r="3.8" fill="#f0fff8"/><circle cx="508.3" cy="561.7" r="1.6" fill="#2a7a4c"/>
<circle cx="558.0" cy="572.6" r="3.8" fill="#f0fff8"/><circle cx="558.0" cy="572.6" r="1.6" fill="#2a7a4c"/>
<circle cx="723.7" cy="473.5" r="3.8" fill="#f0fff8"/><circle cx="723.7" cy="473.5" r="1.6" fill="#2a7a4c"/>
<circle cx="479.1" cy="664.4" r="3.8" fill="#f0fff8"/><circle cx="479.1" cy="664.4" r="1.6" fill="#2a7a4c"/>
<circle cx="584.6" cy="634.1" r="3.8" fill="#f0fff8"/><circle cx="584.6" cy="634.1" r="1.6" fill="#2a7a4c"/>
<circle cx="713.9" cy="434.9" r="3.8" fill="#f0fff8"/><circle cx="713.9" cy="434.9" r="1.6" fill="#2a7a4c"/>
<circle cx="862.7" cy="499.2" r="3.8" fill="#f0fff8"/><circle cx="862.7" cy="499.2" r="1.6" fill="#2a7a4c"/>
<circle cx="671.1" cy="509.7" r="3.8" fill="#f0fff8"/><circle cx="671.1" cy="509.7" r="1.6" fill="#2a7a4c"/>
<circle cx="707.2" cy="403.9" r="3.8" fill="#f0fff8"/><circle cx="707.2" cy="403.9" r="1.6" fill="#2a7a4c"/>
<circle cx="870.9" cy="550.1" r="3.8" fill="#f0fff8"/><circle cx="870.9" cy="550.1" r="1.6" fill="#2a7a4c"/>
<circle cx="759.5" cy="394.1" r="3.8" fill="#f0fff8"/><circle cx="759.5" cy="394.1" r="1.6" fill="#2a7a4c"/>
<circle cx="738.2" cy="530.3" r="3.8" fill="#f0fff8"/><circle cx="738.2" cy="530.3" r="1.6" fill="#2a7a4c"/>
<circle cx="683.7" cy="492.3" r="3.8" fill="#f0fff8"/><circle cx="683.7" cy="492.3" r="1.6" fill="#2a7a4c"/>
<circle cx="594.4" cy="385.1" r="3.8" fill="#f0fff8"/><circle cx="594.4" cy="385.1" r="1.6" fill="#2a7a4c"/>
<circle cx="620.5" cy="544.9" r="3.8" fill="#f0fff8"/><circle cx="620.5" cy="544.9" r="1.6" fill="#2a7a4c"/>
<circle cx="446.3" cy="567.6" r="3.8" fill="#f0fff8"/><circle cx="446.3" cy="567.6" r="1.6" fill="#2a7a4c"/>
<circle cx="710.9" cy="462.7" r="3.8" fill="#f0fff8"/><circle cx="710.9" cy="462.7" r="1.6" fill="#2a7a4c"/>
<circle cx="434.1" cy="574.4" r="3.8" fill="#f0fff8"/><circle cx="434.1" cy="574.4" r="1.6" fill="#2a7a4c"/>
<circle cx="740.5" cy="482.7" r="3.8" fill="#f0fff8"/><circle cx="740.5" cy="482.7" r="1.6" fill="#2a7a4c"/>
<circle cx="570.1" cy="578.4" r="3.8" fill="#f0fff8"/><circle cx="570.1" cy="578.4" r="1.6" fill="#2a7a4c"/>
<circle cx="522.5" cy="648.6" r="3.8" fill="#f0fff8"/><circle cx="522.5" cy="648.6" r="1.6" fill="#2a7a4c"/>
<circle cx="776.5" cy="534.8" r="3.8" fill="#f0fff8"/><circle cx="776.5" cy="534.8" r="1.6" fill="#2a7a4c"/>
<circle cx="327.7" cy="502.7" r="3.8" fill="#f0fff8"/><circle cx="327.7" cy="502.7" r="1.6" fill="#2a7a4c"/>
<circle cx="698.7" cy="591.0" r="3.8" fill="#f0fff8"/><circle cx="698.7" cy="591.0" r="1.6" fill="#2a7a4c"/>
<circle cx="701.7" cy="385.9" r="3.8" fill="#f0fff8"/><circle cx="701.7" cy="385.9" r="1.6" fill="#2a7a4c"/>
<circle cx="505.4" cy="481.1" r="3.8" fill="#f0fff8"/><circle cx="505.4" cy="481.1" r="1.6" fill="#2a7a4c"/>
<circle cx="391.7" cy="540.0" r="3.8" fill="#f0fff8"/><circle cx="391.7" cy="540.0" r="1.6" fill="#2a7a4c"/>
<circle cx="598.1" cy="478.3" r="3.8" fill="#f0fff8"/><circle cx="598.1" cy="478.3" r="1.6" fill="#2a7a4c"/>
<circle cx="311.6" cy="487.9" r="3.8" fill="#f0fff8"/><circle cx="311.6" cy="487.9" r="1.6" fill="#2a7a4c"/>
<circle cx="741.8" cy="393.4" r="3.8" fill="#f0fff8"/><circle cx="741.8" cy="393.4" r="1.6" fill="#2a7a4c"/>
<circle cx="871.5" cy="538.6" r="3.8" fill="#f0fff8"/><circle cx="871.5" cy="538.6" r="1.6" fill="#2a7a4c"/>
<circle cx="403.8" cy="443.4" r="3.8" fill="#f0fff8"/><circle cx="403.8" cy="443.4" r="1.6" fill="#2a7a4c"/>
<circle cx="562.5" cy="618.9" r="3.8" fill="#f0fff8"/><circle cx="562.5" cy="618.9" r="1.6" fill="#2a7a4c"/>
<circle cx="777.6" cy="591.6" r="3.8" fill="#f0fff8"/><circle cx="777.6" cy="591.6" r="1.6" fill="#2a7a4c"/>
<circle cx="611.7" cy="449.5" r="3.8" fill="#f0fff8"/><circle cx="611.7" cy="449.5" r="1.6" fill="#2a7a4c"/>
<circle cx="360.0" cy="456.3" r="3.8" fill="#f0fff8"/><circle cx="360.0" cy="456.3" r="1.6" fill="#2a7a4c"/>
<circle cx="613.1" cy="534.8" r="3.8" fill="#f0fff8"/><circle cx="613.1" cy="534.8" r="1.6" fill="#2a7a4c"/>
<circle cx="457.8" cy="653.2" r="3.8" fill="#f0fff8"/><circle cx="457.8" cy="653.2" r="1.6" fill="#2a7a4c"/>
<circle cx="747.0" cy="527.2" r="3.8" fill="#f0fff8"/><circle cx="747.0" cy="527.2" r="1.6" fill="#2a7a4c"/>
<circle cx="716.7" cy="568.1" r="3.8" fill="#f0fff8"/><circle cx="716.7" cy="568.1" r="1.6" fill="#2a7a4c"/>
<circle cx="492.3" cy="552.1" r="3.8" fill="#f0fff8"/><circle cx="492.3" cy="552.1" r="1.6" fill="#2a7a4c"/>
<circle cx="566.3" cy="593.9" r="3.8" fill="#f0fff8"/><circle cx="566.3" cy="593.9" r="1.6" fill="#2a7a4c"/>
<circle cx="584.7" cy="578.0" r="3.8" fill="#f0fff8"/><circle cx="584.7" cy="578.0" r="1.6" fill="#2a7a4c"/>
<circle cx="567.8" cy="558.3" r="3.8" fill="#f0fff8"/><circle cx="567.8" cy="558.3" r="1.6" fill="#2a7a4c"/>
<circle cx="557.7" cy="368.7" r="3.8" fill="#f0fff8"/><circle cx="557.7" cy="368.7" r="1.6" fill="#2a7a4c"/>
<circle cx="576.3" cy="490.5" r="3.8" fill="#f0fff8"/><circle cx="576.3" cy="490.5" r="1.6" fill="#2a7a4c"/>
<circle cx="709.6" cy="516.6" r="3.8" fill="#f0fff8"/><circle cx="709.6" cy="516.6" r="1.6" fill="#2a7a4c"/>
<circle cx="466.0" cy="675.8" r="3.8" fill="#f0fff8"/><circle cx="466.0" cy="675.8" r="1.6" fill="#2a7a4c"/>
<circle cx="652.9" cy="598.3" r="3.8" fill="#f0fff8"/><circle cx="652.9" cy="598.3" r="1.6" fill="#2a7a4c"/>
<circle cx="679.1" cy="516.7" r="3.8" fill="#f0fff8"/><circle cx="679.1" cy="516.7" r="1.6" fill="#2a7a4c"/>
<circle cx="569.9" cy="604.4" r="3.8" fill="#f0fff8"/><circle cx="569.9" cy="604.4" r="1.6" fill="#2a7a4c"/>
<circle cx="741.0" cy="550.0" r="3.8" fill="#f0fff8"/><circle cx="741.0" cy="550.0" r="1.6" fill="#2a7a4c"/>
<circle cx="657.2" cy="582.3" r="3.8" fill="#f0fff8"/><circle cx="657.2" cy="582.3" r="1.6" fill="#2a7a4c"/>
<circle cx="667.0" cy="423.2" r="3.8" fill="#f0fff8"/><circle cx="667.0" cy="423.2" r="1.6" fill="#2a7a4c"/>
<circle cx="860.3" cy="555.2" r="3.8" fill="#f0fff8"/><circle cx="860.3" cy="555.2" r="1.6" fill="#2a7a4c"/>
<circle cx="787.6" cy="564.0" r="3.8" fill="#f0fff8"/><circle cx="787.6" cy="564.0" r="1.6" fill="#2a7a4c"/>
<circle cx="426.0" cy="450.4" r="3.8" fill="#f0fff8"/><circle cx="426.0" cy="450.4" r="1.6" fill="#2a7a4c"/>
<circle cx="724.2" cy="537.7" r="3.8" fill="#f0fff8"/><circle cx="724.2" cy="537.7" r="1.6" fill="#2a7a4c"/>
<circle cx="700.5" cy="582.8" r="3.8" fill="#f0fff8"/><circle cx="700.5" cy="582.8" r="1.6" fill="#2a7a4c"/>
<circle cx="771.7" cy="411.1" r="3.8" fill="#f0fff8"/><circle cx="771.7" cy="411.1" r="1.6" fill="#2a7a4c"/>
<circle cx="721.7" cy="604.1" r="3.8" fill="#f0fff8"/><circle cx="721.7" cy="604.1" r="1.6" fill="#2a7a4c"/>
<circle cx="549.0" cy="472.8" r="3.8" fill="#f0fff8"/><circle cx="549.0" cy="472.8" r="1.6" fill="#2a7a4c"/>
<circle cx="526.0" cy="566.9" r="3.8" fill="#f0fff8"/><circle cx="526.0" cy="566.9" r="1.6" fill="#2a7a4c"/>
<circle cx="495.5" cy="403.9" r="3.8" fill="#f0fff8"/><circle cx="495.5" cy="403.9" r="1.6" fill="#2a7a4c"/>
<circle cx="724.5" cy="386.2" r="3.8" fill="#f0fff8"/><circle cx="724.5" cy="386.2" r="1.6" fill="#2a7a4c"/>
<circle cx="687.1" cy="591.5" r="3.8" fill="#f0fff8"/><circle cx="687.1" cy="591.5" r="1.6" fill="#2a7a4c"/>
<circle cx="437.7" cy="657.5" r="3.8" fill="#f0fff8"/><circle cx="437.7" cy="657.5" r="1.6" fill="#2a7a4c"/>
<circle cx="774.4" cy="382.3" r="3.8" fill="#f0fff8"/><circle cx="774.4" cy="382.3" r="1.6" fill="#2a7a4c"/>
<circle cx="663.1" cy="550.2" r="3.8" fill="#f0fff8"/><circle cx="663.1" cy="550.2" r="1.6" fill="#2a7a4c"/>
<circle cx="584.0" cy="569.7" r="3.8" fill="#f0fff8"/><circle cx="584.0" cy="569.7" r="1.6" fill="#2a7a4c"/>
<circle cx="389.1" cy="451.1" r="3.8" fill="#f0fff8"/><circle cx="389.1" cy="451.1" r="1.6" fill="#2a7a4c"/>
<circle cx="616.7" cy="504.9" r="3.8" fill="#f0fff8"/><circle cx="616.7" cy="504.9" r="1.6" fill="#2a7a4c"/>
<circle cx="830.3" cy="444.2" r="3.8" fill="#f0fff8"/><circle cx="830.3" cy="444.2" r="1.6" fill="#2a7a4c"/>
<circle cx="635.9" cy="532.6" r="3.8" fill="#f0fff8"/><circle cx="635.9" cy="532.6" r="1.6" fill="#2a7a4c"/>
<circle cx="643.4" cy="528.5" r="3.8" fill="#f0fff8"/><circle cx="643.4" cy="528.5" r="1.6" fill="#2a7a4c"/>
<circle cx="561.2" cy="513.0" r="3.8" fill="#f0fff8"/><circle cx="561.2" cy="513.0" r="1.6" fill="#2a7a4c"/>
<circle cx="762.4" cy="558.6" r="3.8" fill="#f0fff8"/><circle cx="762.4" cy="558.6" r="1.6" fill="#2a7a4c"/>
<circle cx="774.8" cy="562.9" r="3.8" fill="#f0fff8"/><circle cx="774.8" cy="562.9" r="1.6" fill="#2a7a4c"/>
<circle cx="757.5" cy="514.8" r="3.8" fill="#f0fff8"/><circle cx="757.5" cy="514.8" r="1.6" fill="#2a7a4c"/>
<circle cx="311.7" cy="468.7" r="3.8" fill="#f0fff8"/><circle cx="311.7" cy="468.7" r="1.6" fill="#2a7a4c"/>
<circle cx="333.3" cy="546.5" r="3.8" fill="#f0fff8"/><circle cx="333.3" cy="546.5" r="1.6" fill="#2a7a4c"/>
<circle cx="576.9" cy="641.3" r="3.8" fill="#f0fff8"/><circle cx="576.9" cy="641.3" r="1.6" fill="#2a7a4c"/>
<circle cx="603.6" cy="549.8" r="3.8" fill="#f0fff8"/><circle cx="603.6" cy="549.8" r="1.6" fill="#2a7a4c"/>
<circle cx="803.3" cy="386.9" r="3.8" fill="#f0fff8"/><circle cx="803.3" cy="386.9" r="1.6" fill="#2a7a4c"/>
<circle cx="353.7" cy="416.8" r="3.8" fill="#f0fff8"/><circle cx="353.7" cy="416.8" r="1.6" fill="#2a7a4c"/>
<circle cx="753.7" cy="540.1" r="3.8" fill="#f0fff8"/><circle cx="753.7" cy="540.1" r="1.6" fill="#2a7a4c"/>
<circle cx="764.1" cy="593.0" r="3.8" fill="#f0fff8"/><circle cx="764.1" cy="593.0" r="1.6" fill="#2a7a4c"/>
<circle cx="735.4" cy="596.2" r="3.8" fill="#f0fff8"/><circle cx="735.4" cy="596.2" r="1.6" fill="#2a7a4c"/>
<circle cx="747.1" cy="563.2" r="3.8" fill="#f0fff8"/><circle cx="747.1" cy="563.2" r="1.6" fill="#2a7a4c"/>
<circle cx="808.4" cy="495.4" r="3.8" fill="#f0fff8"/><circle cx="808.4" cy="495.4" r="1.6" fill="#2a7a4c"/>
<circle cx="733.3" cy="569.4" r="3.8" fill="#f0fff8"/><circle cx="733.3" cy="569.4" r="1.6" fill="#2a7a4c"/>
<circle cx="633.7" cy="564.0" r="3.8" fill="#f0fff8"/><circle cx="633.7" cy="564.0" r="1.6" fill="#2a7a4c"/>
<circle cx="502.6" cy="527.0" r="3.8" fill="#f0fff8"/><circle cx="502.6" cy="527.0" r="1.6" fill="#2a7a4c"/>
<circle cx="518.0" cy="579.3" r="3.8" fill="#f0fff8"/><circle cx="518.0" cy="579.3" r="1.6" fill="#2a7a4c"/>
<circle cx="792.9" cy="597.0" r="3.8" fill="#f0fff8"/><circle cx="792.9" cy="597.0" r="1.6" fill="#2a7a4c"/>
<circle cx="688.3" cy="580.6" r="3.8" fill="#f0fff8"/><circle cx="688.3" cy="580.6" r="1.6" fill="#2a7a4c"/>
<circle cx="711.7" cy="391.2" r="3.8" fill="#f0fff8"/><circle cx="711.7" cy="391.2" r="1.6" fill="#2a7a4c"/>
<circle cx="488.9" cy="658.3" r="3.8" fill="#f0fff8"/><circle cx="488.9" cy="658.3" r="1.6" fill="#2a7a4c"/>
<circle cx="623.2" cy="472.6" r="3.8" fill="#f0fff8"/><circle cx="623.2" cy="472.6" r="1.6" fill="#2a7a4c"/>
<circle cx="809.7" cy="412.3" r="3.8" fill="#f0fff8"/><circle cx="809.7" cy="412.3" r="1.6" fill="#2a7a4c"/>
<circle cx="803.0" cy="529.8" r="3.8" fill="#f0fff8"/><circle cx="803.0" cy="529.8" r="1.6" fill="#2a7a4c"/>
<circle cx="727.3" cy="557.8" r="3.8" fill="#f0fff8"/><circle cx="727.3" cy="557.8" r="1.6" fill="#2a7a4c"/>
<circle cx="599.0" cy="557.5" r="3.8" fill="#f0fff8"/><circle cx="599.0" cy="557.5" r="1.6" fill="#2a7a4c"/>
<circle cx="725.7" cy="594.3" r="3.8" fill="#f0fff8"/><circle cx="725.7" cy="594.3" r="1.6" fill="#2a7a4c"/>
<circle cx="622.5" cy="495.5" r="3.8" fill="#f0fff8"/><circle cx="622.5" cy="495.5" r="1.6" fill="#2a7a4c"/>
<circle cx="642.6" cy="562.7" r="3.8" fill="#f0fff8"/><circle cx="642.6" cy="562.7" r="1.6" fill="#2a7a4c"/>
<circle cx="477.2" cy="687.0" r="3.8" fill="#f0fff8"/><circle cx="477.2" cy="687.0" r="1.6" fill="#2a7a4c"/>
<circle cx="666.4" cy="488.8" r="3.8" fill="#f0fff8"/><circle cx="666.4" cy="488.8" r="1.6" fill="#2a7a4c"/>
<circle cx="638.7" cy="572.5" r="3.8" fill="#f0fff8"/><circle cx="638.7" cy="572.5" r="1.6" fill="#2a7a4c"/>
<circle cx="681.7" cy="384.3" r="3.8" fill="#f0fff8"/><circle cx="681.7" cy="384.3" r="1.6" fill="#2a7a4c"/>
<circle cx="759.4" cy="437.2" r="3.8" fill="#f0fff8"/><circle cx="759.4" cy="437.2" r="1.6" fill="#2a7a4c"/>
<circle cx="739.1" cy="409.2" r="3.8" fill="#f0fff8"/><circle cx="739.1" cy="409.2" r="1.6" fill="#2a7a4c"/>
<circle cx="751.2" cy="503.9" r="3.8" fill="#f0fff8"/><circle cx="751.2" cy="503.9" r="1.6" fill="#2a7a4c"/>
<circle cx="462.8" cy="452.9" r="3.8" fill="#f0fff8"/><circle cx="462.8" cy="452.9" r="1.6" fill="#2a7a4c"/>
<circle cx="584.2" cy="508.8" r="3.8" fill="#f0fff8"/><circle cx="584.2" cy="508.8" r="1.6" fill="#2a7a4c"/>
<circle cx="624.2" cy="532.4" r="3.8" fill="#f0fff8"/><circle cx="624.2" cy="532.4" r="1.6" fill="#2a7a4c"/>
<circle cx="626.4" cy="554.0" r="3.8" fill="#f0fff8"/><circle cx="626.4" cy="554.0" r="1.6" fill="#2a7a4c"/>
<circle cx="522.1" cy="509.0" r="3.8" fill="#f0fff8"/><circle cx="522.1" cy="509.0" r="1.6" fill="#2a7a4c"/>
<circle cx="801.3" cy="434.8" r="3.8" fill="#f0fff8"/><circle cx="801.3" cy="434.8" r="1.6" fill="#2a7a4c"/>
<circle cx="521.3" cy="635.7" r="3.8" fill="#f0fff8"/><circle cx="521.3" cy="635.7" r="1.6" fill="#2a7a4c"/>
<circle cx="771.2" cy="391.4" r="3.8" fill="#f0fff8"/><circle cx="771.2" cy="391.4" r="1.6" fill="#2a7a4c"/>
<circle cx="571.0" cy="498.8" r="3.8" fill="#f0fff8"/><circle cx="571.0" cy="498.8" r="1.6" fill="#2a7a4c"/>
<circle cx="779.1" cy="570.0" r="3.8" fill="#f0fff8"/><circle cx="779.1" cy="570.0" r="1.6" fill="#2a7a4c"/>
<circle cx="574.3" cy="616.3" r="3.8" fill="#f0fff8"/><circle cx="574.3" cy="616.3" r="1.6" fill="#2a7a4c"/>
<circle cx="675.9" cy="397.4" r="3.8" fill="#f0fff8"/><circle cx="675.9" cy="397.4" r="1.6" fill="#2a7a4c"/>
<circle cx="418.2" cy="542.2" r="3.8" fill="#f0fff8"/><circle cx="418.2" cy="542.2" r="1.6" fill="#2a7a4c"/>
<circle cx="678.0" cy="591.0" r="3.8" fill="#f0fff8"/><circle cx="678.0" cy="591.0" r="1.6" fill="#2a7a4c"/>
<circle cx="848.5" cy="533.8" r="3.8" fill="#f0fff8"/><circle cx="848.5" cy="533.8" r="1.6" fill="#2a7a4c"/>
<circle cx="787.3" cy="586.9" r="3.8" fill="#f0fff8"/><circle cx="787.3" cy="586.9" r="1.6" fill="#2a7a4c"/>
<circle cx="770.4" cy="586.9" r="3.8" fill="#f0fff8"/><circle cx="770.4" cy="586.9" r="1.6" fill="#2a7a4c"/>
<circle cx="733.9" cy="382.9" r="3.8" fill="#f0fff8"/><circle cx="733.9" cy="382.9" r="1.6" fill="#2a7a4c"/>
<circle cx="647.0" cy="475.0" r="3.8" fill="#f0fff8"/><circle cx="647.0" cy="475.0" r="1.6" fill="#2a7a4c"/>
<circle cx="432.9" cy="471.3" r="3.8" fill="#f0fff8"/><circle cx="432.9" cy="471.3" r="1.6" fill="#2a7a4c"/>
<circle cx="790.2" cy="610.7" r="3.8" fill="#f0fff8"/><circle cx="790.2" cy="610.7" r="1.6" fill="#2a7a4c"/>
<circle cx="770.1" cy="524.9" r="3.8" fill="#f0fff8"/><circle cx="770.1" cy="524.9" r="1.6" fill="#2a7a4c"/>
<circle cx="535.1" cy="453.9" r="3.8" fill="#f0fff8"/><circle cx="535.1" cy="453.9" r="1.6" fill="#2a7a4c"/>
<circle cx="440.1" cy="585.1" r="3.8" fill="#f0fff8"/><circle cx="440.1" cy="585.1" r="1.6" fill="#2a7a4c"/>
<circle cx="732.6" cy="396.4" r="3.8" fill="#f0fff8"/><circle cx="732.6" cy="396.4" r="1.6" fill="#2a7a4c"/>
<circle cx="651.2" cy="521.6" r="3.8" fill="#f0fff8"/><circle cx="651.2" cy="521.6" r="1.6" fill="#2a7a4c"/>
<circle cx="344.8" cy="459.8" r="3.8" fill="#f0fff8"/><circle cx="344.8" cy="459.8" r="1.6" fill="#2a7a4c"/>
<circle cx="521.4" cy="601.2" r="3.8" fill="#f0fff8"/><circle cx="521.4" cy="601.2" r="1.6" fill="#2a7a4c"/>
<circle cx="721.3" cy="396.9" r="3.8" fill="#f0fff8"/><circle cx="721.3" cy="396.9" r="1.6" fill="#2a7a4c"/>
<circle cx="663.6" cy="564.4" r="3.8" fill="#f0fff8"/><circle cx="663.6" cy="564.4" r="1.6" fill="#2a7a4c"/>
<circle cx="568.4" cy="436.6" r="3.8" fill="#f0fff8"/><circle cx="568.4" cy="436.6" r="1.6" fill="#2a7a4c"/>
<circle cx="574.4" cy="597.3" r="3.8" fill="#f0fff8"/><circle cx="574.4" cy="597.3" r="1.6" fill="#2a7a4c"/>
<circle cx="583.4" cy="617.0" r="3.8" fill="#f0fff8"/><circle cx="583.4" cy="617.0" r="1.6" fill="#2a7a4c"/>
<circle cx="409.4" cy="515.1" r="3.8" fill="#f0fff8"/><circle cx="409.4" cy="515.1" r="1.6" fill="#2a7a4c"/>
<circle cx="471.2" cy="416.9" r="3.8" fill="#f0fff8"/><circle cx="471.2" cy="416.9" r="1.6" fill="#2a7a4c"/>
<circle cx="577.8" cy="623.8" r="3.8" fill="#f0fff8"/><circle cx="577.8" cy="623.8" r="1.6" fill="#2a7a4c"/>
<circle cx="725.2" cy="571.9" r="3.8" fill="#f0fff8"/><circle cx="725.2" cy="571.9" r="1.6" fill="#2a7a4c"/>
<circle cx="669.6" cy="526.1" r="3.8" fill="#f0fff8"/><circle cx="669.6" cy="526.1" r="1.6" fill="#2a7a4c"/>
<circle cx="786.0" cy="540.3" r="3.8" fill="#f0fff8"/><circle cx="786.0" cy="540.3" r="1.6" fill="#2a7a4c"/>
<circle cx="757.7" cy="412.7" r="3.8" fill="#f0fff8"/><circle cx="757.7" cy="412.7" r="1.6" fill="#2a7a4c"/>
<circle cx="526.4" cy="478.3" r="3.8" fill="#f0fff8"/><circle cx="526.4" cy="478.3" r="1.6" fill="#2a7a4c"/>
<circle cx="463.9" cy="566.6" r="3.8" fill="#f0fff8"/><circle cx="463.9" cy="566.6" r="1.6" fill="#2a7a4c"/>
<circle cx="553.6" cy="537.7" r="3.8" fill="#f0fff8"/><circle cx="553.6" cy="537.7" r="1.6" fill="#2a7a4c"/>
<circle cx="519.0" cy="373.1" r="3.8" fill="#f0fff8"/><circle cx="519.0" cy="373.1" r="1.6" fill="#2a7a4c"/>
<circle cx="560.1" cy="581.8" r="3.8" fill="#f0fff8"/><circle cx="560.1" cy="581.8" r="1.6" fill="#2a7a4c"/>
<circle cx="387.5" cy="486.9" r="3.8" fill="#f0fff8"/><circle cx="387.5" cy="486.9" r="1.6" fill="#2a7a4c"/>
<circle cx="560.1" cy="599.4" r="3.8" fill="#f0fff8"/><circle cx="560.1" cy="599.4" r="1.6" fill="#2a7a4c"/>
<circle cx="637.5" cy="520.4" r="3.8" fill="#f0fff8"/><circle cx="637.5" cy="520.4" r="1.6" fill="#2a7a4c"/>
<circle cx="536.8" cy="611.8" r="3.8" fill="#f0fff8"/><circle cx="536.8" cy="611.8" r="1.6" fill="#2a7a4c"/>
<circle cx="338.5" cy="520.8" r="3.8" fill="#f0fff8"/><circle cx="338.5" cy="520.8" r="1.6" fill="#2a7a4c"/>
<circle cx="399.6" cy="612.5" r="3.8" fill="#f0fff8"/><circle cx="399.6" cy="612.5" r="1.6" fill="#2a7a4c"/>
<circle cx="706.1" cy="426.8" r="3.8" fill="#f0fff8"/><circle cx="706.1" cy="426.8" r="1.6" fill="#2a7a4c"/>
<circle cx="560.0" cy="545.5" r="3.8" fill="#f0fff8"/><circle cx="560.0" cy="545.5" r="1.6" fill="#2a7a4c"/>
<circle cx="554.7" cy="392.8" r="3.8" fill="#f0fff8"/><circle cx="554.7" cy="392.8" r="1.6" fill="#2a7a4c"/>
<circle cx="354.9" cy="511.3" r="3.8" fill="#f0fff8"/><circle cx="354.9" cy="511.3" r="1.6" fill="#2a7a4c"/>
<circle cx="726.3" cy="501.6" r="3.8" fill="#f0fff8"/><circle cx="726.3" cy="501.6" r="1.6" fill="#2a7a4c"/>
<circle cx="772.6" cy="553.3" r="3.8" fill="#f0fff8"/><circle cx="772.6" cy="553.3" r="1.6" fill="#2a7a4c"/>
<circle cx="542.9" cy="420.5" r="3.8" fill="#f0fff8"/><circle cx="542.9" cy="420.5" r="1.6" fill="#2a7a4c"/>
<circle cx="622.6" cy="515.8" r="3.8" fill="#f0fff8"/><circle cx="622.6" cy="515.8" r="1.6" fill="#2a7a4c"/>
<circle cx="538.9" cy="482.8" r="3.8" fill="#f0fff8"/><circle cx="538.9" cy="482.8" r="1.6" fill="#2a7a4c"/>
<circle cx="690.7" cy="501.9" r="3.8" fill="#f0fff8"/><circle cx="690.7" cy="501.9" r="1.6" fill="#2a7a4c"/>
<circle cx="560.8" cy="562.9" r="3.8" fill="#f0fff8"/><circle cx="560.8" cy="562.9" r="1.6" fill="#2a7a4c"/>
<circle cx="860.0" cy="564.7" r="3.8" fill="#f0fff8"/><circle cx="860.0" cy="564.7" r="1.6" fill="#2a7a4c"/>
<circle cx="551.5" cy="485.1" r="3.8" fill="#f0fff8"/><circle cx="551.5" cy="485.1" r="1.6" fill="#2a7a4c"/>
<circle cx="840.7" cy="528.2" r="3.8" fill="#f0fff8"/><circle cx="840.7" cy="528.2" r="1.6" fill="#2a7a4c"/>
<circle cx="485.2" cy="492.9" r="3.8" fill="#f0fff8"/><circle cx="485.2" cy="492.9" r="1.6" fill="#2a7a4c"/>
<circle cx="773.7" cy="488.7" r="3.8" fill="#f0fff8"/><circle cx="773.7" cy="488.7" r="1.6" fill="#2a7a4c"/>
<circle cx="511.1" cy="592.5" r="3.8" fill="#f0fff8"/><circle cx="511.1" cy="592.5" r="1.6" fill="#2a7a4c"/>
<circle cx="852.7" cy="500.4" r="3.8" fill="#f0fff8"/><circle cx="852.7" cy="500.4" r="1.6" fill="#2a7a4c"/>
<circle cx="368.2" cy="490.7" r="3.8" fill="#f0fff8"/><circle cx="368.2" cy="490.7" r="1.6" fill="#2a7a4c"/>
<circle cx="519.6" cy="540.4" r="3.8" fill="#f0fff8"/><circle cx="519.6" cy="540.4" r="1.6" fill="#2a7a4c"/>
<circle cx="302.5" cy="527.4" r="3.8" fill="#f0fff8"/><circle cx="302.5" cy="527.4" r="1.6" fill="#2a7a4c"/>
<circle cx="733.9" cy="586.1" r="3.8" fill="#f0fff8"/><circle cx="733.9" cy="586.1" r="1.6" fill="#2a7a4c"/>
<circle cx="650.4" cy="404.1" r="3.8" fill="#f0fff8"/><circle cx="650.4" cy="404.1" r="1.6" fill="#2a7a4c"/>
<circle cx="814.7" cy="479.3" r="3.8" fill="#f0fff8"/><circle cx="814.7" cy="479.3" r="1.6" fill="#2a7a4c"/>
<circle cx="564.6" cy="493.5" r="3.8" fill="#f0fff8"/><circle cx="564.6" cy="493.5" r="1.6" fill="#2a7a4c"/>
<circle cx="533.6" cy="652.5" r="3.8" fill="#f0fff8"/><circle cx="533.6" cy="652.5" r="1.6" fill="#2a7a4c"/>
<rect x="123.7" y="697.5" width="245" height="42.7" fill="#fcfcfc" fill-opacity=".92"/>
<text x="131" y="730" font-family="Liberation Sans, sans-serif" font-size="28.5" letter-spacing="-0.55" fill="#7b7b7b" style="white-space:pre">© Mapbox  © OSM</text>
<rect x="119.5" y="291.5" width="930" height="453" fill="none" stroke="#e6e6e6" stroke-width="3"/>
</svg>
<div style="position:absolute;left:388.7px;top:794px;width:12px;height:12px;border-radius:50%;background:#b0b0b0"></div>
<div class="t" style="left:491px;top:788.78px;font-size:26.6px;line-height:33px;color:#333;font-weight:normal;letter-spacing:0px;">1</div>
<div style="position:absolute;left:730.6px;top:776.1px;width:48px;height:48px;border-radius:50%;box-sizing:border-box;background:#d9d9d9;border:6px solid #b3b3b3"></div>
<div class="t" style="left:820px;top:788.88px;font-size:26.6px;line-height:33px;color:#333;font-weight:normal;letter-spacing:1.0px;">200</div>
<div class="t" style="left:123.8px;top:870.59px;font-size:32.92px;line-height:41px;color:#333;font-weight:normal;letter-spacing:0px;">Seleccione municipio para ver sus indicadores:</div>
<div class="dd" style="top:923.7px;height:67.6px"></div><div style="position:absolute;left:991px;top:925.7px;width:2.75px;height:63.599999999999994px;background:#c9c9c9"></div><svg style="position:absolute;left:1004px;top:948.3px" width="30" height="24" viewBox="0 0 30 24"><path d="M4.3 4.5 L26.2 4.5 L15.2 19.3 Z" fill="#666"/></svg><div class="t" style="left:138.7px;top:935.01px;font-size:33.17px;line-height:41px;color:#333;font-weight:normal;letter-spacing:0px;">Castilblanco de los Arroyos</div>
<div style="position:absolute;left:118px;top:1022px;width:931.5px;height:2.8px;background:#ccc"></div>
<div style="position:absolute;left:118px;top:1061px;width:930px;height:38.8px;background:#f3f3f3"></div>
<div style="position:absolute;left:118px;top:1136px;width:930px;height:38.8px;background:#f3f3f3"></div>
<div style="position:absolute;left:118px;top:1174.8px;width:931.5px;height:2.8px;background:#ccc"></div>
<div class="t" style="left:135px;top:1020.89px;font-size:31.5px;line-height:39px;color:#333;font-weight:normal;letter-spacing:0.13px;">Diagnosticados PDIA &lt;14 días</div>
<div class="t" style="right:47.40000000000009px;top:1021.99px;font-size:31.5px;line-height:39px;color:#333;font-weight:normal;letter-spacing:0px;">11</div>
<div class="t" style="left:135px;top:1060.19px;font-size:31.5px;line-height:39px;color:#333;font-weight:normal;letter-spacing:0px;">Diagsnosticados PDIA con FIS &lt;14 días</div>
<div class="t" style="right:44.40000000000009px;top:1060.19px;font-size:31.5px;line-height:39px;color:#333;font-weight:normal;letter-spacing:0px;">4</div>
<div class="t" style="left:135px;top:1098.59px;font-size:31.5px;line-height:39px;color:#333;font-weight:normal;letter-spacing:0.05px;">Diagnosticados PDIA &lt; 7 días</div>
<div class="t" style="right:44.40000000000009px;top:1098.49px;font-size:31.5px;line-height:39px;color:#333;font-weight:normal;letter-spacing:0px;">3</div>
<div class="t" style="left:135px;top:1135.59px;font-size:31.5px;line-height:39px;color:#333;font-weight:normal;letter-spacing:0px;">Diagnosticados PDIA con FIS &lt;7 días</div>
<div class="t" style="right:47.59999999999991px;top:1137.19px;font-size:31.5px;line-height:39px;color:#333;font-weight:normal;letter-spacing:0px;">1</div>
<div style="position:absolute;left:22px;top:1226.3px;width:1036px;height:2.4px;background:#e2e2e2"></div>
<div class="t" style="left:21px;top:1230.57px;font-size:33px;line-height:41px;color:#6f6f6f;font-weight:normal;letter-spacing:0.7px;">Elaborado por: Instituto de Estadística y Cartografía de Andalucía</div>
<div class="t" style="left:21px;top:1270.57px;font-size:33px;line-height:41px;color:#6f6f6f;font-weight:normal;letter-spacing:0.39px;">Fuente: D.G. de Salud Pública y Ordenación Farmacéutica</div>
<div class="t" style="left:21px;top:1310.37px;font-size:33px;line-height:41px;color:#6f6f6f;font-weight:normal;letter-spacing:0.82px;">Sistema de Vigilancia Epidemiológica de Andalucía</div>
<div class="t" style="left:21px;top:1350.37px;font-size:33px;line-height:41px;color:#6f6f6f;font-weight:normal;letter-spacing:0.5px;">Consejería de Salud y Familias</div>
</body></html>
